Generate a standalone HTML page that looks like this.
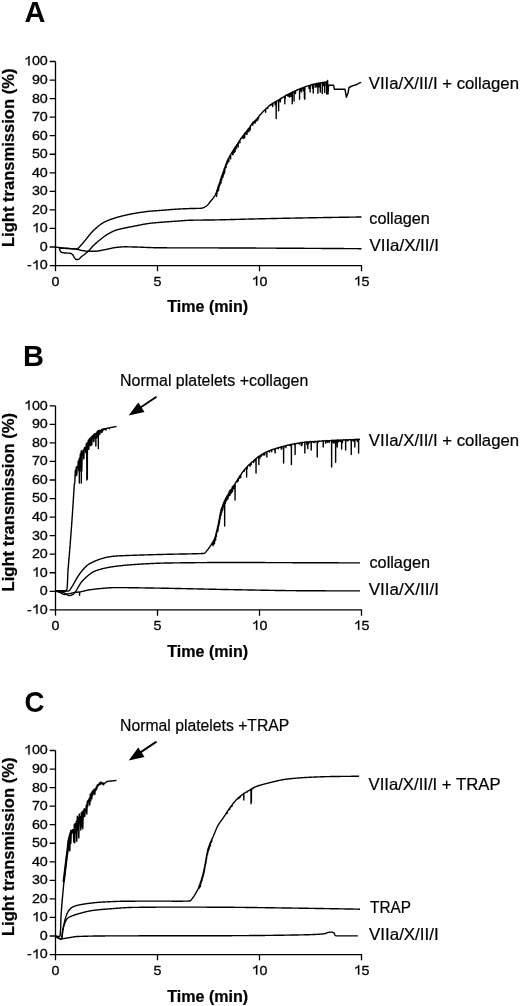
<!DOCTYPE html><html><head><meta charset="utf-8"><style>html,body{margin:0;padding:0;background:#fff;}svg{display:block;will-change:transform;filter:blur(0.35px);}text{font-family:"Liberation Sans",sans-serif;fill:#000;-webkit-font-smoothing:antialiased;}</style></head><body>
<svg width="520" height="1006" viewBox="0 0 520 1006">
<rect width="520" height="1006" fill="#fff"/>
<path d="M55.50 61.50 V271.35M49.70 265.55 H361.50 V271.35M49.70 247.00 H55.50M49.70 228.45 H55.50M49.70 209.90 H55.50M49.70 191.35 H55.50M49.70 172.80 H55.50M49.70 154.25 H55.50M49.70 135.70 H55.50M49.70 117.15 H55.50M49.70 98.60 H55.50M49.70 80.05 H55.50M49.70 61.50 H55.50M157.50 265.55 V271.35M259.50 265.55 V271.35M55.50 405.80 V615.65M49.70 609.85 H361.50 V615.65M49.70 591.30 H55.50M49.70 572.75 H55.50M49.70 554.20 H55.50M49.70 535.65 H55.50M49.70 517.10 H55.50M49.70 498.55 H55.50M49.70 480.00 H55.50M49.70 461.45 H55.50M49.70 442.90 H55.50M49.70 424.35 H55.50M49.70 405.80 H55.50M157.50 609.85 V615.65M259.50 609.85 V615.65M55.50 750.50 V960.35M49.70 954.55 H361.50 V960.35M49.70 936.00 H55.50M49.70 917.45 H55.50M49.70 898.90 H55.50M49.70 880.35 H55.50M49.70 861.80 H55.50M49.70 843.25 H55.50M49.70 824.70 H55.50M49.70 806.15 H55.50M49.70 787.60 H55.50M49.70 769.05 H55.50M49.70 750.50 H55.50M157.50 954.55 V960.35M259.50 954.55 V960.35" stroke="#000" stroke-width="1.3" fill="none"/>
<path d="M59.60 248.20L60.00 248.21L60.40 248.23L60.80 248.24L61.20 248.26L61.60 248.27L62.00 248.29L62.40 248.30L62.80 248.32L63.20 248.33L63.61 248.35L64.01 248.36L64.41 248.38L64.81 248.39L65.21 248.41L65.61 248.42L66.01 248.44L66.41 248.45L66.81 248.47L67.21 248.48L67.61 248.50L68.01 248.51L68.41 248.53L68.81 248.55L69.21 248.56L69.61 248.58L70.01 248.60L70.42 248.62L70.83 248.65L71.24 248.67L71.66 248.70L72.08 248.73L72.50 248.76L72.92 248.79L73.33 248.82L73.75 248.85L74.16 248.88L74.57 248.91L74.97 248.93L75.36 248.95L75.74 248.97L76.12 248.99L76.48 249.00L76.83 249.00L77.16 248.97L77.49 248.85L77.81 248.66L78.12 248.41L78.42 248.12L78.72 247.79L79.01 247.44L79.30 247.09L79.58 246.75L79.87 246.44L80.15 246.15L80.43 245.87L80.70 245.58L80.97 245.28L81.24 244.99L81.51 244.69L81.77 244.39L82.03 244.08L82.29 243.77L82.55 243.47L82.80 243.16L83.06 242.84L83.31 242.53L83.57 242.22L83.82 241.91L84.08 241.60L84.33 241.29L84.59 240.98L84.85 240.68L85.11 240.37L85.37 240.06L85.63 239.76L85.88 239.45L86.14 239.14L86.39 238.82L86.65 238.51L86.90 238.20L87.15 237.88L87.40 237.56L87.65 237.25L87.91 236.93L88.16 236.62L88.41 236.30L88.66 235.98L88.91 235.67L89.16 235.36L89.42 235.04L89.67 234.73L89.93 234.42L90.18 234.11L90.44 233.80L90.70 233.50L90.96 233.19L91.22 232.89L91.49 232.59L91.76 232.30L92.02 232.01L92.30 231.71L92.57 231.43L92.85 231.14L93.13 230.86L93.41 230.59L93.69 230.31L93.98 230.04L94.27 229.77L94.56 229.49L94.86 229.22L95.15 228.94L95.45 228.67L95.75 228.40L96.05 228.13L96.35 227.85L96.66 227.59L96.97 227.32L97.27 227.05L97.59 226.79L97.90 226.52L98.21 226.26L98.53 226.01L98.85 225.75L99.17 225.50L99.49 225.25L99.81 225.01L100.14 224.76L100.46 224.53L100.79 224.29L101.12 224.06L101.45 223.84L101.78 223.62L102.12 223.40L102.45 223.19L102.79 222.99L103.13 222.79L103.47 222.59L103.81 222.40L104.15 222.22L104.50 222.04L104.84 221.87L105.20 221.69L105.55 221.52L105.91 221.35L106.27 221.19L106.63 221.03L107.00 220.87L107.36 220.71L107.73 220.55L108.10 220.40L108.48 220.25L108.85 220.10L109.23 219.95L109.61 219.81L109.99 219.67L110.37 219.53L110.75 219.39L111.13 219.25L111.51 219.12L111.90 218.98L112.28 218.85L112.67 218.72L113.05 218.59L113.44 218.47L113.82 218.34L114.21 218.22L114.59 218.09L114.98 217.97L115.36 217.85L115.75 217.73L116.13 217.61L116.51 217.50L116.89 217.38L117.28 217.27L117.66 217.15L118.04 217.04L118.43 216.94L118.82 216.83L119.20 216.72L119.59 216.62L119.98 216.52L120.37 216.41L120.75 216.31L121.14 216.22L121.53 216.12L121.92 216.02L122.31 215.93L122.70 215.83L123.09 215.74L123.48 215.65L123.88 215.56L124.27 215.47L124.66 215.38L125.05 215.29L125.44 215.20L125.83 215.11L126.22 215.03L126.61 214.94L127.00 214.85L127.39 214.77L127.79 214.69L128.18 214.60L128.57 214.52L128.96 214.44L129.36 214.36L129.75 214.28L130.14 214.20L130.54 214.12L130.93 214.04L131.32 213.96L131.72 213.89L132.11 213.81L132.51 213.74L132.90 213.67L133.29 213.60L133.69 213.53L134.08 213.46L134.48 213.39L134.87 213.32L135.27 213.26L135.66 213.19L136.06 213.12L136.45 213.06L136.85 212.99L137.24 212.93L137.64 212.87L138.03 212.80L138.43 212.74L138.83 212.67L139.22 212.61L139.62 212.55L140.02 212.49L140.41 212.43L140.81 212.37L141.21 212.31L141.60 212.25L142.00 212.19L142.40 212.13L142.79 212.07L143.19 212.02L143.59 211.96L143.99 211.91L144.38 211.85L144.78 211.80L145.18 211.75L145.58 211.70L145.97 211.65L146.37 211.60L146.77 211.55L147.17 211.50L147.57 211.46L147.96 211.41L148.36 211.37L148.76 211.32L149.16 211.28L149.56 211.24L149.95 211.20L150.35 211.17L150.75 211.13L151.15 211.10L151.55 211.06L151.95 211.03L152.35 211.00L152.75 210.97L153.15 210.93L153.55 210.91L153.95 210.88L154.35 210.85L154.75 210.82L155.15 210.79L155.55 210.76L155.95 210.74L156.35 210.71L156.75 210.68L157.15 210.66L157.55 210.63L157.95 210.60L158.35 210.58L158.75 210.55L159.15 210.52L159.55 210.49L159.95 210.46L160.35 210.43L160.75 210.40L161.15 210.37L161.55 210.34L161.94 210.31L162.34 210.28L162.74 210.25L163.14 210.21L163.54 210.18L163.94 210.15L164.34 210.11L164.74 210.08L165.14 210.04L165.54 210.01L165.94 209.98L166.34 209.94L166.74 209.91L167.14 209.87L167.54 209.84L167.94 209.80L168.34 209.77L168.74 209.74L169.13 209.70L169.53 209.67L169.93 209.64L170.33 209.60L170.73 209.57L171.13 209.54L171.53 209.51L171.93 209.48L172.33 209.45L172.73 209.42L173.13 209.39L173.53 209.36L173.93 209.33L174.33 209.30L174.73 209.28L175.13 209.25L175.53 209.23L175.93 209.20L176.33 209.18L176.73 209.16L177.13 209.14L177.53 209.11L177.93 209.09L178.33 209.07L178.73 209.05L179.13 209.03L179.53 209.00L179.93 208.98L180.33 208.96L180.73 208.94L181.13 208.92L181.53 208.90L181.93 208.88L182.33 208.86L182.73 208.84L183.13 208.82L183.53 208.80L183.93 208.78L184.33 208.77L184.73 208.75L185.14 208.73L185.54 208.71L185.94 208.70L186.34 208.68L186.74 208.66L187.14 208.65L187.54 208.63L187.94 208.62L188.34 208.60L188.74 208.59L189.14 208.57L189.54 208.56L189.94 208.55L190.34 208.53L190.74 208.52L191.14 208.51L191.54 208.50L191.94 208.49L192.35 208.48L192.75 208.47L193.15 208.46L193.55 208.46L193.96 208.45L194.36 208.44L194.76 208.44L195.17 208.43L195.57 208.43L195.98 208.42L196.38 208.42L196.78 208.41L197.18 208.41L197.58 208.40L197.98 208.39L198.38 208.38L198.78 208.37L199.18 208.36L199.58 208.35L199.97 208.33L200.37 208.32L200.76 208.30L201.15 208.27L201.55 208.21L201.94 208.12L202.34 208.01L202.72 207.88L203.11 207.75L203.49 207.60L203.86 207.46L204.22 207.31L204.58 207.14L204.93 206.95L205.29 206.75L205.63 206.53L205.97 206.30L206.30 206.06L206.62 205.81L206.92 205.56L207.22 205.31L207.50 205.04L207.78 204.76L208.05 204.47L208.31 204.17L208.57 203.86L208.82 203.54L209.07 203.22L209.32 202.90L209.57 202.57L209.82 202.25L210.06 201.93L210.31 201.61L210.56 201.30L210.82 200.99L211.08 200.68L211.34 200.37L211.60 200.06L211.86 199.74L212.12 199.43L212.38 199.12L212.64 198.81L212.90 198.49L213.15 198.17L213.40 197.86L213.64 197.53L213.87 197.21L214.10 196.88L214.32 196.55L214.53 196.22L214.73 195.88L214.92 195.54L215.10 195.20L215.28 194.85L215.44 194.49L215.61 194.13L215.76 193.77L215.92 193.40L216.07 193.03L216.21 192.66L216.35 192.28L216.49 191.90L216.57 196.37L216.65 191.90L216.63 191.52L216.71 195.66L216.79 191.52L216.76 191.14L216.84 192.92L216.92 191.14L216.89 190.75L216.97 193.62L217.05 190.75L217.02 190.37L217.15 189.99L217.28 189.60L217.41 189.22L217.54 188.83L217.67 188.45L217.75 187.60L217.83 188.45L217.80 188.07L217.88 187.30L217.96 188.07L217.93 187.69L218.01 191.07L218.09 187.69L218.07 187.31L218.20 186.93L218.28 186.62L218.36 186.93L218.33 186.55L218.41 187.91L218.49 186.55L218.46 186.18L218.54 185.13L218.62 186.18L218.59 185.80L218.67 190.20L218.75 185.80L218.72 185.42L218.85 185.04L218.97 184.66L219.10 184.28L219.23 183.90L219.31 186.71L219.39 183.90L219.35 183.52L219.48 183.13L219.56 183.64L219.64 183.13L219.60 182.75L219.68 183.81L219.76 182.75L219.72 182.37L219.85 181.99L219.93 185.14L220.01 181.99L219.97 181.61L220.10 181.23L220.22 180.85L220.35 180.47L220.43 181.99L220.51 180.47L220.47 180.09L220.55 178.91L220.63 180.09L220.60 179.70L220.68 181.53L220.76 179.70L220.72 179.32L220.85 178.94L220.98 178.56L221.06 183.11L221.14 178.56L221.11 178.18L221.24 177.81L221.36 177.43L221.44 176.29L221.52 177.43L221.49 177.05L221.62 176.67L221.70 179.97L221.78 176.67L221.75 176.29L221.88 175.91L221.96 177.41L222.04 175.91L222.00 175.53L222.08 178.09L222.16 175.53L222.13 175.15L222.26 174.77L222.34 175.01L222.42 174.77L222.39 174.39L222.47 173.98L222.55 174.39L222.52 174.01L222.65 173.63L222.78 173.25L222.86 177.43L222.94 173.25L222.91 172.87L222.99 176.30L223.07 172.87L223.04 172.49L223.12 176.24L223.20 172.49L223.17 172.11L223.30 171.73L223.38 171.80L223.46 171.73L223.43 171.36L223.57 170.98L223.70 170.60L223.78 174.52L223.86 170.60L223.83 170.22L223.91 174.05L223.99 170.22L223.97 169.84L224.10 169.47L224.24 169.09L224.32 168.46L224.40 169.09L224.37 168.71L224.45 173.10L224.53 168.71L224.51 168.34L224.64 167.96L224.72 172.35L224.80 167.96L224.78 167.58L224.86 170.26L224.94 167.58L224.91 167.20L225.05 166.82L225.18 166.44L225.32 166.06L225.45 165.69L225.53 167.91L225.61 165.69L225.59 165.31L225.73 164.93L225.81 167.60L225.89 164.93L225.87 164.55L226.01 164.18L226.09 167.47L226.17 164.18L226.15 163.80L226.29 163.43L226.44 163.06L226.59 162.68L226.67 163.93L226.75 162.68L226.74 162.31L226.82 161.19L226.90 162.31L226.89 161.94L227.05 161.58L227.13 164.05L227.21 161.58L227.21 161.21L227.37 160.85L227.53 160.49L227.61 162.89L227.69 160.49L227.70 160.12L227.87 159.76L228.05 159.40L228.13 158.73L228.21 159.40L228.22 159.04L228.40 158.69L228.59 158.33L228.77 157.97L228.85 161.63L228.93 157.97L228.96 157.62L229.15 157.26L229.34 156.91L229.53 156.56L229.61 156.24L229.69 156.56L229.73 156.21L229.81 155.74L229.89 156.21L229.92 155.85L230.12 155.50L230.20 156.53L230.28 155.50L230.32 155.15L230.52 154.81L230.60 158.87L230.68 154.81L230.72 154.46L230.93 154.11L231.13 153.77L231.33 153.42L231.54 153.07L231.62 153.39L231.70 153.07L231.74 152.73L231.95 152.39L232.15 152.04L232.36 151.70L232.44 153.38L232.52 151.70L232.58 151.37L232.66 154.85L232.74 151.37L232.79 151.03L232.87 154.50L232.95 151.03L233.01 150.69L233.09 154.45L233.17 150.69L233.23 150.36L233.31 153.25L233.39 150.36L233.45 150.02L233.67 149.69L233.75 152.54L233.83 149.69L233.90 149.36L234.12 149.02L234.35 148.69L234.43 152.34L234.51 148.69L234.57 148.36L234.80 148.03L234.88 147.14L234.96 148.03L235.03 147.70L235.11 151.57L235.19 147.70L235.25 147.37L235.33 149.52L235.41 147.37L235.48 147.04L235.70 146.70L235.78 147.51L235.86 146.70L235.93 146.37L236.15 146.04L236.37 145.70L236.45 148.43L236.53 145.70L236.59 145.37L236.67 144.97L236.75 145.37L236.80 145.03L236.88 144.50L236.96 145.03L237.02 144.69L237.10 145.26L237.18 144.69L237.23 144.35L237.45 144.01L237.53 143.67L237.61 144.01L237.66 143.67L237.74 145.21L237.82 143.67L237.87 143.33L237.95 146.31L238.03 143.33L238.08 142.99L238.16 146.94L238.24 142.99L238.29 142.65L238.37 143.32L238.45 142.65L238.51 142.31L238.72 141.97L238.93 141.63L239.15 141.29L239.37 140.96L239.45 140.50L239.53 140.96L239.59 140.62L239.81 140.29L239.89 142.86L239.97 140.29L240.03 139.96L240.25 139.62L240.48 139.29L240.56 138.75L240.64 139.29L240.71 138.96L240.93 138.63L241.16 138.30L241.40 137.97L241.63 137.65L241.86 137.32L242.10 137.00L242.18 138.05L242.26 137.00L242.34 136.67L242.58 136.35L242.82 136.04L243.06 135.72L243.14 137.73L243.22 135.72L243.31 135.41L243.39 137.86L243.47 135.41L243.57 135.10L243.65 138.17L243.73 135.10L243.83 134.79L243.91 138.50L243.99 134.79L244.09 134.49L244.17 133.96L244.25 134.49L244.35 134.19L244.62 133.88L244.70 137.24L244.78 133.88L244.88 133.58L245.14 133.28L245.22 132.68L245.30 133.28L245.40 132.97L245.48 132.50L245.56 132.97L245.65 132.66L245.73 133.68L245.81 132.66L245.90 132.35L246.15 132.03L246.23 132.47L246.31 132.03L246.40 131.72L246.48 131.33L246.56 131.72L246.65 131.40L246.73 133.41L246.81 131.40L246.90 131.09L246.98 134.51L247.06 131.09L247.14 130.77L247.39 130.45L247.47 131.59L247.55 130.45L247.63 130.13L247.71 129.68L247.79 130.13L247.87 129.81L247.95 129.26L248.03 129.81L248.11 129.49L248.19 128.99L248.27 129.49L248.35 129.17L248.43 130.50L248.51 129.17L248.59 128.85L248.67 131.06L248.75 128.85L248.82 128.52L248.90 131.78L248.98 128.52L249.06 128.20L249.14 127.87L249.22 128.20L249.29 127.87L249.52 127.54L249.74 127.21L249.82 128.22L249.90 127.21L249.95 126.87L250.03 130.17L250.11 126.87L250.17 126.52L250.25 128.87L250.33 126.52L250.38 126.18L250.46 125.74L250.54 126.18L250.59 125.84L250.81 125.50L251.02 125.16L251.25 124.83L251.47 124.50L251.71 124.18L251.95 123.86L252.20 123.56L252.46 123.26L252.54 122.74L252.62 123.26L252.74 122.97L252.82 125.19L252.90 122.97L253.02 122.69L253.10 123.44L253.18 122.69L253.30 122.40L253.38 121.81L253.46 122.40L253.59 122.13L253.67 123.32L253.75 122.13L253.88 121.85L254.18 121.58L254.48 121.30L254.77 121.02L255.06 120.75L255.14 123.13L255.22 120.75L255.35 120.46L255.63 120.18L255.71 121.08L255.79 120.18L255.91 119.89L255.99 120.24L256.07 119.89L256.18 119.59L256.45 119.30L256.53 120.99L256.61 119.30L256.71 119.00L256.79 120.84L256.87 119.00L256.98 118.70L257.24 118.39L257.32 120.31L257.40 118.39L257.50 118.09L257.76 117.78L257.84 119.87L257.92 117.78L258.02 117.47L258.28 117.17L258.36 118.22L258.44 117.17L258.53 116.86L258.61 117.82L258.69 116.86L258.79 116.55L259.05 116.24L259.30 115.93L259.56 115.62L259.81 115.31L260.07 115.00L260.33 114.69L260.59 114.38L260.85 114.08L261.11 113.77L261.37 113.47L261.63 113.17L261.90 112.87L262.17 112.58L262.44 112.29L262.71 112.00L262.99 111.71L263.27 111.42L263.55 111.14L263.83 110.85L264.11 110.57L264.40 110.28L264.68 110.00L264.97 109.71L265.26 109.43L265.54 109.14L265.62 112.30L265.70 109.14L265.83 108.86L266.12 108.58L266.42 108.30L266.71 108.03L267.01 107.75L267.30 107.48L267.60 107.21L267.68 108.55L267.76 107.21L267.90 106.94L268.21 106.68L268.51 106.42L268.82 106.16L269.12 105.90L269.43 105.65L269.74 105.40L270.06 105.16L270.37 104.92L270.69 104.68L271.01 104.45L271.33 104.22L271.66 104.00L271.99 103.78L272.07 105.20L272.15 103.78L272.33 103.56L272.67 103.35L272.75 106.45L272.83 103.35L273.01 103.14L273.35 102.94L273.70 102.73L274.04 102.53L274.39 102.33L274.74 102.13L275.09 101.93L275.17 104.68L275.25 101.93L275.45 101.74L275.80 101.54L275.88 104.63L275.96 101.54L276.15 101.34L276.20 118.50L276.25 101.34L276.50 101.15L276.58 102.33L276.66 101.15L276.85 100.95L277.21 100.75L277.55 100.55L277.90 100.35L278.25 100.15L278.59 99.94L278.64 110.80L278.69 99.94L278.94 99.74L279.28 99.53L279.36 100.88L279.44 99.53L279.62 99.32L279.97 99.11L280.31 98.90L280.39 101.88L280.47 98.90L280.65 98.70L280.99 98.49L281.07 98.19L281.15 98.49L281.34 98.28L281.68 98.07L282.02 97.86L282.36 97.65L282.70 97.44L283.05 97.23L283.39 97.03L283.73 96.82L284.08 96.62L284.42 96.41L284.77 96.21L284.82 103.80L284.87 96.21L285.12 96.01L285.20 98.60L285.28 96.01L285.47 95.81L285.55 95.51L285.63 95.81L285.81 95.62L286.16 95.42L286.51 95.23L286.59 94.93L286.67 95.23L286.86 95.03L287.22 94.84L287.30 95.71L287.38 94.84L287.57 94.65L287.92 94.46L288.28 94.27L288.36 96.08L288.44 94.27L288.63 94.08L288.98 93.90L289.34 93.71L289.42 97.12L289.50 93.71L289.70 93.53L290.05 93.34L290.13 95.82L290.21 93.34L290.41 93.16L290.77 92.98L290.85 96.37L290.93 92.98L291.13 92.80L291.21 93.04L291.29 92.80L291.48 92.62L291.84 92.44L292.20 92.26L292.25 103.80L292.30 92.26L292.56 92.09L292.93 91.91L293.29 91.74L293.65 91.57L294.01 91.40L294.06 101.00L294.11 91.40L294.37 91.23L294.74 91.07L295.10 90.90L295.47 90.73L295.55 93.55L295.63 90.73L295.83 90.57L296.20 90.41L296.57 90.24L296.93 90.08L297.30 89.92L297.38 89.62L297.46 89.92L297.67 89.76L298.04 89.61L298.41 89.45L298.78 89.29L299.15 89.14L299.52 88.99L299.57 99.20L299.62 88.99L299.89 88.84L300.26 88.69L300.63 88.54L300.71 89.78L300.79 88.54L301.01 88.39L301.09 91.21L301.17 88.39L301.38 88.25L301.46 91.87L301.54 88.25L301.75 88.10L302.13 87.96L302.50 87.82L302.58 88.51L302.66 87.82L302.88 87.67L303.25 87.53L303.33 90.88L303.41 87.53L303.63 87.39L303.71 90.48L303.79 87.39L304.00 87.25L304.38 87.11L304.43 98.00L304.48 87.11L304.76 86.98L304.81 99.20L304.86 86.98L305.14 86.84L305.51 86.71L305.89 86.57L306.27 86.44L306.65 86.31L307.03 86.18L307.41 86.06L307.79 85.93L308.18 85.81L308.56 85.69L308.94 85.58L309.02 88.53L309.10 85.58L309.32 85.46L309.40 86.86L309.48 85.46L309.71 85.35L310.09 85.24L310.14 92.00L310.19 85.24L310.48 85.13L310.86 85.01L311.25 84.90L311.63 84.80L311.71 84.50L311.79 84.80L312.02 84.69L312.10 84.39L312.18 84.69L312.41 84.58L312.49 88.23L312.57 84.58L312.80 84.48L313.18 84.38L313.23 93.00L313.28 84.38L313.57 84.27L313.96 84.18L314.04 83.88L314.12 84.18L314.35 84.08L314.74 83.99L315.13 83.89L315.21 87.38L315.29 83.89L315.52 83.81L315.91 83.72L315.99 85.49L316.07 83.72L316.31 83.64L316.70 83.56L316.78 86.88L316.86 83.56L317.09 83.48L317.48 83.41L317.88 83.33L317.93 93.30L317.98 83.33L318.27 83.26L318.66 83.19L318.74 84.07L318.82 83.19L319.05 83.12L319.13 86.91L319.21 83.12L319.45 83.05L319.84 82.98L320.24 82.91L320.29 92.00L320.34 82.91L320.63 82.85L321.03 82.78L321.42 82.72L321.82 82.65L322.22 82.59L322.27 93.50L322.32 82.59L322.61 82.53L322.69 84.78L322.77 82.53L323.01 82.48L323.09 85.85L323.17 82.48L323.41 82.42L323.49 85.52L323.57 82.42L323.80 82.37L324.20 82.31L324.60 82.26L324.65 92.50L324.70 82.26L325.00 82.21L325.40 82.17L325.80 82.12L326.20 82.08L326.28 85.83L326.36 82.08L326.60 82.04L326.65 94.00L326.70 82.04L326.68 81.74L326.76 82.04L327.00 82.00L327.30 82.00L327.60 80.50L328.00 94.00L328.60 85.20L333.60 85.20L334.30 89.20L345.00 89.20L346.40 97.30L348.00 93.00L349.00 87.50L351.00 86.50L353.80 85.40L357.00 84.50L359.00 83.20L361.20 82.30" stroke="#000" stroke-width="1.40" fill="none" stroke-linejoin="round"/>
<path d="M59.60 248.20L59.62 248.66L59.66 249.10L59.73 249.51L59.82 249.91L59.93 250.28L60.05 250.63L60.18 250.96L60.35 251.27L60.61 251.58L60.92 251.88L61.28 252.14L61.65 252.36L62.00 252.50L62.36 252.60L62.74 252.69L63.13 252.77L63.54 252.84L63.95 252.90L64.36 252.95L64.77 252.98L65.17 253.01L65.57 253.03L65.98 253.05L66.39 253.06L66.80 253.08L67.20 253.08L67.61 253.09L68.02 253.10L68.42 253.12L68.82 253.13L69.21 253.15L69.60 253.17L69.98 253.20L70.36 253.26L70.75 253.38L71.13 253.56L71.51 253.76L71.86 254.00L72.19 254.24L72.48 254.48L72.73 254.74L72.96 255.04L73.16 255.38L73.35 255.74L73.54 256.12L73.72 256.51L73.91 256.88L74.11 257.25L74.33 257.58L74.57 257.89L74.84 258.22L75.13 258.56L75.43 258.90L75.74 259.18L76.07 259.39L76.41 259.50L76.78 259.49L77.18 259.47L77.61 259.43L78.02 259.38L78.41 259.32L78.75 259.23L79.06 259.05L79.36 258.81L79.65 258.51L79.93 258.19L80.21 257.85L80.49 257.51L80.78 257.20L81.08 256.93L81.39 256.68L81.71 256.44L82.03 256.19L82.35 255.96L82.67 255.72L83.00 255.49L83.33 255.25L83.65 255.02L83.98 254.78L84.30 254.54L84.62 254.30L84.93 254.05L85.25 253.80L85.56 253.55L85.87 253.30L86.18 253.04L86.49 252.79L86.80 252.53L87.11 252.27L87.41 252.00L87.71 251.74L88.00 251.47L88.30 251.19L88.58 250.92L88.87 250.64L89.14 250.35L89.41 250.05L89.68 249.76L89.95 249.46L90.21 249.15L90.47 248.85L90.73 248.54L90.99 248.23L91.25 247.92L91.51 247.62L91.78 247.31L92.04 247.01L92.31 246.72L92.59 246.42L92.86 246.14L93.15 245.86L93.43 245.58L93.72 245.30L94.01 245.02L94.30 244.74L94.59 244.47L94.88 244.20L95.18 243.92L95.47 243.65L95.77 243.38L96.07 243.11L96.37 242.85L96.67 242.58L96.98 242.32L97.28 242.06L97.59 241.79L97.89 241.53L98.20 241.27L98.51 241.02L98.82 240.76L99.13 240.50L99.44 240.25L99.75 240.00L100.06 239.75L100.37 239.50L100.69 239.25L101.00 239.00L101.32 238.75L101.63 238.50L101.95 238.26L102.26 238.01L102.58 237.76L102.90 237.51L103.22 237.27L103.54 237.02L103.86 236.78L104.19 236.54L104.51 236.30L104.84 236.07L105.16 235.83L105.49 235.60L105.82 235.37L106.16 235.15L106.49 234.93L106.83 234.71L107.16 234.50L107.50 234.29L107.84 234.09L108.19 233.89L108.53 233.69L108.88 233.50L109.23 233.30L109.58 233.11L109.94 232.91L110.29 232.72L110.65 232.53L111.01 232.35L111.37 232.16L111.73 231.98L112.09 231.80L112.46 231.62L112.82 231.45L113.19 231.28L113.56 231.12L113.93 230.96L114.30 230.80L114.67 230.65L115.04 230.51L115.42 230.37L115.79 230.24L116.17 230.11L116.54 229.99L116.92 229.87L117.30 229.76L117.68 229.65L118.07 229.54L118.45 229.44L118.84 229.34L119.23 229.25L119.62 229.15L120.01 229.06L120.40 228.97L120.80 228.89L121.19 228.80L121.59 228.72L121.98 228.63L122.38 228.55L122.77 228.47L123.17 228.39L123.56 228.30L123.95 228.22L124.35 228.14L124.74 228.06L125.13 227.97L125.52 227.89L125.92 227.80L126.31 227.72L126.70 227.64L127.09 227.56L127.49 227.47L127.88 227.39L128.27 227.31L128.66 227.23L129.06 227.16L129.45 227.08L129.84 227.00L130.24 226.92L130.63 226.84L131.02 226.77L131.42 226.69L131.81 226.61L132.20 226.54L132.60 226.46L132.99 226.38L133.39 226.31L133.78 226.23L134.17 226.16L134.57 226.08L134.96 226.01L135.36 225.93L135.75 225.86L136.14 225.78L136.54 225.70L136.93 225.62L137.32 225.55L137.72 225.47L138.11 225.39L138.50 225.31L138.90 225.23L139.29 225.15L139.69 225.07L140.08 224.99L140.47 224.92L140.87 224.84L141.26 224.76L141.66 224.68L142.05 224.61L142.44 224.53L142.84 224.45L143.23 224.38L143.63 224.30L144.02 224.23L144.42 224.16L144.81 224.09L145.21 224.02L145.60 223.95L146.00 223.88L146.39 223.82L146.79 223.75L147.18 223.69L147.58 223.63L147.97 223.57L148.37 223.51L148.77 223.46L149.16 223.41L149.56 223.35L149.96 223.31L150.35 223.26L150.75 223.21L151.15 223.17L151.55 223.12L151.94 223.08L152.34 223.04L152.74 223.00L153.14 222.96L153.54 222.92L153.94 222.88L154.34 222.84L154.74 222.81L155.14 222.77L155.54 222.74L155.94 222.70L156.34 222.67L156.74 222.63L157.14 222.60L157.54 222.57L157.94 222.53L158.34 222.50L158.74 222.47L159.14 222.44L159.54 222.40L159.94 222.37L160.33 222.34L160.73 222.31L161.13 222.27L161.53 222.24L161.93 222.21L162.33 222.18L162.73 222.15L163.13 222.11L163.53 222.08L163.93 222.05L164.33 222.02L164.73 221.99L165.13 221.96L165.53 221.93L165.93 221.90L166.33 221.87L166.73 221.84L167.13 221.82L167.53 221.79L167.93 221.76L168.33 221.73L168.73 221.70L169.13 221.67L169.53 221.64L169.93 221.62L170.33 221.59L170.73 221.56L171.13 221.53L171.53 221.51L171.93 221.48L172.33 221.45L172.73 221.42L173.13 221.40L173.53 221.37L173.93 221.34L174.33 221.31L174.73 221.29L175.13 221.26L175.53 221.23L175.93 221.20L176.33 221.18L176.73 221.15L177.13 221.12L177.53 221.09L177.93 221.06L178.33 221.03L178.73 221.00L179.13 220.97L179.53 220.94L179.93 220.90L180.33 220.87L180.73 220.84L181.13 220.81L181.53 220.78L181.93 220.75L182.33 220.71L182.73 220.68L183.13 220.65L183.53 220.62L183.93 220.59L184.33 220.56L184.73 220.53L185.13 220.50L185.53 220.48L185.93 220.45L186.33 220.42L186.73 220.40L187.13 220.38L187.53 220.35L187.93 220.33L188.33 220.31L188.73 220.29L189.13 220.27L189.53 220.26L189.93 220.24L190.33 220.23L190.73 220.22L191.13 220.21L191.53 220.20L191.93 220.19L192.34 220.18L192.74 220.18L193.14 220.17L193.54 220.17L193.94 220.16L194.34 220.15L194.74 220.15L195.14 220.14L195.54 220.14L195.94 220.13L196.34 220.13L196.74 220.12L197.14 220.12L197.55 220.12L197.95 220.11L198.35 220.11L198.75 220.11L199.15 220.10L199.55 220.10L199.95 220.10L200.35 220.09L200.75 220.09L201.15 220.09L201.56 220.08L201.96 220.08L202.36 220.08L202.76 220.07L203.16 220.07L203.56 220.07L203.96 220.06L204.36 220.06L204.76 220.06L205.16 220.05L205.57 220.05L205.97 220.05L206.37 220.04L206.77 220.04L207.17 220.03L207.57 220.03L207.97 220.03L208.37 220.02L208.77 220.02L209.17 220.01L209.58 220.01L209.98 220.00L210.38 219.99L210.78 219.99L211.18 219.98L211.58 219.98L211.98 219.97L212.38 219.96L212.78 219.96L213.18 219.95L213.58 219.94L213.99 219.94L214.39 219.93L214.79 219.92L215.19 219.92L215.59 219.91L215.99 219.90L216.39 219.89L216.79 219.89L217.19 219.88L217.59 219.87L217.99 219.86L218.39 219.85L218.80 219.85L219.20 219.84L219.60 219.83L220.00 219.82L220.40 219.81L220.80 219.80L221.20 219.79L221.60 219.78L222.00 219.78L222.40 219.77L222.80 219.76L223.20 219.75L223.61 219.74L224.01 219.73L224.41 219.72L224.81 219.71L225.21 219.70L225.61 219.69L226.01 219.68L226.41 219.67L226.81 219.66L227.21 219.65L227.61 219.64L228.01 219.63L228.42 219.62L228.82 219.61L229.22 219.60L229.62 219.59L230.02 219.58L230.42 219.57L230.82 219.56L231.22 219.55L231.62 219.54L232.02 219.53L232.42 219.52L232.82 219.51L233.22 219.50L233.63 219.49L234.03 219.47L234.43 219.46L234.83 219.45L235.23 219.44L235.63 219.43L236.03 219.42L236.43 219.41L236.83 219.40L237.23 219.39L237.63 219.38L238.03 219.37L238.44 219.35L238.84 219.34L239.24 219.33L239.64 219.32L240.04 219.31L240.44 219.30L240.84 219.29L241.24 219.28L241.64 219.27L242.04 219.26L242.44 219.24L242.84 219.23L243.24 219.22L243.65 219.21L244.05 219.20L244.45 219.19L244.85 219.18L245.25 219.17L245.65 219.16L246.05 219.15L246.45 219.14L246.85 219.13L247.25 219.11L247.65 219.10L248.05 219.09L248.46 219.08L248.86 219.07L249.26 219.06L249.66 219.05L250.06 219.04L250.46 219.03L250.86 219.02L251.26 219.01L251.66 219.00L252.06 218.99L252.46 218.98L252.86 218.97L253.27 218.96L253.67 218.95L254.07 218.94L254.47 218.93L254.87 218.92L255.27 218.91L255.67 218.90L256.07 218.89L256.47 218.88L256.87 218.87L257.27 218.86L257.67 218.85L258.07 218.84L258.48 218.83L258.88 218.82L259.28 218.82L259.68 218.81L260.08 218.80L260.48 218.79L260.88 218.78L261.28 218.77L261.68 218.76L262.08 218.75L262.48 218.75L262.89 218.74L263.29 218.73L263.69 218.72L264.09 218.71L264.49 218.70L264.89 218.69L265.29 218.69L265.69 218.68L266.09 218.67L266.49 218.66L266.89 218.65L267.29 218.64L267.70 218.63L268.10 218.62L268.50 218.62L268.90 218.61L269.30 218.60L269.70 218.59L270.10 218.58L270.50 218.57L270.90 218.57L271.30 218.56L271.70 218.55L272.10 218.54L272.51 218.53L272.91 218.52L273.31 218.51L273.71 218.51L274.11 218.50L274.51 218.49L274.91 218.48L275.31 218.47L275.71 218.46L276.11 218.46L276.51 218.45L276.91 218.44L277.32 218.43L277.72 218.42L278.12 218.41L278.52 218.41L278.92 218.40L279.32 218.39L279.72 218.38L280.12 218.37L280.52 218.36L280.92 218.36L281.32 218.35L281.72 218.34L282.13 218.33L282.53 218.32L282.93 218.31L283.33 218.31L283.73 218.30L284.13 218.29L284.53 218.28L284.93 218.27L285.33 218.27L285.73 218.26L286.13 218.25L286.54 218.24L286.94 218.23L287.34 218.23L287.74 218.22L288.14 218.21L288.54 218.20L288.94 218.19L289.34 218.19L289.74 218.18L290.14 218.17L290.54 218.16L290.94 218.15L291.35 218.15L291.75 218.14L292.15 218.13L292.55 218.12L292.95 218.12L293.35 218.11L293.75 218.10L294.15 218.09L294.55 218.08L294.95 218.08L295.35 218.07L295.76 218.06L296.16 218.05L296.56 218.05L296.96 218.04L297.36 218.03L297.76 218.02L298.16 218.02L298.56 218.01L298.96 218.00L299.36 217.99L299.76 217.99L300.16 217.98L300.57 217.97L300.97 217.96L301.37 217.96L301.77 217.95L302.17 217.94L302.57 217.93L302.97 217.93L303.37 217.92L303.77 217.91L304.17 217.90L304.57 217.90L304.97 217.89L305.38 217.88L305.78 217.88L306.18 217.87L306.58 217.86L306.98 217.85L307.38 217.85L307.78 217.84L308.18 217.83L308.58 217.82L308.98 217.82L309.38 217.81L309.79 217.80L310.19 217.80L310.59 217.79L310.99 217.78L311.39 217.78L311.79 217.77L312.19 217.76L312.59 217.75L312.99 217.75L313.39 217.74L313.79 217.73L314.20 217.73L314.60 217.72L315.00 217.71L315.40 217.71L315.80 217.70L316.20 217.69L316.60 217.69L317.00 217.68L317.40 217.67L317.80 217.67L318.20 217.66L318.60 217.65L319.01 217.65L319.41 217.64L319.81 217.63L320.21 217.62L320.61 217.62L321.01 217.61L321.41 217.60L321.81 217.60L322.21 217.59L322.61 217.58L323.01 217.58L323.42 217.57L323.82 217.56L324.22 217.56L324.62 217.55L325.02 217.54L325.42 217.54L325.82 217.53L326.22 217.53L326.62 217.52L327.02 217.51L327.42 217.51L327.82 217.50L328.23 217.49L328.63 217.49L329.03 217.48L329.43 217.47L329.83 217.47L330.23 217.46L330.63 217.45L331.03 217.45L331.43 217.44L331.83 217.43L332.23 217.43L332.64 217.42L333.04 217.42L333.44 217.41L333.84 217.40L334.24 217.40L334.64 217.39L335.04 217.38L335.44 217.38L335.84 217.37L336.24 217.37L336.64 217.36L337.05 217.35L337.45 217.35L337.85 217.34L338.25 217.33L338.65 217.33L339.05 217.32L339.45 217.32L339.85 217.31L340.25 217.30L340.65 217.30L341.05 217.29L341.46 217.29L341.86 217.28L342.26 217.27L342.66 217.27L343.06 217.26L343.46 217.25L343.86 217.25L344.26 217.24L344.66 217.24L345.06 217.23L345.46 217.23L345.86 217.22L346.27 217.21L346.67 217.21L347.07 217.20L347.47 217.20L347.87 217.19L348.27 217.18L348.67 217.18L349.07 217.17L349.47 217.17L349.87 217.16L350.27 217.16L350.68 217.15L351.08 217.14L351.48 217.14L351.88 217.13L352.28 217.13L352.68 217.12L353.08 217.12L353.48 217.11L353.88 217.10L354.28 217.10L354.68 217.09L355.09 217.09L355.49 217.08L355.89 217.08L356.29 217.07L356.69 217.06L357.09 217.06L357.49 217.05L357.89 217.05L358.29 217.04L358.69 217.04L359.09 217.03L359.50 217.03L359.90 217.02L360.30 217.02L360.70 217.01L361.10 217.01L361.50 217.00" stroke="#000" stroke-width="1.40" fill="none" stroke-linejoin="round"/>
<path d="M55.60 247.00L56.00 247.07L56.39 247.13L56.79 247.19L57.18 247.26L57.58 247.32L57.98 247.38L58.37 247.44L58.77 247.49L59.17 247.55L59.56 247.60L59.96 247.64L60.36 247.69L60.76 247.73L61.16 247.78L61.55 247.82L61.95 247.86L62.35 247.90L62.75 247.94L63.15 247.98L63.55 248.01L63.95 248.05L64.35 248.09L64.75 248.12L65.14 248.16L65.54 248.19L65.94 248.23L66.34 248.26L66.74 248.30L67.14 248.34L67.54 248.37L67.94 248.41L68.34 248.44L68.74 248.48L69.14 248.52L69.54 248.55L69.94 248.59L70.34 248.63L70.73 248.67L71.13 248.71L71.53 248.74L71.93 248.78L72.34 248.81L72.74 248.85L73.14 248.88L73.54 248.92L73.94 248.96L74.33 248.99L74.73 249.03L75.13 249.08L75.53 249.12L75.93 249.17L76.32 249.22L76.72 249.27L77.11 249.33L77.50 249.40L77.89 249.49L78.28 249.58L78.67 249.68L79.06 249.78L79.45 249.89L79.84 250.00L80.23 250.10L80.62 250.20L81.01 250.30L81.40 250.39L81.79 250.46L82.18 250.53L82.58 250.60L82.97 250.66L83.37 250.73L83.77 250.80L84.16 250.86L84.56 250.93L84.96 250.99L85.36 251.05L85.75 251.10L86.15 251.15L86.55 251.19L86.95 251.23L87.35 251.26L87.75 251.28L88.15 251.30L88.55 251.30L88.95 251.30L89.35 251.30L89.75 251.30L90.15 251.30L90.55 251.30L90.95 251.30L91.36 251.30L91.76 251.30L92.16 251.30L92.56 251.30L92.96 251.30L93.36 251.30L93.76 251.30L94.16 251.30L94.56 251.30L94.96 251.30L95.36 251.29L95.76 251.27L96.16 251.24L96.56 251.19L96.95 251.14L97.35 251.08L97.75 251.01L98.14 250.94L98.54 250.86L98.94 250.79L99.33 250.72L99.73 250.65L100.12 250.58L100.52 250.51L100.91 250.44L101.31 250.37L101.70 250.30L102.09 250.22L102.49 250.14L102.88 250.06L103.27 249.98L103.66 249.90L104.06 249.82L104.45 249.74L104.84 249.65L105.23 249.57L105.63 249.49L106.02 249.40L106.41 249.32L106.80 249.24L107.20 249.16L107.59 249.08L107.98 249.00L108.38 248.93L108.77 248.85L109.16 248.76L109.55 248.68L109.95 248.60L110.34 248.51L110.73 248.43L111.13 248.34L111.52 248.26L111.91 248.17L112.31 248.09L112.70 248.01L113.09 247.93L113.49 247.86L113.88 247.78L114.27 247.71L114.67 247.65L115.06 247.58L115.46 247.53L115.86 247.47L116.25 247.43L116.65 247.38L117.05 247.34L117.44 247.30L117.84 247.26L118.24 247.22L118.64 247.18L119.04 247.14L119.44 247.11L119.84 247.07L120.24 247.03L120.64 247.00L121.04 246.97L121.44 246.94L121.84 246.91L122.24 246.89L122.64 246.86L123.04 246.85L123.44 246.83L123.84 246.82L124.24 246.81L124.65 246.80L125.05 246.80L125.45 246.80L125.85 246.80L126.25 246.81L126.65 246.81L127.05 246.81L127.45 246.82L127.85 246.83L128.25 246.83L128.65 246.84L129.05 246.85L129.45 246.86L129.85 246.87L130.25 246.88L130.65 246.89L131.06 246.90L131.46 246.91L131.86 246.92L132.26 246.93L132.66 246.94L133.06 246.95L133.46 246.96L133.86 246.97L134.26 246.98L134.66 246.99L135.06 247.00L135.46 247.01L135.86 247.02L136.27 247.03L136.67 247.04L137.07 247.06L137.47 247.07L137.87 247.08L138.27 247.09L138.67 247.11L139.07 247.12L139.47 247.14L139.87 247.15L140.27 247.17L140.67 247.18L141.07 247.20L141.47 247.21L141.87 247.23L142.27 247.24L142.68 247.26L143.08 247.28L143.48 247.29L143.88 247.31L144.28 247.33L144.68 247.34L145.08 247.36L145.48 247.38L145.88 247.39L146.28 247.41L146.68 247.43L147.08 247.44L147.48 247.46L147.88 247.48L148.28 247.49L148.68 247.51L149.08 247.53L149.48 247.54L149.89 247.56L150.29 247.57L150.69 247.59L151.09 247.60L151.49 247.62L151.89 247.63L152.29 247.64L152.69 247.66L153.09 247.67L153.49 247.68L153.89 247.69L154.29 247.70L154.69 247.71L155.09 247.72L155.49 247.73L155.89 247.74L156.29 247.75L156.70 247.76L157.10 247.77L157.50 247.77L157.90 247.78L158.30 247.79L158.70 247.79L159.10 247.79L159.50 247.80L159.90 247.80L160.30 247.80L160.70 247.80L161.10 247.80L161.50 247.81L161.90 247.81L162.30 247.81L162.71 247.81L163.11 247.81L163.51 247.81L163.91 247.81L164.31 247.82L164.71 247.82L165.11 247.82L165.51 247.82L165.91 247.82L166.31 247.82L166.71 247.82L167.11 247.83L167.51 247.83L167.91 247.83L168.32 247.83L168.72 247.83L169.12 247.83L169.52 247.83L169.92 247.83L170.32 247.83L170.72 247.83L171.12 247.84L171.52 247.84L171.92 247.84L172.32 247.84L172.72 247.84L173.12 247.84L173.53 247.84L173.93 247.84L174.33 247.84L174.73 247.84L175.13 247.84L175.53 247.84L175.93 247.85L176.33 247.85L176.73 247.85L177.13 247.85L177.53 247.85L177.93 247.85L178.34 247.85L178.74 247.85L179.14 247.85L179.54 247.85L179.94 247.85L180.34 247.85L180.74 247.85L181.14 247.85L181.54 247.85L181.94 247.86L182.34 247.86L182.74 247.86L183.14 247.86L183.55 247.86L183.95 247.86L184.35 247.86L184.75 247.86L185.15 247.86L185.55 247.86L185.95 247.86L186.35 247.86L186.75 247.86L187.15 247.86L187.55 247.86L187.95 247.86L188.36 247.86L188.76 247.86L189.16 247.86L189.56 247.87L189.96 247.87L190.36 247.87L190.76 247.87L191.16 247.87L191.56 247.87L191.96 247.87L192.36 247.87L192.76 247.87L193.17 247.87L193.57 247.87L193.97 247.87L194.37 247.87L194.77 247.87L195.17 247.87L195.57 247.87L195.97 247.87L196.37 247.87L196.77 247.87L197.17 247.87L197.57 247.88L197.98 247.88L198.38 247.88L198.78 247.88L199.18 247.88L199.58 247.88L199.98 247.88L200.38 247.88L200.78 247.88L201.18 247.88L201.58 247.88L201.98 247.88L202.38 247.88L202.79 247.88L203.19 247.88L203.59 247.89L203.99 247.89L204.39 247.89L204.79 247.89L205.19 247.89L205.59 247.89L205.99 247.89L206.39 247.89L206.79 247.89L207.19 247.89L207.60 247.89L208.00 247.89L208.40 247.90L208.80 247.90L209.20 247.90L209.60 247.90L210.00 247.90L210.40 247.90L210.80 247.90L211.20 247.90L211.60 247.90L212.00 247.91L212.40 247.91L212.81 247.91L213.21 247.91L213.61 247.91L214.01 247.91L214.41 247.91L214.81 247.91L215.21 247.91L215.61 247.92L216.01 247.92L216.41 247.92L216.81 247.92L217.21 247.92L217.62 247.92L218.02 247.92L218.42 247.92L218.82 247.93L219.22 247.93L219.62 247.93L220.02 247.93L220.42 247.93L220.82 247.93L221.22 247.93L221.62 247.93L222.02 247.94L222.42 247.94L222.83 247.94L223.23 247.94L223.63 247.94L224.03 247.94L224.43 247.94L224.83 247.95L225.23 247.95L225.63 247.95L226.03 247.95L226.43 247.95L226.83 247.95L227.23 247.95L227.64 247.96L228.04 247.96L228.44 247.96L228.84 247.96L229.24 247.96L229.64 247.96L230.04 247.96L230.44 247.97L230.84 247.97L231.24 247.97L231.64 247.97L232.04 247.97L232.44 247.97L232.85 247.97L233.25 247.98L233.65 247.98L234.05 247.98L234.45 247.98L234.85 247.98L235.25 247.98L235.65 247.99L236.05 247.99L236.45 247.99L236.85 247.99L237.25 247.99L237.66 247.99L238.06 248.00L238.46 248.00L238.86 248.00L239.26 248.00L239.66 248.00L240.06 248.00L240.46 248.01L240.86 248.01L241.26 248.01L241.66 248.01L242.06 248.01L242.46 248.01L242.87 248.02L243.27 248.02L243.67 248.02L244.07 248.02L244.47 248.02L244.87 248.02L245.27 248.03L245.67 248.03L246.07 248.03L246.47 248.03L246.87 248.03L247.27 248.03L247.68 248.04L248.08 248.04L248.48 248.04L248.88 248.04L249.28 248.04L249.68 248.05L250.08 248.05L250.48 248.05L250.88 248.05L251.28 248.05L251.68 248.05L252.08 248.06L252.48 248.06L252.89 248.06L253.29 248.06L253.69 248.06L254.09 248.07L254.49 248.07L254.89 248.07L255.29 248.07L255.69 248.07L256.09 248.07L256.49 248.08L256.89 248.08L257.29 248.08L257.69 248.08L258.10 248.08L258.50 248.09L258.90 248.09L259.30 248.09L259.70 248.09L260.10 248.09L260.50 248.10L260.90 248.10L261.30 248.10L261.70 248.10L262.10 248.10L262.50 248.11L262.91 248.11L263.31 248.11L263.71 248.11L264.11 248.11L264.51 248.12L264.91 248.12L265.31 248.12L265.71 248.12L266.11 248.12L266.51 248.13L266.91 248.13L267.31 248.13L267.71 248.13L268.12 248.13L268.52 248.14L268.92 248.14L269.32 248.14L269.72 248.14L270.12 248.14L270.52 248.15L270.92 248.15L271.32 248.15L271.72 248.15L272.12 248.15L272.52 248.16L272.93 248.16L273.33 248.16L273.73 248.16L274.13 248.16L274.53 248.17L274.93 248.17L275.33 248.17L275.73 248.17L276.13 248.17L276.53 248.18L276.93 248.18L277.33 248.18L277.73 248.18L278.14 248.18L278.54 248.19L278.94 248.19L279.34 248.19L279.74 248.19L280.14 248.19L280.54 248.20L280.94 248.20L281.34 248.20L281.74 248.20L282.14 248.21L282.54 248.21L282.94 248.21L283.35 248.21L283.75 248.21L284.15 248.22L284.55 248.22L284.95 248.22L285.35 248.22L285.75 248.22L286.15 248.23L286.55 248.23L286.95 248.23L287.35 248.23L287.75 248.23L288.16 248.24L288.56 248.24L288.96 248.24L289.36 248.24L289.76 248.25L290.16 248.25L290.56 248.25L290.96 248.25L291.36 248.25L291.76 248.26L292.16 248.26L292.56 248.26L292.96 248.26L293.37 248.26L293.77 248.27L294.17 248.27L294.57 248.27L294.97 248.27L295.37 248.28L295.77 248.28L296.17 248.28L296.57 248.28L296.97 248.28L297.37 248.29L297.77 248.29L298.18 248.29L298.58 248.29L298.98 248.29L299.38 248.30L299.78 248.30L300.18 248.30L300.58 248.30L300.98 248.31L301.38 248.31L301.78 248.31L302.18 248.31L302.58 248.31L302.98 248.32L303.39 248.32L303.79 248.32L304.19 248.32L304.59 248.33L304.99 248.33L305.39 248.33L305.79 248.33L306.19 248.33L306.59 248.34L306.99 248.34L307.39 248.34L307.79 248.34L308.19 248.35L308.60 248.35L309.00 248.35L309.40 248.35L309.80 248.35L310.20 248.36L310.60 248.36L311.00 248.36L311.40 248.36L311.80 248.37L312.20 248.37L312.60 248.37L313.00 248.37L313.41 248.38L313.81 248.38L314.21 248.38L314.61 248.38L315.01 248.39L315.41 248.39L315.81 248.39L316.21 248.39L316.61 248.40L317.01 248.40L317.41 248.40L317.81 248.40L318.21 248.40L318.62 248.41L319.02 248.41L319.42 248.41L319.82 248.41L320.22 248.42L320.62 248.42L321.02 248.42L321.42 248.42L321.82 248.43L322.22 248.43L322.62 248.43L323.02 248.43L323.42 248.44L323.83 248.44L324.23 248.44L324.63 248.44L325.03 248.45L325.43 248.45L325.83 248.45L326.23 248.46L326.63 248.46L327.03 248.46L327.43 248.46L327.83 248.47L328.23 248.47L328.64 248.47L329.04 248.47L329.44 248.48L329.84 248.48L330.24 248.48L330.64 248.48L331.04 248.49L331.44 248.49L331.84 248.49L332.24 248.49L332.64 248.50L333.04 248.50L333.44 248.50L333.85 248.51L334.25 248.51L334.65 248.51L335.05 248.51L335.45 248.52L335.85 248.52L336.25 248.52L336.65 248.52L337.05 248.53L337.45 248.53L337.85 248.53L338.25 248.53L338.66 248.54L339.06 248.54L339.46 248.54L339.86 248.55L340.26 248.55L340.66 248.55L341.06 248.55L341.46 248.56L341.86 248.56L342.26 248.56L342.66 248.57L343.06 248.57L343.46 248.57L343.87 248.57L344.27 248.58L344.67 248.58L345.07 248.58L345.47 248.58L345.87 248.59L346.27 248.59L346.67 248.59L347.07 248.60L347.47 248.60L347.87 248.60L348.27 248.60L348.67 248.61L349.08 248.61L349.48 248.61L349.88 248.62L350.28 248.62L350.68 248.62L351.08 248.62L351.48 248.63L351.88 248.63L352.28 248.63L352.68 248.64L353.08 248.64L353.48 248.64L353.89 248.64L354.29 248.65L354.69 248.65L355.09 248.65L355.49 248.66L355.89 248.66L356.29 248.66L356.69 248.66L357.09 248.67L357.49 248.67L357.89 248.67L358.29 248.68L358.69 248.68L359.10 248.68L359.50 248.69L359.90 248.69L360.30 248.69L360.70 248.69L361.10 248.70L361.50 248.70" stroke="#000" stroke-width="1.40" fill="none" stroke-linejoin="round"/>
<path d="M55.60 591.00L55.90 590.96L56.20 590.92L56.50 590.88L56.80 590.84L57.10 590.80L57.40 590.77L57.70 590.73L58.00 590.70L58.30 590.68L58.60 590.65L58.90 590.63L59.20 590.62L59.50 590.61L59.80 590.60L60.10 590.60L60.40 590.60L60.70 590.60L61.00 590.60L61.30 590.60L61.60 590.60L61.90 590.60L62.21 590.60L62.51 590.60L62.81 590.60L63.11 590.60L63.41 590.60L63.71 590.60L64.01 590.60L64.34 590.59L64.71 590.58L65.09 590.56L65.45 590.53L65.79 590.50L66.05 590.46L66.24 590.42L66.32 590.38L66.38 590.33L66.44 590.27L66.49 590.19L66.55 590.09L66.60 589.99L66.65 589.87L66.69 589.73L66.74 589.59L66.78 589.43L66.83 589.26L66.87 589.08L66.91 588.89L66.95 588.69L66.98 588.48L67.02 588.25L67.05 588.02L67.09 587.78L67.12 587.53L67.15 587.27L67.18 587.00L67.21 586.72L67.23 586.44L67.26 586.14L67.28 585.84L67.31 585.53L67.33 585.22L67.35 584.90L67.38 584.57L67.40 584.24L67.42 583.90L67.44 583.55L67.46 583.20L67.47 582.85L67.49 582.49L67.51 582.13L67.52 581.76L67.54 581.39L67.56 581.02L67.57 580.65L67.59 580.27L67.60 579.89L67.61 579.51L67.63 579.12L67.64 578.74L67.66 578.35L67.67 577.97L67.68 577.58L67.70 577.19L67.71 576.80L67.72 576.42L67.74 576.03L67.75 575.65L67.77 575.27L67.78 574.89L67.79 574.51L67.81 574.13L67.83 573.76L67.84 573.39L67.86 573.02L67.87 572.66L67.89 572.30L67.91 571.94L67.93 571.59L67.95 571.24L67.97 570.90L67.99 570.57L68.01 570.24L68.03 569.91L68.05 569.60L68.08 569.29L68.10 568.98L68.13 568.68L68.15 568.38L68.18 568.08L68.20 567.78L68.23 567.48L68.25 567.18L68.28 566.88L68.30 566.58L68.33 566.28L68.35 565.98L68.38 565.68L68.41 565.38L68.43 565.08L68.46 564.78L68.48 564.48L68.51 564.18L68.53 563.88L68.56 563.58L68.58 563.28L68.61 562.98L68.63 562.68L68.66 562.38L68.69 562.08L68.71 561.78L68.74 561.48L68.76 561.18L68.79 560.88L68.81 560.58L68.84 560.28L68.86 559.98L68.89 559.68L68.91 559.38L68.94 559.08L68.97 558.78L68.99 558.48L69.02 558.18L69.04 557.88L69.07 557.58L69.09 557.28L69.12 556.98L69.14 556.68L69.17 556.38L69.19 556.08L69.22 555.78L69.24 555.48L69.27 555.18L69.29 554.88L69.32 554.58L69.34 554.28L69.37 553.98L69.39 553.68L69.42 553.38L69.44 553.08L69.47 552.78L69.49 552.48L69.52 552.18L69.54 551.88L69.57 551.58L69.59 551.28L69.62 550.98L69.64 550.68L69.67 550.38L69.69 550.08L69.72 549.78L69.74 549.48L69.76 549.18L69.79 548.88L69.81 548.58L69.84 548.28L69.86 547.98L69.89 547.68L69.91 547.38L69.93 547.08L69.96 546.78L69.98 546.48L70.01 546.18L70.03 545.88L70.05 545.58L70.08 545.28L70.10 544.98L70.12 544.68L70.15 544.38L70.17 544.08L70.20 543.78L70.22 543.48L70.24 543.18L70.27 542.88L70.29 542.58L70.32 542.28L70.34 541.98L70.36 541.68L70.39 541.38L70.41 541.08L70.43 540.78L70.46 540.48L70.48 540.18L70.50 539.88L70.53 539.58L70.55 539.28L70.57 538.98L70.60 538.68L70.62 538.37L70.64 538.07L70.67 537.77L70.69 537.47L70.71 537.17L70.74 536.87L70.76 536.57L70.78 536.27L70.81 535.97L70.83 535.67L70.85 535.37L70.88 535.07L70.90 534.77L70.92 534.47L70.94 534.17L70.97 533.87L70.99 533.57L71.01 533.27L71.04 532.97L71.06 532.67L71.08 532.37L71.10 532.07L71.13 531.77L71.15 531.47L71.17 531.17L71.19 530.87L71.22 530.57L71.24 530.27L71.26 529.97L71.28 529.67L71.31 529.37L71.33 529.07L71.35 528.77L71.37 528.47L71.40 528.17L71.42 527.87L71.44 527.57L71.46 527.27L71.48 526.97L71.51 526.67L71.53 526.36L71.55 526.06L71.57 525.76L71.59 525.46L71.62 525.16L71.64 524.86L71.66 524.56L71.68 524.26L71.70 523.96L71.72 523.66L71.75 523.36L71.77 523.06L71.79 522.76L71.81 522.46L71.83 522.16L71.85 521.86L71.87 521.56L71.90 521.26L71.92 520.96L71.94 520.66L71.96 520.36L71.98 520.06L72.00 519.76L72.02 519.46L72.04 519.16L72.07 518.86L72.09 518.56L72.11 518.26L72.13 517.96L72.15 517.66L72.17 517.35L72.19 517.05L72.21 516.75L72.23 516.45L72.25 516.15L72.28 515.85L72.30 515.55L72.32 515.25L72.34 514.95L72.36 514.65L72.38 514.35L72.40 514.05L72.42 513.75L72.44 513.45L72.46 513.15L72.48 512.85L72.50 512.55L72.52 512.25L72.54 511.95L72.56 511.65L72.58 511.35L72.60 511.05L72.62 510.75L72.64 510.45L72.66 510.15L72.68 509.84L72.70 509.54L72.72 509.24L72.74 508.94L72.77 508.64L72.79 508.34L72.80 508.04L72.82 507.74L72.84 507.44L72.86 507.14L72.88 506.84L72.90 506.54L72.92 506.24L72.94 505.94L72.96 505.64L72.98 505.34L73.00 505.04L73.02 504.74L73.04 504.44L73.06 504.14L73.08 503.84L73.10 503.54L73.12 503.23L73.14 502.93L73.16 502.63L73.18 502.33L73.20 502.03L73.22 501.73L73.24 501.43L73.26 501.13L73.27 500.83L73.29 500.53L73.31 500.23L73.33 499.93L73.35 499.63L73.37 499.33L73.39 499.03L73.41 498.73L73.43 498.43L73.45 498.13L73.47 497.83L73.48 497.53L73.50 497.22L73.52 496.92L73.54 496.62L73.56 496.32L73.58 496.02L73.60 495.72L73.62 495.42L73.63 495.12L73.65 494.82L73.67 494.52L73.69 494.22L73.71 493.92L73.73 493.62L73.74 493.32L73.76 493.02L73.78 492.72L73.80 492.42L73.82 492.12L73.84 491.82L73.85 491.51L73.87 491.21L73.89 490.91L73.91 490.61L73.93 490.31L73.95 490.01L73.96 489.71L73.98 489.41L74.00 489.11L74.02 488.81L74.04 488.51L74.05 488.21L74.07 487.91L74.09 487.61L74.11 487.31L74.12 487.01L74.14 486.71L74.16 486.40L74.18 486.10L74.19 485.80L74.21 485.50L74.23 485.20L74.25 484.90L74.27 484.60L74.28 484.30L74.30 484.00L74.30 484.00L74.80 482.80L75.30 470.45L75.80 475.84L76.30 466.98L76.80 475.06L77.30 466.58L77.80 466.48L78.30 461.02L78.80 470.71L79.30 458.45L79.35 483.00L79.40 458.45L79.80 471.55L80.30 453.99L80.80 459.45L81.30 450.89L81.35 483.00L81.40 450.89L81.80 471.08L82.30 451.08L82.80 455.39L83.30 449.95L83.80 458.89L84.30 448.32L84.80 447.41L85.30 447.62L85.80 452.67L86.30 443.73L86.80 460.21L86.85 480.00L86.90 460.21L87.30 442.61L87.35 479.00L87.40 442.61L87.80 449.31L88.30 440.32L88.80 449.18L89.30 439.03L89.80 445.07L90.30 437.88L90.80 445.77L91.30 437.01L91.80 444.81L92.30 435.84L92.80 437.01L93.30 434.89L93.80 441.75L94.30 433.87L94.80 438.10L95.30 433.68L95.80 436.77L95.85 446.00L95.90 436.77L96.30 433.03L96.80 437.92L97.30 431.28L97.80 436.47L98.30 430.58L98.35 448.50L98.40 430.58L98.80 432.65L99.30 430.27L99.80 434.49L100.30 430.64L100.80 431.58L101.30 429.86L101.80 432.63L102.00 429.20L102.08 430.70L102.16 429.20L102.30 429.15L102.38 429.47L102.46 429.15L102.61 429.11L102.69 430.94L102.77 429.11L102.91 429.06L102.99 430.33L103.07 429.06L103.22 429.01L103.30 430.00L103.38 429.01L103.52 428.97L103.82 428.92L104.13 428.87L104.43 428.82L104.73 428.76L104.81 429.58L104.89 428.76L105.04 428.71L105.34 428.66L105.64 428.61L105.94 428.55L106.02 429.99L106.10 428.55L106.25 428.50L106.55 428.44L106.85 428.38L107.15 428.33L107.45 428.27L107.75 428.21L108.06 428.15L108.36 428.09L108.66 428.02L108.96 427.96L109.26 427.89L109.34 428.76L109.42 427.89L109.56 427.82L109.86 427.76L110.16 427.69L110.46 427.62L110.76 427.56L111.06 427.49L111.36 427.43L111.66 427.37L111.96 427.31L112.26 427.25L112.56 427.19L112.87 427.13L113.17 427.08L113.47 427.02L113.77 426.97L114.08 426.91L114.38 426.86L114.68 426.81L114.98 426.75L115.29 426.70L115.59 426.65L115.89 426.60L116.20 426.55L116.50 426.50" stroke="#000" stroke-width="1.40" fill="none" stroke-linejoin="round"/>
<path d="M55.60 591.00L56.00 591.06L56.40 591.12L56.80 591.18L57.20 591.23L57.60 591.27L58.00 591.31L58.40 591.35L58.80 591.38L59.20 591.41L59.60 591.43L59.99 591.45L60.39 591.47L60.79 591.48L61.19 591.49L61.59 591.50L61.99 591.50L62.39 591.50L62.81 591.49L63.23 591.48L63.65 591.46L64.08 591.43L64.50 591.40L64.93 591.37L65.35 591.33L65.77 591.29L66.17 591.24L66.57 591.19L66.96 591.14L67.34 591.08L67.69 591.02L68.04 590.95L68.36 590.89L68.67 590.78L68.97 590.61L69.26 590.40L69.54 590.15L69.81 589.86L70.08 589.54L70.34 589.19L70.60 588.83L70.85 588.45L71.09 588.07L71.33 587.69L71.57 587.31L71.80 586.95L72.03 586.61L72.25 586.28L72.47 585.95L72.67 585.61L72.88 585.26L73.07 584.91L73.27 584.56L73.46 584.21L73.65 583.85L73.84 583.50L74.04 583.15L74.23 582.79L74.43 582.45L74.63 582.10L74.83 581.75L75.03 581.40L75.23 581.05L75.42 580.70L75.62 580.35L75.82 580.01L76.02 579.66L76.22 579.31L76.42 578.96L76.62 578.61L76.82 578.27L77.02 577.92L77.23 577.58L77.44 577.24L77.65 576.90L77.86 576.56L78.08 576.22L78.30 575.89L78.52 575.55L78.74 575.22L78.96 574.89L79.19 574.56L79.42 574.23L79.65 573.90L79.88 573.57L80.12 573.25L80.35 572.93L80.59 572.60L80.84 572.29L81.08 571.97L81.32 571.65L81.57 571.33L81.82 571.02L82.07 570.71L82.33 570.39L82.58 570.08L82.84 569.78L83.11 569.48L83.37 569.18L83.64 568.88L83.91 568.59L84.19 568.30L84.47 568.02L84.75 567.73L85.04 567.44L85.32 567.15L85.61 566.87L85.91 566.59L86.20 566.31L86.50 566.04L86.81 565.77L87.11 565.51L87.42 565.26L87.74 565.02L88.05 564.78L88.38 564.55L88.70 564.33L89.03 564.12L89.36 563.91L89.70 563.71L90.04 563.51L90.38 563.31L90.73 563.12L91.08 562.92L91.44 562.74L91.80 562.55L92.16 562.37L92.52 562.19L92.89 562.01L93.25 561.84L93.62 561.67L93.99 561.50L94.37 561.34L94.74 561.18L95.11 561.02L95.49 560.87L95.86 560.71L96.23 560.56L96.61 560.42L96.98 560.27L97.36 560.13L97.73 559.99L98.10 559.85L98.48 559.71L98.85 559.58L99.23 559.44L99.61 559.31L99.99 559.18L100.37 559.05L100.75 558.92L101.13 558.79L101.51 558.67L101.90 558.55L102.28 558.43L102.67 558.31L103.05 558.20L103.44 558.08L103.83 557.98L104.22 557.87L104.61 557.77L104.99 557.68L105.38 557.58L105.77 557.49L106.16 557.41L106.55 557.33L106.94 557.25L107.34 557.18L107.73 557.10L108.12 557.03L108.51 556.96L108.91 556.89L109.30 556.82L109.70 556.76L110.10 556.69L110.49 556.63L110.89 556.57L111.29 556.51L111.69 556.45L112.09 556.40L112.49 556.35L112.88 556.30L113.28 556.26L113.68 556.21L114.08 556.18L114.48 556.14L114.88 556.11L115.28 556.08L115.67 556.05L116.07 556.02L116.47 556.00L116.87 555.97L117.27 555.95L117.67 555.92L118.07 555.90L118.47 555.88L118.87 555.85L119.27 555.83L119.67 555.81L120.07 555.79L120.47 555.77L120.87 555.75L121.27 555.73L121.67 555.72L122.07 555.70L122.47 555.68L122.87 555.66L123.27 555.65L123.67 555.63L124.07 555.61L124.47 555.60L124.87 555.58L125.27 555.57L125.67 555.55L126.08 555.54L126.48 555.52L126.88 555.51L127.28 555.50L127.68 555.48L128.08 555.47L128.48 555.45L128.88 555.44L129.28 555.43L129.68 555.41L130.08 555.40L130.49 555.39L130.89 555.37L131.29 555.36L131.69 555.35L132.09 555.33L132.49 555.32L132.89 555.30L133.29 555.29L133.69 555.28L134.09 555.26L134.49 555.25L134.89 555.23L135.29 555.22L135.69 555.21L136.09 555.19L136.49 555.18L136.89 555.16L137.29 555.15L137.69 555.14L138.09 555.12L138.49 555.11L138.90 555.10L139.30 555.09L139.70 555.07L140.10 555.06L140.50 555.05L140.90 555.03L141.30 555.02L141.70 555.01L142.10 555.00L142.50 554.98L142.90 554.97L143.30 554.96L143.70 554.95L144.10 554.93L144.50 554.92L144.90 554.91L145.30 554.90L145.70 554.89L146.10 554.87L146.50 554.86L146.90 554.85L147.30 554.84L147.71 554.83L148.11 554.82L148.51 554.80L148.91 554.79L149.31 554.78L149.71 554.77L150.11 554.76L150.51 554.75L150.91 554.74L151.31 554.73L151.71 554.71L152.11 554.70L152.51 554.69L152.91 554.68L153.31 554.67L153.71 554.66L154.11 554.65L154.51 554.64L154.91 554.63L155.32 554.62L155.72 554.61L156.12 554.59L156.52 554.58L156.92 554.57L157.32 554.56L157.72 554.55L158.12 554.54L158.52 554.53L158.92 554.52L159.32 554.51L159.72 554.50L160.12 554.49L160.52 554.48L160.92 554.47L161.32 554.46L161.72 554.45L162.12 554.44L162.53 554.43L162.93 554.42L163.33 554.41L163.73 554.40L164.13 554.39L164.53 554.38L164.93 554.37L165.33 554.36L165.73 554.35L166.13 554.34L166.53 554.33L166.93 554.32L167.33 554.31L167.73 554.30L168.13 554.29L168.53 554.28L168.93 554.27L169.33 554.26L169.73 554.25L170.14 554.24L170.54 554.23L170.94 554.23L171.34 554.22L171.74 554.21L172.14 554.20L172.54 554.19L172.94 554.18L173.34 554.18L173.74 554.17L174.14 554.16L174.54 554.15L174.94 554.15L175.34 554.14L175.74 554.13L176.14 554.12L176.55 554.12L176.95 554.11L177.35 554.10L177.75 554.10L178.15 554.09L178.55 554.08L178.95 554.07L179.35 554.07L179.75 554.06L180.15 554.05L180.55 554.05L180.95 554.04L181.35 554.03L181.75 554.03L182.15 554.02L182.56 554.01L182.96 554.01L183.36 554.00L183.76 553.99L184.16 553.98L184.56 553.98L184.96 553.97L185.36 553.96L185.76 553.95L186.16 553.95L186.56 553.94L186.96 553.93L187.36 553.92L187.76 553.92L188.16 553.91L188.56 553.90L188.97 553.89L189.37 553.88L189.77 553.88L190.17 553.87L190.57 553.86L190.97 553.85L191.37 553.84L191.77 553.83L192.17 553.82L192.57 553.81L192.97 553.80L193.37 553.79L193.77 553.78L194.17 553.77L194.57 553.76L194.97 553.75L195.37 553.74L195.77 553.73L196.17 553.72L196.57 553.71L196.97 553.70L197.38 553.68L197.78 553.67L198.18 553.66L198.58 553.65L198.98 553.63L199.38 553.62L199.78 553.61L200.18 553.59L200.59 553.58L201.01 553.57L201.42 553.55L201.84 553.53L202.26 553.52L202.66 553.49L203.05 553.47L203.43 553.44L203.78 553.40L204.12 553.33L204.45 553.18L204.76 552.98L205.07 552.72L205.37 552.43L205.66 552.11L205.95 551.77L206.23 551.42L206.51 551.08L206.78 550.75L207.04 550.45L207.31 550.15L207.57 549.85L207.82 549.54L208.07 549.23L208.31 548.91L208.55 548.59L208.79 548.26L209.03 547.93L209.26 547.60L209.48 547.27L209.71 546.94L209.93 546.60L210.15 546.27L210.37 545.94L210.60 545.60L210.82 545.27L211.04 544.93L211.27 544.59L211.49 544.25L211.71 543.91L211.93 543.57L212.15 543.23L212.36 542.88L212.44 542.25L212.52 542.88L212.57 542.54L212.65 544.80L212.73 542.54L212.78 542.19L212.86 543.48L212.94 542.19L212.98 541.84L213.06 545.80L213.14 541.84L213.18 541.49L213.26 541.82L213.34 541.49L213.37 541.14L213.45 542.78L213.53 541.14L213.56 540.78L213.64 544.01L213.72 540.78L213.74 540.43L213.82 541.08L213.90 540.43L213.92 540.07L214.09 539.71L214.17 541.07L214.25 539.71L214.25 539.35L214.41 538.99L214.49 543.84L214.57 538.99L214.55 538.63L214.69 538.26L214.77 541.50L214.85 538.26L214.82 537.89L214.96 537.52L215.04 537.58L215.12 537.52L215.08 537.15L215.16 537.76L215.24 537.15L215.21 536.77L215.29 537.35L215.37 536.77L215.33 536.39L215.41 538.88L215.49 536.39L215.45 536.02L215.53 536.13L215.61 536.02L215.56 535.63L215.64 540.06L215.72 535.63L215.68 535.25L215.76 534.57L215.84 535.25L215.79 534.87L215.87 534.54L215.95 534.87L215.90 534.48L215.98 535.25L216.06 534.48L216.00 534.09L216.08 536.10L216.16 534.09L216.11 533.70L216.19 532.45L216.27 533.70L216.21 533.31L216.29 536.58L216.37 533.31L216.31 532.92L216.39 536.04L216.47 532.92L216.41 532.53L216.51 532.14L216.60 531.75L216.68 531.91L216.76 531.75L216.70 531.35L216.79 530.96L216.87 529.83L216.95 530.96L216.88 530.56L216.97 530.17L217.06 529.78L217.14 529.43L217.22 529.78L217.16 529.38L217.24 528.99L217.33 528.59L217.41 530.89L217.49 528.59L217.42 528.20L217.50 528.30L217.58 528.20L217.51 527.81L217.59 526.65L217.67 527.81L217.60 527.42L217.68 531.76L217.76 527.42L217.69 527.03L217.77 531.53L217.85 527.03L217.78 526.64L217.86 526.28L217.94 526.64L217.87 526.25L217.95 525.86L218.03 524.94L218.11 525.86L218.04 525.46L218.12 529.99L218.20 525.46L218.12 525.07L218.20 524.68L218.28 523.89L218.36 524.68L218.28 524.28L218.35 523.89L218.43 526.91L218.51 523.89L218.43 523.50L218.51 523.65L218.59 523.50L218.50 523.10L218.58 522.24L218.66 523.10L218.58 522.71L218.65 522.31L218.73 521.50L218.81 522.31L218.72 521.91L218.80 521.31L218.88 521.91L218.79 521.52L218.87 523.68L218.95 521.52L218.86 521.12L218.94 524.46L219.02 521.12L218.93 520.73L219.01 525.25L219.09 520.73L219.00 520.33L219.08 524.46L219.16 520.33L219.07 519.93L219.15 521.65L219.23 519.93L219.14 519.54L219.21 519.14L219.29 523.52L219.37 519.14L219.28 518.75L219.36 521.60L219.44 518.75L219.35 518.35L219.43 518.90L219.51 518.35L219.42 517.96L219.50 518.68L219.58 517.96L219.50 517.56L219.58 522.13L219.66 517.56L219.57 517.17L219.64 516.77L219.72 516.38L219.80 517.67L219.88 516.38L219.79 515.98L219.87 515.59L219.95 515.20L220.03 516.48L220.11 515.20L220.03 514.81L220.11 515.69L220.19 514.81L220.11 514.42L220.19 518.74L220.27 514.42L220.20 514.03L220.28 513.41L220.36 514.03L220.28 513.64L220.36 512.64L220.44 513.64L220.37 513.25L220.45 514.55L220.53 513.25L220.46 512.86L220.54 515.06L220.62 512.86L220.55 512.47L220.63 513.97L220.71 512.47L220.65 512.09L220.75 511.70L220.83 513.88L220.91 511.70L220.85 511.32L220.93 514.65L221.01 511.32L220.95 510.93L221.03 509.44L221.11 510.93L221.06 510.55L221.14 514.97L221.22 510.55L221.17 510.16L221.25 509.61L221.33 510.16L221.28 509.78L221.36 512.78L221.44 509.78L221.39 509.40L221.47 508.12L221.55 509.40L221.51 509.01L221.63 508.63L221.71 507.68L221.79 508.63L221.75 508.24L221.83 512.28L221.91 508.24L221.87 507.86L221.95 508.66L222.03 507.86L222.00 507.48L222.08 511.00L222.16 507.48L222.12 507.10L222.20 510.57L222.28 507.10L222.25 506.71L222.33 510.41L222.41 506.71L222.39 506.33L222.47 509.79L222.55 506.33L222.52 505.95L222.60 508.41L222.68 505.95L222.66 505.57L222.74 509.77L222.82 505.57L222.80 505.19L222.88 507.39L222.96 505.19L222.94 504.81L223.08 504.44L223.23 504.06L223.31 507.05L223.39 504.06L223.37 503.68L223.45 504.09L223.53 503.68L223.52 503.31L223.60 502.57L223.68 503.31L223.67 502.94L223.75 506.74L223.83 502.94L223.82 502.56L223.98 502.19L224.06 502.26L224.14 502.19L224.13 501.82L224.21 502.63L224.29 501.82L224.29 501.45L224.45 501.09L224.53 504.69L224.61 501.09L224.66 526.00L224.71 501.09L224.61 500.72L224.69 501.32L224.77 500.72L224.77 500.36L224.85 502.67L224.93 500.36L224.94 499.99L225.02 501.65L225.10 499.99L225.10 499.63L225.18 503.50L225.26 499.63L225.27 499.27L225.35 503.59L225.43 499.27L225.44 498.92L225.52 499.59L225.60 498.92L225.61 498.56L225.79 498.21L225.87 501.80L225.95 498.21L225.98 497.86L226.17 497.51L226.25 498.69L226.33 497.51L226.37 497.16L226.45 500.00L226.53 497.16L226.57 496.82L226.65 496.95L226.73 496.82L226.78 496.48L226.86 500.13L226.94 496.48L226.99 496.13L227.07 499.58L227.15 496.13L227.20 495.79L227.28 496.40L227.36 495.79L227.42 495.45L227.50 498.28L227.58 495.45L227.63 495.12L227.71 497.10L227.79 495.12L227.85 494.78L227.93 498.86L228.01 494.78L228.07 494.44L228.15 497.31L228.23 494.44L228.30 494.10L228.52 493.77L228.74 493.43L228.82 495.79L228.90 493.43L228.97 493.10L229.19 492.76L229.27 491.46L229.35 492.76L229.41 492.42L229.49 495.23L229.57 492.42L229.63 492.08L229.71 490.84L229.79 492.08L229.84 491.75L229.92 495.48L230.00 491.75L230.06 491.41L230.14 490.04L230.22 491.41L230.27 491.07L230.35 490.17L230.43 491.07L230.49 490.73L230.57 493.61L230.65 490.73L230.70 490.39L230.92 490.06L231.13 489.72L231.21 492.04L231.29 489.72L231.35 489.38L231.57 489.05L231.65 492.83L231.73 489.05L231.79 488.71L231.87 491.25L231.95 488.71L232.01 488.37L232.09 488.94L232.17 488.37L232.22 488.04L232.30 486.88L232.38 488.04L232.44 487.70L232.52 491.38L232.60 487.70L232.66 487.37L232.88 487.03L232.96 486.27L233.04 487.03L233.10 486.70L233.32 486.36L233.54 486.02L233.62 488.82L233.70 486.02L233.76 485.69L233.98 485.35L234.20 485.02L234.41 484.68L234.63 484.35L234.85 484.01L234.93 484.62L235.01 484.01L235.06 500.00L235.11 484.01L235.07 483.67L235.28 483.34L235.50 483.00L235.72 482.66L235.93 482.32L236.14 481.98L236.35 481.64L236.56 481.30L236.77 480.96L236.98 480.61L237.19 480.27L237.27 481.03L237.35 480.27L237.40 479.93L237.48 481.87L237.56 479.93L237.61 479.58L237.82 479.24L238.03 478.90L238.11 478.60L238.19 478.90L238.23 478.55L238.31 480.84L238.39 478.55L238.44 478.21L238.65 477.87L238.87 477.53L238.95 477.23L239.03 477.53L239.08 477.19L239.16 477.45L239.24 477.19L239.29 476.85L239.51 476.51L239.59 478.30L239.67 476.51L239.72 476.18L239.94 475.84L240.16 475.51L240.38 475.17L240.61 474.84L240.69 477.67L240.77 474.84L240.83 474.52L240.91 475.24L240.99 474.52L241.06 474.19L241.30 473.87L241.53 473.54L241.77 473.22L242.00 472.90L242.24 472.58L242.48 472.25L242.73 471.93L242.97 471.62L243.22 471.30L243.46 470.98L243.71 470.66L243.96 470.35L244.22 470.04L244.30 471.10L244.38 470.04L244.47 469.72L244.73 469.41L244.98 469.11L245.24 468.80L245.51 468.49L245.77 468.19L246.03 467.89L246.30 467.59L246.57 467.29L246.62 477.00L246.67 467.29L246.83 467.00L247.11 466.71L247.19 468.72L247.27 466.71L247.38 466.42L247.65 466.13L247.93 465.85L248.21 465.56L248.50 465.28L248.79 465.01L249.08 464.73L249.37 464.46L249.66 464.18L249.96 463.91L250.04 466.23L250.12 463.91L250.26 463.65L250.56 463.38L250.86 463.11L251.16 462.84L251.24 464.60L251.32 462.84L251.46 462.58L251.77 462.31L252.07 462.05L252.37 461.79L252.67 461.52L252.98 461.26L253.28 460.99L253.58 460.73L253.66 462.57L253.74 460.73L253.88 460.46L254.18 460.20L254.48 459.93L254.56 460.85L254.64 459.93L254.78 459.66L255.08 459.39L255.38 459.13L255.68 458.86L255.99 458.60L256.04 473.00L256.09 458.60L256.29 458.34L256.60 458.08L256.91 457.83L257.23 457.58L257.54 457.34L257.86 457.10L258.18 456.87L258.51 456.64L258.83 456.41L258.88 464.60L258.93 456.41L259.16 456.18L259.24 456.96L259.32 456.18L259.50 455.96L259.83 455.74L259.91 458.11L259.99 455.74L260.16 455.51L260.50 455.30L260.58 455.79L260.66 455.30L260.84 455.08L261.18 454.86L261.26 456.33L261.34 454.86L261.53 454.65L261.61 455.57L261.69 454.65L261.87 454.44L262.22 454.24L262.56 454.03L262.91 453.83L263.26 453.63L263.34 454.93L263.42 453.63L263.61 453.43L263.97 453.24L264.32 453.05L264.67 452.87L264.75 455.02L264.83 452.87L265.03 452.68L265.38 452.50L265.74 452.33L266.10 452.16L266.46 451.99L266.82 451.82L266.87 457.00L266.92 451.82L267.18 451.65L267.55 451.49L267.92 451.33L268.29 451.17L268.66 451.02L269.03 450.86L269.40 450.71L269.48 451.99L269.56 450.71L269.77 450.56L270.15 450.42L270.52 450.27L270.90 450.13L271.28 449.99L271.65 449.85L271.73 451.76L271.81 449.85L272.03 449.71L272.11 449.41L272.19 449.71L272.41 449.58L272.79 449.44L273.17 449.31L273.54 449.18L273.92 449.06L274.30 448.93L274.68 448.81L274.76 450.66L274.84 448.81L275.07 448.69L275.12 453.00L275.17 448.69L275.45 448.57L275.83 448.46L276.22 448.34L276.60 448.23L276.98 448.12L277.37 448.00L277.76 447.89L278.14 447.79L278.22 448.83L278.30 447.79L278.53 447.68L278.92 447.57L279.30 447.46L279.69 447.36L280.08 447.25L280.46 447.15L280.85 447.04L281.24 446.94L281.32 449.12L281.40 446.94L281.62 446.83L281.70 448.86L281.78 446.83L282.01 446.72L282.40 446.62L282.78 446.51L283.17 446.41L283.56 446.30L283.61 463.00L283.66 446.30L283.94 446.20L284.02 447.07L284.10 446.20L284.33 446.10L284.72 446.00L285.11 445.90L285.49 445.79L285.88 445.70L285.96 447.64L286.04 445.70L286.27 445.60L286.66 445.50L287.05 445.41L287.13 445.11L287.21 445.41L287.44 445.31L287.83 445.22L288.22 445.13L288.61 445.04L289.00 444.96L289.39 444.87L289.78 444.79L289.86 445.28L289.94 444.79L290.17 444.70L290.25 445.60L290.33 444.70L290.57 444.62L290.65 444.32L290.73 444.62L290.96 444.54L291.35 444.46L291.40 464.60L291.45 444.46L291.43 445.18L291.51 444.46L291.74 444.38L292.14 444.30L292.53 444.23L292.92 444.15L293.32 444.08L293.71 444.00L294.11 443.93L294.50 443.86L294.58 444.51L294.66 443.86L294.90 443.78L294.98 443.48L295.06 443.78L295.11 454.60L295.16 443.78L295.29 443.71L295.68 443.64L296.08 443.57L296.47 443.50L296.87 443.44L297.26 443.37L297.66 443.30L298.05 443.23L298.45 443.16L298.84 443.09L299.24 443.02L299.32 444.14L299.40 443.02L299.63 442.95L300.03 442.89L300.42 442.82L300.82 442.76L300.90 442.46L300.98 442.76L301.22 442.69L301.30 445.68L301.38 442.69L301.61 442.63L302.01 442.57L302.09 445.09L302.17 442.57L302.41 442.52L302.80 442.46L303.20 442.41L303.60 442.37L303.99 442.32L304.39 442.28L304.79 442.24L304.84 453.00L304.89 442.24L305.19 442.20L305.27 441.90L305.35 442.20L305.59 442.17L305.98 442.13L306.38 442.10L306.78 442.06L306.86 444.56L306.94 442.06L307.18 442.03L307.58 442.00L307.66 444.09L307.74 442.00L307.79 448.50L307.84 442.00L307.98 441.97L308.38 441.94L308.78 441.91L308.86 443.54L308.94 441.91L309.18 441.88L309.58 441.85L309.98 441.83L310.06 441.53L310.14 441.83L310.38 441.80L310.46 441.50L310.54 441.80L310.78 441.77L311.18 441.75L311.23 450.00L311.28 441.75L311.58 441.72L311.98 441.69L312.06 441.39L312.14 441.69L312.38 441.67L312.78 441.64L313.18 441.62L313.26 442.52L313.34 441.62L313.58 441.59L313.98 441.57L314.38 441.54L314.78 441.51L314.86 442.66L314.94 441.51L315.18 441.49L315.58 441.46L315.98 441.43L316.38 441.41L316.78 441.38L317.18 441.36L317.23 457.00L317.28 441.36L317.58 441.33L317.98 441.30L318.06 442.55L318.14 441.30L318.38 441.28L318.78 441.25L319.18 441.22L319.26 440.92L319.34 441.22L319.58 441.20L319.98 441.17L320.38 441.15L320.78 441.12L321.18 441.10L321.58 441.07L321.98 441.05L322.06 441.07L322.14 441.05L322.38 441.02L322.78 441.00L322.86 440.70L322.94 441.00L323.18 440.97L323.23 447.00L323.28 440.97L323.58 440.95L323.98 440.93L324.06 440.63L324.14 440.93L324.38 440.90L324.78 440.88L325.18 440.86L325.58 440.83L325.66 443.24L325.74 440.83L325.98 440.81L326.38 440.79L326.46 440.49L326.54 440.79L326.78 440.77L327.18 440.74L327.26 442.32L327.34 440.74L327.58 440.72L327.66 441.97L327.74 440.72L327.98 440.70L328.38 440.68L328.78 440.66L329.18 440.64L329.26 442.40L329.34 440.64L329.58 440.62L329.98 440.60L330.38 440.58L330.78 440.56L331.18 440.55L331.58 440.53L331.63 467.00L331.68 440.53L331.98 440.51L332.38 440.49L332.46 441.50L332.54 440.49L332.78 440.48L332.86 440.18L332.94 440.48L333.18 440.46L333.26 442.84L333.34 440.46L333.58 440.44L333.98 440.43L334.06 443.03L334.14 440.43L334.38 440.41L334.46 440.11L334.54 440.41L334.78 440.39L335.18 440.38L335.26 441.66L335.34 440.38L335.58 440.36L335.63 462.30L335.68 440.36L335.98 440.35L336.38 440.33L336.78 440.32L336.86 442.66L336.94 440.32L337.18 440.30L337.23 447.00L337.28 440.30L337.58 440.29L337.66 442.22L337.74 440.29L337.99 440.27L338.07 442.04L338.15 440.27L338.39 440.26L338.79 440.24L338.87 441.58L338.95 440.24L339.19 440.23L339.59 440.21L339.99 440.20L340.07 441.03L340.15 440.20L340.39 440.18L340.47 441.31L340.55 440.18L340.79 440.17L341.19 440.15L341.59 440.14L341.64 449.00L341.69 440.14L341.67 442.98L341.75 440.14L341.99 440.12L342.07 441.49L342.15 440.12L342.39 440.11L342.47 442.57L342.55 440.11L342.79 440.09L343.19 440.08L343.59 440.06L343.67 439.76L343.75 440.06L343.99 440.04L344.39 440.03L344.79 440.01L345.19 439.99L345.59 439.97L345.64 450.00L345.69 439.97L345.67 441.09L345.75 439.97L345.99 439.96L346.39 439.94L346.47 439.64L346.55 439.94L346.79 439.92L347.19 439.90L347.27 440.72L347.35 439.90L347.59 439.89L347.99 439.87L348.07 440.70L348.15 439.87L348.39 439.85L348.79 439.83L349.19 439.81L349.27 439.51L349.35 439.81L349.59 439.80L349.99 439.78L350.40 439.76L350.80 439.74L351.20 439.72L351.25 454.60L351.30 439.72L351.60 439.71L352.00 439.69L352.40 439.67L352.80 439.65L352.88 440.69L352.96 439.65L353.20 439.63L353.28 440.16L353.36 439.63L353.60 439.61L353.68 440.79L353.76 439.61L354.00 439.59L354.08 441.32L354.16 439.59L354.40 439.57L354.80 439.55L354.85 447.00L354.90 439.55L355.20 439.54L355.60 439.52L356.00 439.50L356.40 439.48L356.80 439.46L356.88 439.81L356.96 439.46L357.20 439.44L357.28 441.40L357.36 439.44L357.60 439.42L357.68 440.89L357.76 439.42L358.00 439.40L358.40 439.38L358.48 439.87L358.56 439.38L358.61 453.00L358.66 439.38L358.80 439.36L359.20 439.34L359.60 439.32L360.00 439.30" stroke="#000" stroke-width="1.40" fill="none" stroke-linejoin="round"/>
<path d="M55.60 591.00L56.02 591.01L56.43 591.02L56.84 591.05L57.25 591.08L57.66 591.13L58.06 591.18L58.46 591.24L58.86 591.30L59.25 591.37L59.64 591.45L60.03 591.53L60.42 591.62L60.80 591.71L61.19 591.80L61.57 591.89L61.94 591.99L62.32 592.09L62.68 592.22L63.05 592.38L63.41 592.55L63.76 592.74L64.12 592.94L64.47 593.14L64.83 593.35L65.18 593.55L65.53 593.75L65.89 593.94L66.25 594.13L66.60 594.35L66.96 594.58L67.31 594.82L67.67 595.05L68.03 595.26L68.39 595.43L68.75 595.54L69.12 595.60L69.49 595.59L69.88 595.54L70.28 595.47L70.68 595.36L71.09 595.24L71.49 595.10L71.88 594.94L72.26 594.77L72.61 594.60L72.95 594.43L73.26 594.24L73.56 594.02L73.85 593.77L74.13 593.48L74.40 593.18L74.67 592.86L74.93 592.52L75.18 592.18L75.42 591.83L75.66 591.49L75.89 591.15L76.12 590.83L76.34 590.50L76.54 590.16L76.75 589.81L76.94 589.46L77.14 589.11L77.33 588.76L77.52 588.40L77.71 588.04L77.90 587.69L78.10 587.34L78.30 586.99L78.51 586.65L78.72 586.30L78.92 585.96L79.13 585.61L79.34 585.27L79.54 584.92L79.75 584.58L79.96 584.23L80.18 583.89L80.40 583.56L80.62 583.22L80.84 582.89L81.07 582.57L81.31 582.25L81.55 581.93L81.80 581.62L82.06 581.32L82.32 581.02L82.59 580.72L82.86 580.43L83.14 580.14L83.43 579.85L83.71 579.56L84.00 579.28L84.29 579.00L84.57 578.72L84.86 578.44L85.15 578.16L85.44 577.89L85.74 577.61L86.03 577.34L86.33 577.07L86.63 576.80L86.93 576.53L87.23 576.27L87.53 576.00L87.84 575.74L88.15 575.49L88.46 575.23L88.77 574.98L89.09 574.74L89.40 574.50L89.72 574.26L90.05 574.01L90.37 573.77L90.70 573.53L91.02 573.29L91.36 573.05L91.69 572.82L92.03 572.60L92.37 572.38L92.71 572.17L93.05 571.98L93.40 571.79L93.76 571.62L94.11 571.46L94.47 571.30L94.83 571.15L95.20 571.00L95.57 570.85L95.94 570.71L96.31 570.57L96.69 570.43L97.07 570.30L97.45 570.16L97.83 570.04L98.21 569.91L98.60 569.79L98.99 569.67L99.38 569.55L99.77 569.44L100.16 569.32L100.55 569.21L100.94 569.11L101.33 569.00L101.72 568.90L102.11 568.80L102.51 568.70L102.90 568.61L103.29 568.51L103.68 568.42L104.07 568.33L104.46 568.24L104.85 568.16L105.24 568.07L105.63 567.99L106.02 567.90L106.41 567.82L106.80 567.74L107.20 567.67L107.59 567.59L107.99 567.51L108.38 567.44L108.78 567.37L109.17 567.30L109.57 567.23L109.96 567.16L110.36 567.09L110.76 567.02L111.15 566.96L111.55 566.90L111.95 566.83L112.35 566.77L112.74 566.71L113.14 566.66L113.54 566.60L113.93 566.54L114.33 566.49L114.73 566.44L115.13 566.38L115.52 566.33L115.92 566.28L116.32 566.23L116.71 566.18L117.11 566.13L117.51 566.08L117.91 566.03L118.30 565.99L118.70 565.94L119.10 565.89L119.50 565.84L119.90 565.80L120.30 565.75L120.69 565.71L121.09 565.66L121.49 565.62L121.89 565.57L122.29 565.53L122.69 565.49L123.09 565.45L123.49 565.41L123.89 565.37L124.29 565.33L124.69 565.29L125.09 565.25L125.49 565.21L125.88 565.17L126.28 565.13L126.68 565.10L127.08 565.06L127.48 565.02L127.88 564.99L128.28 564.96L128.68 564.92L129.08 564.89L129.48 564.86L129.88 564.83L130.28 564.79L130.68 564.76L131.08 564.73L131.48 564.70L131.88 564.68L132.28 564.65L132.68 564.62L133.08 564.59L133.48 564.57L133.88 564.54L134.28 564.52L134.68 564.49L135.08 564.46L135.48 564.44L135.88 564.41L136.28 564.39L136.68 564.36L137.08 564.34L137.48 564.31L137.88 564.29L138.28 564.26L138.68 564.24L139.08 564.21L139.48 564.19L139.88 564.16L140.28 564.14L140.68 564.11L141.08 564.09L141.48 564.06L141.88 564.04L142.28 564.02L142.68 563.99L143.08 563.97L143.48 563.95L143.88 563.92L144.28 563.90L144.68 563.88L145.09 563.86L145.49 563.83L145.89 563.81L146.29 563.79L146.69 563.77L147.09 563.75L147.49 563.72L147.89 563.70L148.29 563.68L148.69 563.66L149.09 563.64L149.49 563.62L149.89 563.60L150.29 563.58L150.69 563.56L151.10 563.54L151.50 563.52L151.90 563.50L152.30 563.49L152.70 563.47L153.10 563.45L153.50 563.43L153.90 563.41L154.30 563.40L154.70 563.38L155.10 563.36L155.50 563.35L155.90 563.33L156.31 563.31L156.71 563.30L157.11 563.28L157.51 563.27L157.91 563.25L158.31 563.24L158.71 563.23L159.11 563.21L159.51 563.20L159.91 563.19L160.31 563.17L160.72 563.16L161.12 563.15L161.52 563.14L161.92 563.12L162.32 563.11L162.72 563.10L163.12 563.09L163.52 563.08L163.92 563.07L164.32 563.06L164.72 563.05L165.12 563.05L165.53 563.04L165.93 563.03L166.33 563.02L166.73 563.02L167.13 563.01L167.53 563.00L167.93 563.00L168.33 562.99L168.73 562.98L169.13 562.98L169.53 562.97L169.93 562.97L170.33 562.96L170.74 562.96L171.14 562.95L171.54 562.95L171.94 562.94L172.34 562.93L172.74 562.93L173.14 562.92L173.54 562.92L173.94 562.91L174.34 562.91L174.74 562.90L175.14 562.90L175.55 562.89L175.95 562.89L176.35 562.88L176.75 562.87L177.15 562.87L177.55 562.86L177.95 562.86L178.35 562.85L178.75 562.85L179.15 562.84L179.55 562.84L179.95 562.83L180.36 562.83L180.76 562.82L181.16 562.82L181.56 562.81L181.96 562.81L182.36 562.80L182.76 562.80L183.16 562.79L183.56 562.79L183.96 562.79L184.36 562.78L184.77 562.78L185.17 562.77L185.57 562.77L185.97 562.76L186.37 562.76L186.77 562.75L187.17 562.75L187.57 562.74L187.97 562.74L188.37 562.74L188.78 562.73L189.18 562.73L189.58 562.72L189.98 562.72L190.38 562.72L190.78 562.71L191.18 562.71L191.58 562.70L191.98 562.70L192.38 562.69L192.79 562.69L193.19 562.69L193.59 562.68L193.99 562.68L194.39 562.68L194.79 562.67L195.19 562.67L195.59 562.66L195.99 562.66L196.39 562.66L196.80 562.65L197.20 562.65L197.60 562.65L198.00 562.64L198.40 562.64L198.80 562.64L199.20 562.63L199.60 562.63L200.00 562.63L200.40 562.62L200.81 562.62L201.21 562.62L201.61 562.61L202.01 562.61L202.41 562.61L202.81 562.60L203.21 562.60L203.61 562.60L204.01 562.60L204.42 562.59L204.82 562.59L205.22 562.59L205.62 562.58L206.02 562.58L206.42 562.58L206.82 562.58L207.22 562.57L207.62 562.57L208.02 562.57L208.43 562.57L208.83 562.56L209.23 562.56L209.63 562.56L210.03 562.56L210.43 562.56L210.83 562.55L211.23 562.55L211.63 562.55L212.03 562.55L212.44 562.54L212.84 562.54L213.24 562.54L213.64 562.54L214.04 562.54L214.44 562.54L214.84 562.53L215.24 562.53L215.64 562.53L216.05 562.53L216.45 562.53L216.85 562.53L217.25 562.52L217.65 562.52L218.05 562.52L218.45 562.52L218.85 562.52L219.25 562.52L219.65 562.52L220.06 562.51L220.46 562.51L220.86 562.51L221.26 562.51L221.66 562.51L222.06 562.51L222.46 562.51L222.86 562.51L223.26 562.51L223.66 562.51L224.07 562.51L224.47 562.50L224.87 562.50L225.27 562.50L225.67 562.50L226.07 562.50L226.47 562.50L226.87 562.50L227.27 562.50L227.68 562.50L228.08 562.50L228.48 562.50L228.88 562.50L229.28 562.50L229.68 562.50L230.08 562.50L230.48 562.50L230.88 562.50L231.28 562.50L231.68 562.50L232.09 562.50L232.49 562.50L232.89 562.50L233.29 562.50L233.69 562.50L234.09 562.50L234.49 562.50L234.89 562.50L235.29 562.50L235.69 562.50L236.10 562.50L236.50 562.50L236.90 562.50L237.30 562.50L237.70 562.50L238.10 562.50L238.50 562.51L238.90 562.51L239.30 562.51L239.70 562.51L240.11 562.51L240.51 562.51L240.91 562.51L241.31 562.51L241.71 562.51L242.11 562.51L242.51 562.51L242.91 562.51L243.31 562.51L243.71 562.51L244.12 562.51L244.52 562.51L244.92 562.52L245.32 562.52L245.72 562.52L246.12 562.52L246.52 562.52L246.92 562.52L247.32 562.52L247.72 562.52L248.13 562.52L248.53 562.52L248.93 562.52L249.33 562.53L249.73 562.53L250.13 562.53L250.53 562.53L250.93 562.53L251.33 562.53L251.73 562.53L252.13 562.53L252.54 562.53L252.94 562.53L253.34 562.54L253.74 562.54L254.14 562.54L254.54 562.54L254.94 562.54L255.34 562.54L255.74 562.54L256.14 562.54L256.55 562.55L256.95 562.55L257.35 562.55L257.75 562.55L258.15 562.55L258.55 562.55L258.95 562.55L259.35 562.55L259.75 562.56L260.15 562.56L260.56 562.56L260.96 562.56L261.36 562.56L261.76 562.56L262.16 562.56L262.56 562.56L262.96 562.57L263.36 562.57L263.76 562.57L264.16 562.57L264.57 562.57L264.97 562.57L265.37 562.57L265.77 562.58L266.17 562.58L266.57 562.58L266.97 562.58L267.37 562.58L267.77 562.58L268.17 562.58L268.58 562.59L268.98 562.59L269.38 562.59L269.78 562.59L270.18 562.59L270.58 562.59L270.98 562.59L271.38 562.60L271.78 562.60L272.18 562.60L272.59 562.60L272.99 562.60L273.39 562.60L273.79 562.61L274.19 562.61L274.59 562.61L274.99 562.61L275.39 562.61L275.79 562.61L276.19 562.61L276.60 562.62L277.00 562.62L277.40 562.62L277.80 562.62L278.20 562.62L278.60 562.62L279.00 562.63L279.40 562.63L279.80 562.63L280.20 562.63L280.61 562.63L281.01 562.63L281.41 562.63L281.81 562.64L282.21 562.64L282.61 562.64L283.01 562.64L283.41 562.64L283.81 562.64L284.21 562.64L284.61 562.65L285.02 562.65L285.42 562.65L285.82 562.65L286.22 562.65L286.62 562.65L287.02 562.66L287.42 562.66L287.82 562.66L288.22 562.66L288.62 562.66L289.03 562.66L289.43 562.66L289.83 562.67L290.23 562.67L290.63 562.67L291.03 562.67L291.43 562.67L291.83 562.67L292.23 562.67L292.63 562.68L293.04 562.68L293.44 562.68L293.84 562.68L294.24 562.68L294.64 562.68L295.04 562.68L295.44 562.69L295.84 562.69L296.24 562.69L296.64 562.69L297.05 562.69L297.45 562.69L297.85 562.69L298.25 562.69L298.65 562.70L299.05 562.70L299.45 562.70L299.85 562.70L300.25 562.70L300.65 562.70L301.06 562.70L301.46 562.70L301.86 562.71L302.26 562.71L302.66 562.71L303.06 562.71L303.46 562.71L303.86 562.71L304.26 562.71L304.66 562.71L305.07 562.72L305.47 562.72L305.87 562.72L306.27 562.72L306.67 562.72L307.07 562.72L307.47 562.72L307.87 562.72L308.27 562.73L308.67 562.73L309.07 562.73L309.48 562.73L309.88 562.73L310.28 562.73L310.68 562.73L311.08 562.73L311.48 562.74L311.88 562.74L312.28 562.74L312.68 562.74L313.08 562.74L313.49 562.74L313.89 562.74L314.29 562.74L314.69 562.75L315.09 562.75L315.49 562.75L315.89 562.75L316.29 562.75L316.69 562.75L317.09 562.75L317.50 562.76L317.90 562.76L318.30 562.76L318.70 562.76L319.10 562.76L319.50 562.76L319.90 562.76L320.30 562.76L320.70 562.77L321.10 562.77L321.51 562.77L321.91 562.77L322.31 562.77L322.71 562.77L323.11 562.77L323.51 562.77L323.91 562.78L324.31 562.78L324.71 562.78L325.11 562.78L325.52 562.78L325.92 562.78L326.32 562.78L326.72 562.79L327.12 562.79L327.52 562.79L327.92 562.79L328.32 562.79L328.72 562.79L329.12 562.79L329.53 562.79L329.93 562.80L330.33 562.80L330.73 562.80L331.13 562.80L331.53 562.80L331.93 562.80L332.33 562.80L332.73 562.81L333.13 562.81L333.54 562.81L333.94 562.81L334.34 562.81L334.74 562.81L335.14 562.81L335.54 562.82L335.94 562.82L336.34 562.82L336.74 562.82L337.14 562.82L337.54 562.82L337.95 562.82L338.35 562.82L338.75 562.83L339.15 562.83L339.55 562.83L339.95 562.83L340.35 562.83L340.75 562.83L341.15 562.83L341.55 562.84L341.96 562.84L342.36 562.84L342.76 562.84L343.16 562.84L343.56 562.84L343.96 562.84L344.36 562.85L344.76 562.85L345.16 562.85L345.56 562.85L345.97 562.85L346.37 562.85L346.77 562.85L347.17 562.85L347.57 562.86L347.97 562.86L348.37 562.86L348.77 562.86L349.17 562.86L349.57 562.86L349.98 562.86L350.38 562.87L350.78 562.87L351.18 562.87L351.58 562.87L351.98 562.87L352.38 562.87L352.78 562.87L353.18 562.88L353.58 562.88L353.99 562.88L354.39 562.88L354.79 562.88L355.19 562.88L355.59 562.88L355.99 562.89L356.39 562.89L356.79 562.89L357.19 562.89L357.59 562.89L358.00 562.89L358.40 562.89L358.80 562.90L359.20 562.90L359.60 562.90L360.00 562.90" stroke="#000" stroke-width="1.40" fill="none" stroke-linejoin="round"/>
<path d="M55.60 591.00L55.99 591.11L56.37 591.23L56.75 591.35L57.14 591.47L57.52 591.60L57.90 591.73L58.27 591.86L58.65 591.99L59.03 592.13L59.40 592.27L59.78 592.41L60.15 592.56L60.52 592.73L60.88 592.93L61.24 593.14L61.60 593.36L61.96 593.58L62.32 593.80L62.68 593.99L63.04 594.17L63.41 594.32L63.78 594.42L64.15 594.49L64.53 594.50L64.91 594.48L65.29 594.45L65.68 594.41L66.08 594.35L66.47 594.28L66.87 594.20L67.27 594.12L67.67 594.03L68.07 593.94L68.47 593.84L68.86 593.75L69.26 593.66L69.66 593.57L70.05 593.49L70.44 593.41L70.84 593.32L71.23 593.23L71.62 593.13L72.01 593.03L72.40 592.93L72.79 592.84L73.18 592.74L73.57 592.66L73.96 592.57L74.35 592.50L74.74 592.44L75.14 592.38L75.54 592.34L75.93 592.30L76.33 592.26L76.73 592.23L77.13 592.20L77.54 592.17L77.94 592.14L78.34 592.10L78.73 592.06L79.13 592.02L79.53 591.97L79.58 595.20L79.63 591.97L79.92 591.91L80.31 591.85L80.71 591.78L81.10 591.70L81.49 591.62L81.88 591.53L82.27 591.44L82.66 591.35L83.05 591.25L83.44 591.16L83.83 591.06L84.22 590.96L84.61 590.86L85.00 590.76L85.39 590.66L85.78 590.56L86.17 590.47L86.56 590.38L86.96 590.29L87.35 590.21L87.74 590.13L88.13 590.06L88.53 590.00L88.92 589.93L89.32 589.87L89.71 589.81L90.11 589.75L90.51 589.70L90.90 589.64L91.30 589.58L91.69 589.53L92.09 589.47L92.49 589.42L92.89 589.37L93.28 589.32L93.68 589.27L94.08 589.22L94.48 589.17L94.88 589.12L95.28 589.08L95.67 589.03L96.07 588.99L96.47 588.94L96.87 588.90L97.27 588.86L97.67 588.82L98.07 588.78L98.47 588.74L98.87 588.70L99.26 588.67L99.66 588.63L100.06 588.59L100.46 588.56L100.86 588.52L101.26 588.49L101.66 588.45L102.06 588.42L102.45 588.38L102.85 588.34L103.25 588.30L103.65 588.27L104.05 588.23L104.45 588.20L104.85 588.16L105.25 588.12L105.65 588.09L106.05 588.05L106.45 588.02L106.85 587.99L107.25 587.96L107.65 587.92L108.05 587.89L108.45 587.86L108.85 587.84L109.25 587.81L109.65 587.78L110.05 587.76L110.45 587.74L110.85 587.71L111.25 587.69L111.65 587.68L112.05 587.66L112.45 587.65L112.85 587.63L113.25 587.62L113.65 587.61L114.05 587.61L114.45 587.60L114.85 587.60L115.25 587.60L115.65 587.60L116.05 587.60L116.45 587.60L116.85 587.60L117.25 587.60L117.65 587.60L118.05 587.60L118.45 587.61L118.85 587.61L119.25 587.61L119.65 587.61L120.05 587.61L120.45 587.61L120.85 587.62L121.25 587.62L121.66 587.62L122.06 587.62L122.46 587.63L122.86 587.63L123.26 587.63L123.66 587.64L124.06 587.64L124.46 587.64L124.86 587.65L125.26 587.65L125.66 587.65L126.06 587.66L126.46 587.66L126.86 587.67L127.26 587.67L127.66 587.67L128.06 587.68L128.46 587.68L128.86 587.69L129.26 587.69L129.67 587.70L130.07 587.70L130.47 587.71L130.87 587.71L131.27 587.72L131.67 587.72L132.07 587.73L132.47 587.73L132.87 587.74L133.27 587.74L133.67 587.75L134.07 587.75L134.47 587.76L134.87 587.76L135.27 587.77L135.68 587.78L136.08 587.78L136.48 587.79L136.88 587.79L137.28 587.80L137.68 587.81L138.08 587.81L138.48 587.82L138.88 587.82L139.28 587.83L139.68 587.84L140.08 587.84L140.48 587.85L140.89 587.86L141.29 587.86L141.69 587.87L142.09 587.88L142.49 587.88L142.89 587.89L143.29 587.90L143.69 587.90L144.09 587.91L144.49 587.92L144.89 587.92L145.29 587.93L145.69 587.94L146.09 587.94L146.50 587.95L146.90 587.96L147.30 587.96L147.70 587.97L148.10 587.97L148.50 587.98L148.90 587.99L149.30 587.99L149.70 588.00L150.10 588.01L150.50 588.01L150.90 588.02L151.30 588.03L151.70 588.03L152.11 588.04L152.51 588.05L152.91 588.05L153.31 588.06L153.71 588.07L154.11 588.07L154.51 588.08L154.91 588.08L155.31 588.09L155.71 588.10L156.11 588.10L156.51 588.11L156.91 588.11L157.31 588.12L157.71 588.13L158.11 588.13L158.51 588.14L158.92 588.14L159.32 588.15L159.72 588.16L160.12 588.16L160.52 588.17L160.92 588.18L161.32 588.18L161.72 588.19L162.12 588.20L162.52 588.20L162.92 588.21L163.32 588.22L163.72 588.22L164.12 588.23L164.52 588.24L164.92 588.25L165.32 588.25L165.72 588.26L166.13 588.27L166.53 588.27L166.93 588.28L167.33 588.29L167.73 588.30L168.13 588.30L168.53 588.31L168.93 588.32L169.33 588.33L169.73 588.33L170.13 588.34L170.53 588.35L170.93 588.36L171.33 588.37L171.73 588.37L172.13 588.38L172.53 588.39L172.93 588.40L173.33 588.40L173.74 588.41L174.14 588.42L174.54 588.43L174.94 588.44L175.34 588.44L175.74 588.45L176.14 588.46L176.54 588.47L176.94 588.48L177.34 588.49L177.74 588.49L178.14 588.50L178.54 588.51L178.94 588.52L179.34 588.53L179.74 588.54L180.14 588.54L180.54 588.55L180.94 588.56L181.35 588.57L181.75 588.58L182.15 588.59L182.55 588.60L182.95 588.60L183.35 588.61L183.75 588.62L184.15 588.63L184.55 588.64L184.95 588.65L185.35 588.66L185.75 588.66L186.15 588.67L186.55 588.68L186.95 588.69L187.35 588.70L187.75 588.71L188.15 588.72L188.55 588.73L188.96 588.73L189.36 588.74L189.76 588.75L190.16 588.76L190.56 588.77L190.96 588.78L191.36 588.79L191.76 588.80L192.16 588.81L192.56 588.81L192.96 588.82L193.36 588.83L193.76 588.84L194.16 588.85L194.56 588.86L194.96 588.87L195.36 588.88L195.76 588.89L196.16 588.89L196.57 588.90L196.97 588.91L197.37 588.92L197.77 588.93L198.17 588.94L198.57 588.95L198.97 588.96L199.37 588.97L199.77 588.98L200.17 588.98L200.57 588.99L200.97 589.00L201.37 589.01L201.77 589.02L202.17 589.03L202.57 589.04L202.97 589.05L203.37 589.06L203.77 589.06L204.18 589.07L204.58 589.08L204.98 589.09L205.38 589.10L205.78 589.11L206.18 589.12L206.58 589.13L206.98 589.13L207.38 589.14L207.78 589.15L208.18 589.16L208.58 589.17L208.98 589.18L209.38 589.19L209.78 589.20L210.18 589.20L210.58 589.21L210.98 589.22L211.38 589.23L211.79 589.24L212.19 589.25L212.59 589.26L212.99 589.26L213.39 589.27L213.79 589.28L214.19 589.29L214.59 589.30L214.99 589.31L215.39 589.32L215.79 589.32L216.19 589.33L216.59 589.34L216.99 589.35L217.39 589.36L217.79 589.37L218.19 589.37L218.59 589.38L218.99 589.39L219.40 589.40L219.80 589.41L220.20 589.41L220.60 589.42L221.00 589.43L221.40 589.44L221.80 589.45L222.20 589.45L222.60 589.46L223.00 589.47L223.40 589.48L223.80 589.49L224.20 589.49L224.60 589.50L225.00 589.51L225.40 589.52L225.80 589.52L226.20 589.53L226.60 589.54L227.01 589.55L227.41 589.55L227.81 589.56L228.21 589.57L228.61 589.58L229.01 589.58L229.41 589.59L229.81 589.60L230.21 589.60L230.61 589.61L231.01 589.62L231.41 589.63L231.81 589.63L232.21 589.64L232.61 589.65L233.01 589.65L233.41 589.66L233.81 589.67L234.22 589.68L234.62 589.68L235.02 589.69L235.42 589.70L235.82 589.71L236.22 589.71L236.62 589.72L237.02 589.73L237.42 589.74L237.82 589.74L238.22 589.75L238.62 589.76L239.02 589.77L239.42 589.77L239.82 589.78L240.22 589.79L240.62 589.80L241.02 589.80L241.43 589.81L241.83 589.82L242.23 589.83L242.63 589.83L243.03 589.84L243.43 589.85L243.83 589.86L244.23 589.87L244.63 589.87L245.03 589.88L245.43 589.89L245.83 589.90L246.23 589.90L246.63 589.91L247.03 589.92L247.43 589.93L247.83 589.93L248.23 589.94L248.64 589.95L249.04 589.96L249.44 589.97L249.84 589.97L250.24 589.98L250.64 589.99L251.04 590.00L251.44 590.00L251.84 590.01L252.24 590.02L252.64 590.03L253.04 590.03L253.44 590.04L253.84 590.05L254.24 590.06L254.64 590.07L255.04 590.07L255.44 590.08L255.85 590.09L256.25 590.10L256.65 590.10L257.05 590.11L257.45 590.12L257.85 590.13L258.25 590.13L258.65 590.14L259.05 590.15L259.45 590.16L259.85 590.16L260.25 590.17L260.65 590.18L261.05 590.19L261.45 590.19L261.85 590.20L262.25 590.21L262.65 590.22L263.06 590.22L263.46 590.23L263.86 590.24L264.26 590.24L264.66 590.25L265.06 590.26L265.46 590.27L265.86 590.27L266.26 590.28L266.66 590.29L267.06 590.29L267.46 590.30L267.86 590.31L268.26 590.31L268.66 590.32L269.06 590.33L269.46 590.33L269.86 590.34L270.27 590.35L270.67 590.36L271.07 590.36L271.47 590.37L271.87 590.37L272.27 590.38L272.67 590.39L273.07 590.39L273.47 590.40L273.87 590.41L274.27 590.41L274.67 590.42L275.07 590.43L275.47 590.43L275.87 590.44L276.27 590.44L276.67 590.45L277.08 590.46L277.48 590.46L277.88 590.47L278.28 590.47L278.68 590.48L279.08 590.49L279.48 590.49L279.88 590.50L280.28 590.50L280.68 590.51L281.08 590.51L281.48 590.52L281.88 590.52L282.28 590.53L282.68 590.54L283.08 590.54L283.48 590.55L283.88 590.55L284.29 590.56L284.69 590.56L285.09 590.57L285.49 590.57L285.89 590.58L286.29 590.58L286.69 590.58L287.09 590.59L287.49 590.59L287.89 590.60L288.29 590.60L288.69 590.61L289.09 590.61L289.49 590.62L289.89 590.62L290.29 590.62L290.69 590.63L291.10 590.63L291.50 590.64L291.90 590.64L292.30 590.64L292.70 590.65L293.10 590.65L293.50 590.65L293.90 590.66L294.30 590.66L294.70 590.66L295.10 590.67L295.50 590.67L295.90 590.67L296.30 590.68L296.70 590.68L297.10 590.68L297.50 590.68L297.91 590.69L298.31 590.69L298.71 590.69L299.11 590.69L299.51 590.70L299.91 590.70L300.31 590.70L300.71 590.70L301.11 590.71L301.51 590.71L301.91 590.71L302.31 590.71L302.71 590.71L303.11 590.72L303.51 590.72L303.91 590.72L304.31 590.72L304.72 590.73L305.12 590.73L305.52 590.73L305.92 590.73L306.32 590.73L306.72 590.74L307.12 590.74L307.52 590.74L307.92 590.74L308.32 590.74L308.72 590.75L309.12 590.75L309.52 590.75L309.92 590.75L310.32 590.75L310.72 590.76L311.12 590.76L311.53 590.76L311.93 590.76L312.33 590.76L312.73 590.77L313.13 590.77L313.53 590.77L313.93 590.77L314.33 590.77L314.73 590.78L315.13 590.78L315.53 590.78L315.93 590.78L316.33 590.78L316.73 590.79L317.13 590.79L317.53 590.79L317.93 590.79L318.34 590.79L318.74 590.79L319.14 590.80L319.54 590.80L319.94 590.80L320.34 590.80L320.74 590.80L321.14 590.80L321.54 590.81L321.94 590.81L322.34 590.81L322.74 590.81L323.14 590.81L323.54 590.82L323.94 590.82L324.34 590.82L324.75 590.82L325.15 590.82L325.55 590.82L325.95 590.83L326.35 590.83L326.75 590.83L327.15 590.83L327.55 590.83L327.95 590.83L328.35 590.83L328.75 590.84L329.15 590.84L329.55 590.84L329.95 590.84L330.35 590.84L330.75 590.84L331.16 590.84L331.56 590.85L331.96 590.85L332.36 590.85L332.76 590.85L333.16 590.85L333.56 590.85L333.96 590.85L334.36 590.86L334.76 590.86L335.16 590.86L335.56 590.86L335.96 590.86L336.36 590.86L336.76 590.86L337.16 590.86L337.56 590.87L337.97 590.87L338.37 590.87L338.77 590.87L339.17 590.87L339.57 590.87L339.97 590.87L340.37 590.87L340.77 590.87L341.17 590.88L341.57 590.88L341.97 590.88L342.37 590.88L342.77 590.88L343.17 590.88L343.57 590.88L343.97 590.88L344.38 590.88L344.78 590.88L345.18 590.88L345.58 590.89L345.98 590.89L346.38 590.89L346.78 590.89L347.18 590.89L347.58 590.89L347.98 590.89L348.38 590.89L348.78 590.89L349.18 590.89L349.58 590.89L349.98 590.89L350.38 590.89L350.79 590.89L351.19 590.89L351.59 590.89L351.99 590.90L352.39 590.90L352.79 590.90L353.19 590.90L353.59 590.90L353.99 590.90L354.39 590.90L354.79 590.90L355.19 590.90L355.59 590.90L355.99 590.90L356.39 590.90L356.79 590.90L357.20 590.90L357.60 590.90L358.00 590.90L358.40 590.90L358.80 590.90L359.20 590.90L359.60 590.90L360.00 590.90" stroke="#000" stroke-width="1.40" fill="none" stroke-linejoin="round"/>
<path d="M55.60 936.00L55.95 936.08L56.32 936.15L56.69 936.22L57.08 936.27L57.46 936.32L57.83 936.37L58.18 936.40L58.50 936.43L58.80 936.46L59.05 936.48L59.26 936.49L59.41 936.50L59.50 936.50L59.55 936.49L59.60 936.47L59.64 936.44L59.69 936.39L59.74 936.33L59.78 936.25L59.82 936.17L59.86 936.07L59.90 935.95L59.94 935.83L59.98 935.69L60.01 935.54L60.05 935.38L60.08 935.21L60.12 935.03L60.15 934.84L60.18 934.63L60.21 934.42L60.24 934.20L60.26 933.97L60.29 933.73L60.32 933.48L60.34 933.22L60.37 932.95L60.39 932.67L60.41 932.39L60.43 932.10L60.46 931.80L60.48 931.49L60.50 931.18L60.52 930.86L60.53 930.53L60.55 930.20L60.57 929.86L60.59 929.52L60.60 929.17L60.62 928.82L60.63 928.46L60.65 928.10L60.66 927.73L60.68 927.36L60.69 926.98L60.70 926.60L60.72 926.22L60.73 925.84L60.74 925.45L60.76 925.06L60.77 924.67L60.78 924.27L60.79 923.88L60.80 923.48L60.82 923.08L60.83 922.68L60.84 922.28L60.85 921.88L60.86 921.48L60.88 921.08L60.89 920.68L60.90 920.28L60.91 919.88L60.92 919.49L60.94 919.09L60.95 918.70L60.96 918.31L60.98 917.92L60.99 917.53L61.00 917.15L61.02 916.77L61.03 916.39L61.05 916.01L61.07 915.64L61.08 915.28L61.10 914.92L61.12 914.56L61.13 914.21L61.15 913.86L61.17 913.52L61.19 913.18L61.21 912.85L61.23 912.53L61.25 912.21L61.28 911.90L61.30 911.60L61.32 911.30L61.35 911.00L61.37 910.70L61.40 910.40L61.42 910.10L61.44 909.80L61.47 909.50L61.49 909.20L61.52 908.90L61.54 908.60L61.57 908.30L61.59 908.00L61.61 907.70L61.64 907.40L61.66 907.10L61.69 906.80L61.71 906.50L61.74 906.20L61.76 905.90L61.79 905.60L61.81 905.30L61.84 905.00L61.86 904.70L61.89 904.40L61.91 904.10L61.94 903.80L61.96 903.50L61.99 903.20L62.01 902.90L62.04 902.60L62.06 902.30L62.09 902.00L62.12 901.70L62.14 901.40L62.17 901.10L62.19 900.80L62.22 900.50L62.24 900.20L62.27 899.90L62.30 899.60L62.32 899.30L62.35 899.00L62.37 898.70L62.40 898.40L62.43 898.10L62.45 897.80L62.48 897.50L62.50 897.20L62.53 896.90L62.56 896.60L62.58 896.30L62.61 896.00L62.64 895.70L62.66 895.40L62.69 895.10L62.72 894.80L62.74 894.50L62.77 894.20L62.80 893.90L62.82 893.60L62.85 893.30L62.88 893.00L62.91 892.70L62.93 892.40L62.96 892.10L62.99 891.80L63.01 891.50L63.04 891.20L63.07 890.90L63.10 890.60L63.12 890.30L63.15 890.00L63.18 889.70L63.21 889.40L63.24 889.10L63.26 888.80L63.29 888.50L63.32 888.20L63.35 887.90L63.37 887.60L63.40 887.30L63.43 887.01L63.46 886.71L63.49 886.41L63.51 886.11L63.54 885.81L63.57 885.51L63.60 885.21L63.63 884.91L63.66 884.61L63.69 884.31L63.71 884.01L63.74 883.71L63.77 883.41L63.80 883.11L63.83 882.81L63.86 882.51L63.89 882.21L63.91 881.91L63.94 881.61L63.97 881.31L64.00 881.01L64.03 880.71L64.06 880.41L64.09 880.11L64.12 879.81L64.15 879.51L64.18 879.21L64.21 878.91L64.24 878.62L64.27 878.32L64.30 878.02L64.33 877.72L64.36 877.42L64.39 877.12L64.42 876.82L64.45 876.52L64.48 876.22L64.51 875.92L64.54 875.62L64.57 875.32L64.60 875.02L64.63 874.72L64.66 874.42L64.69 874.12L64.72 873.82L64.76 873.52L64.79 873.22L64.82 872.93L64.85 872.63L64.88 872.33L64.91 872.03L64.95 871.73L64.98 871.43L65.01 871.13L65.04 870.83L65.07 870.53L65.11 870.23L65.14 869.93L65.17 869.63L65.21 869.33L65.24 869.03L65.27 868.73L65.30 868.44L65.34 868.14L65.37 867.84L65.40 867.54L65.44 867.24L65.47 866.94L65.50 866.64L65.54 866.34L65.57 866.04L65.61 865.74L65.64 865.44L65.67 865.15L65.71 864.85L65.74 864.55L65.78 864.25L65.81 863.95L65.85 863.65L65.88 863.35L65.92 863.05L65.95 862.75L65.99 862.45L66.02 862.16L66.06 861.86L66.10 861.56L66.13 861.26L66.17 860.96L66.20 860.66L66.24 860.36L66.28 860.06L66.31 859.76L66.35 859.47L66.39 859.17L66.42 858.87L66.46 858.57L66.50 858.27L66.53 857.97L66.57 857.67L66.61 857.37L66.65 857.08L66.68 856.78L66.72 856.48L66.76 856.18L66.80 855.88L66.84 855.58L66.87 855.28L66.91 854.99L66.95 854.69L66.99 854.39L67.03 854.09L67.07 853.79L67.10 853.49L67.14 853.19L67.18 852.90L67.22 852.60L67.26 852.30L67.30 852.00L67.30 852.00L67.80 850.58L68.30 846.64L68.80 849.14L69.30 841.46L69.80 850.87L70.30 836.46L70.80 843.35L71.30 832.17L71.80 832.31L72.30 829.65L72.80 832.94L73.30 829.70L73.80 842.14L74.30 824.31L74.80 842.70L75.30 823.58L75.80 833.04L76.30 821.19L76.80 841.33L77.30 816.20L77.80 829.45L78.30 817.35L78.80 837.87L79.30 813.94L79.80 820.19L80.30 816.71L80.80 830.09L81.30 812.78L81.80 826.78L82.30 811.61L82.80 828.64L83.30 810.44L83.80 817.02L84.30 808.65L84.80 816.19L85.30 809.39L85.80 811.14L86.30 805.15L86.80 813.94L87.30 801.30L87.80 806.26L88.30 800.11L88.80 800.98L89.30 798.19L89.80 805.04L90.30 794.28L90.80 800.58L91.30 793.06L91.80 798.59L92.30 791.26L92.80 795.13L93.30 790.13L93.80 793.23L94.30 789.12L94.80 794.50L95.30 788.86L95.80 790.66L96.30 786.85L96.80 788.94L97.30 784.84L97.80 786.36L98.30 784.37L98.80 785.05L99.30 783.19L99.80 784.88L100.30 782.52L100.80 783.92L101.00 782.30L101.08 783.98L101.16 782.30L101.31 782.50L101.62 782.67L101.92 782.82L102.22 782.95L102.52 783.05L102.60 783.57L102.68 783.05L102.82 783.14L102.90 784.47L102.98 783.14L103.12 783.20L103.41 783.25L103.49 783.79L103.57 783.25L103.70 783.28L103.78 784.76L103.86 783.28L103.98 783.30L104.27 783.30L104.54 783.25L104.81 783.15L105.08 783.00L105.35 782.81L105.61 782.61L105.87 782.39L106.13 782.17L106.40 781.96L106.67 781.78L106.94 781.63L107.22 781.52L107.51 781.45L107.80 781.40L108.10 781.34L108.40 781.29L108.71 781.25L109.02 781.21L109.33 781.17L109.64 781.13L109.96 781.10L110.27 781.07L110.59 781.04L110.91 781.01L111.22 780.98L111.54 780.95L111.85 780.92L112.16 780.88L112.47 780.85L112.78 780.82L113.09 780.79L113.40 780.76L113.71 780.73L114.02 780.70L114.33 780.67L114.64 780.65L114.95 780.62L115.26 780.59L115.57 780.57L115.88 780.55L116.19 780.52L116.50 780.50" stroke="#000" stroke-width="1.40" fill="none" stroke-linejoin="round"/>
<path d="M63.6 882 L64.4 876 L65.6 866 L66.6 857.5 L67.5 851 L68.5 841 L70 835 L71.5 830" stroke="#000" stroke-width="2.30" fill="none" stroke-linejoin="round"/>
<path d="M55.60 936.00L56.04 936.40L56.47 936.77L56.90 937.10L57.33 937.42L57.74 937.70L58.15 937.95L58.54 938.18L58.90 938.38L59.25 938.55L59.58 938.69L59.87 938.81L60.14 938.90L60.38 938.96L60.57 938.99L60.73 939.00L60.88 938.96L61.01 938.86L61.14 938.72L61.25 938.53L61.37 938.29L61.47 938.02L61.57 937.70L61.66 937.35L61.75 936.98L61.84 936.57L61.92 936.13L62.00 935.68L62.07 935.21L62.14 934.72L62.21 934.22L62.28 933.70L62.35 933.19L62.42 932.67L62.48 932.15L62.55 931.63L62.62 931.12L62.69 930.61L62.76 930.12L62.84 929.65L62.92 929.20L63.00 928.76L63.09 928.35L63.18 927.96L63.26 927.57L63.35 927.18L63.43 926.79L63.52 926.39L63.60 926.00L63.69 925.61L63.77 925.21L63.85 924.82L63.93 924.43L64.02 924.03L64.10 923.64L64.19 923.25L64.27 922.86L64.36 922.46L64.45 922.07L64.54 921.68L64.63 921.29L64.72 920.90L64.81 920.51L64.91 920.12L65.01 919.74L65.11 919.35L65.22 918.97L65.33 918.59L65.44 918.20L65.55 917.82L65.67 917.44L65.79 917.06L65.92 916.67L66.05 916.29L66.18 915.91L66.32 915.53L66.46 915.15L66.61 914.77L66.76 914.39L66.92 914.02L67.08 913.65L67.25 913.29L67.42 912.93L67.59 912.57L67.78 912.23L67.96 911.89L68.16 911.54L68.37 911.20L68.59 910.85L68.83 910.50L69.07 910.16L69.32 909.83L69.58 909.51L69.84 909.20L70.12 908.91L70.40 908.63L70.68 908.38L70.97 908.14L71.28 907.92L71.60 907.70L71.93 907.49L72.27 907.29L72.63 907.09L72.99 906.90L73.36 906.72L73.74 906.54L74.12 906.38L74.50 906.22L74.88 906.07L75.27 905.93L75.65 905.80L76.03 905.68L76.41 905.57L76.79 905.46L77.17 905.36L77.55 905.27L77.93 905.17L78.32 905.08L78.71 905.00L79.10 904.91L79.49 904.83L79.89 904.75L80.28 904.68L80.68 904.61L81.08 904.53L81.48 904.47L81.88 904.40L82.27 904.33L82.67 904.27L83.07 904.21L83.47 904.14L83.87 904.08L84.27 904.02L84.67 903.97L85.07 903.91L85.47 903.85L85.86 903.79L86.26 903.73L86.65 903.68L87.05 903.62L87.45 903.56L87.84 903.51L88.24 903.45L88.64 903.40L89.03 903.34L89.43 903.29L89.83 903.24L90.23 903.19L90.63 903.14L91.02 903.09L91.42 903.04L91.82 902.99L92.22 902.94L92.62 902.89L93.01 902.85L93.41 902.80L93.81 902.76L94.21 902.72L94.61 902.68L95.01 902.64L95.41 902.60L95.81 902.56L96.20 902.52L96.60 902.49L97.00 902.46L97.40 902.42L97.80 902.39L98.20 902.36L98.60 902.33L99.00 902.30L99.40 902.28L99.80 902.25L100.20 902.22L100.60 902.19L101.00 902.17L101.40 902.14L101.80 902.12L102.20 902.09L102.60 902.07L103.00 902.05L103.40 902.02L103.80 902.00L104.20 901.98L104.60 901.96L105.00 901.94L105.40 901.92L105.80 901.90L106.20 901.88L106.60 901.86L107.00 901.84L107.40 901.82L107.80 901.80L108.20 901.78L108.60 901.76L109.00 901.74L109.40 901.73L109.80 901.71L110.20 901.69L110.60 901.67L111.00 901.66L111.40 901.64L111.80 901.62L112.20 901.60L112.60 901.59L113.00 901.57L113.40 901.55L113.80 901.53L114.20 901.52L114.60 901.50L115.00 901.48L115.40 901.47L115.81 901.45L116.21 901.44L116.61 901.42L117.01 901.41L117.41 901.39L117.81 901.38L118.21 901.37L118.61 901.36L119.01 901.35L119.41 901.34L119.81 901.33L120.21 901.32L120.61 901.31L121.01 901.31L121.41 901.30L121.81 901.30L122.21 901.29L122.61 901.29L123.01 901.28L123.41 901.28L123.82 901.27L124.22 901.27L124.62 901.27L125.02 901.26L125.42 901.26L125.82 901.25L126.22 901.25L126.62 901.25L127.02 901.24L127.42 901.24L127.82 901.23L128.22 901.23L128.62 901.23L129.02 901.22L129.42 901.22L129.82 901.22L130.22 901.21L130.62 901.21L131.03 901.21L131.43 901.20L131.83 901.20L132.23 901.20L132.63 901.19L133.03 901.19L133.43 901.19L133.83 901.18L134.23 901.18L134.63 901.18L135.03 901.18L135.43 901.17L135.83 901.17L136.23 901.17L136.63 901.16L137.04 901.16L137.44 901.16L137.84 901.16L138.24 901.15L138.64 901.15L139.04 901.15L139.44 901.15L139.84 901.15L140.24 901.14L140.64 901.14L141.04 901.14L141.44 901.14L141.84 901.13L142.24 901.13L142.64 901.13L143.05 901.13L143.45 901.13L143.85 901.13L144.25 901.12L144.65 901.12L145.05 901.12L145.45 901.12L145.85 901.12L146.25 901.12L146.65 901.12L147.05 901.11L147.45 901.11L147.85 901.11L148.25 901.11L148.66 901.11L149.06 901.11L149.46 901.11L149.86 901.11L150.26 901.11L150.66 901.11L151.06 901.10L151.46 901.10L151.86 901.10L152.26 901.10L152.66 901.10L153.06 901.10L153.46 901.10L153.86 901.10L154.26 901.10L154.67 901.10L155.07 901.10L155.47 901.10L155.87 901.10L156.27 901.10L156.67 901.10L157.07 901.10L157.47 901.10L157.87 901.10L158.27 901.10L158.67 901.10L159.07 901.10L159.47 901.11L159.87 901.11L160.27 901.11L160.67 901.11L161.08 901.11L161.48 901.11L161.88 901.12L162.28 901.12L162.68 901.12L163.08 901.12L163.48 901.12L163.88 901.13L164.28 901.13L164.68 901.13L165.08 901.13L165.48 901.14L165.88 901.14L166.28 901.14L166.68 901.14L167.09 901.15L167.49 901.15L167.89 901.15L168.29 901.16L168.69 901.16L169.09 901.16L169.49 901.16L169.89 901.17L170.29 901.17L170.69 901.17L171.09 901.17L171.49 901.17L171.89 901.18L172.29 901.18L172.69 901.18L173.09 901.18L173.50 901.19L173.90 901.19L174.30 901.19L174.70 901.19L175.10 901.19L175.50 901.19L175.90 901.20L176.30 901.20L176.70 901.20L177.10 901.20L177.50 901.20L177.90 901.20L178.30 901.20L178.70 901.20L179.10 901.20L179.51 901.20L179.92 901.20L180.33 901.20L180.75 901.20L181.17 901.19L181.60 901.19L182.02 901.19L182.45 901.18L182.88 901.18L183.30 901.17L183.73 901.17L184.15 901.16L184.57 901.15L184.99 901.15L185.41 901.14L185.82 901.13L186.22 901.12L186.62 901.11L187.02 901.10L187.40 901.09L187.78 901.08L188.15 901.06L188.51 901.05L188.86 901.03L189.20 901.02L189.53 901.00L189.85 900.96L190.17 900.84L190.47 900.66L190.77 900.41L191.05 900.12L191.34 899.80L191.61 899.44L191.88 899.07L192.15 898.69L192.40 898.32L192.66 897.96L192.91 897.62L193.15 897.31L193.39 896.99L193.62 896.67L193.85 896.34L194.07 896.00L194.29 895.67L194.51 895.32L194.72 894.98L194.93 894.64L195.13 894.29L195.34 893.94L195.54 893.60L195.74 893.25L195.95 892.91L196.15 892.56L196.35 892.21L196.54 891.86L196.74 891.51L196.94 891.16L197.13 890.81L197.32 890.45L197.50 890.10L197.68 889.74L197.86 889.38L198.04 889.02L198.21 888.66L198.37 888.29L198.53 887.93L198.69 887.56L198.84 887.19L198.99 886.82L199.13 886.45L199.21 885.26L199.29 886.45L199.28 886.08L199.42 885.70L199.50 888.10L199.58 885.70L199.56 885.33L199.64 887.35L199.72 885.33L199.69 884.95L199.83 884.57L199.96 884.19L200.04 883.15L200.12 884.19L200.09 883.81L200.22 883.43L200.34 883.05L200.42 886.54L200.50 883.05L200.47 882.67L200.55 884.28L200.63 882.67L200.59 882.28L200.67 881.68L200.75 882.28L200.71 881.90L200.79 883.86L200.87 881.90L200.84 881.52L200.92 883.22L201.00 881.52L200.96 881.14L201.08 880.76L201.16 882.68L201.24 880.76L201.20 880.37L201.28 881.71L201.36 880.37L201.31 879.99L201.39 880.53L201.47 879.99L201.43 879.61L201.55 879.22L201.63 878.24L201.71 879.22L201.66 878.84L201.78 878.46L201.89 878.07L202.00 877.69L202.08 880.66L202.16 877.69L202.11 877.30L202.22 876.92L202.33 876.53L202.44 876.14L202.52 878.47L202.60 876.14L202.55 875.76L202.65 875.37L202.76 874.98L202.86 874.59L202.96 874.21L203.04 876.20L203.12 874.21L203.06 873.82L203.15 873.43L203.23 876.58L203.31 873.43L203.25 873.04L203.33 875.11L203.41 873.04L203.35 872.65L203.44 872.26L203.52 873.45L203.60 872.26L203.53 871.87L203.61 874.47L203.69 871.87L203.62 871.48L203.71 871.09L203.79 870.70L203.87 873.23L203.95 870.70L203.88 870.31L203.96 873.64L204.04 870.31L203.96 869.92L204.04 870.62L204.12 869.92L204.04 869.53L204.12 870.93L204.20 869.53L204.13 869.14L204.21 869.91L204.29 869.14L204.21 868.74L204.29 868.35L204.36 867.96L204.44 870.96L204.52 867.96L204.44 867.56L204.52 867.17L204.59 866.78L204.67 868.65L204.75 866.78L204.67 866.38L204.75 867.49L204.83 866.38L204.74 865.99L204.82 866.38L204.90 865.99L204.82 865.60L204.90 868.12L204.98 865.60L204.89 865.20L204.97 864.81L205.04 864.41L205.12 864.02L205.19 863.63L205.27 864.91L205.35 863.63L205.27 863.23L205.35 865.57L205.43 863.23L205.34 862.84L205.42 864.22L205.50 862.84L205.41 862.44L205.49 862.05L205.57 861.59L205.65 862.05L205.57 861.66L205.65 861.83L205.73 861.66L205.64 861.26L205.72 863.90L205.80 861.26L205.71 860.87L205.78 860.47L205.86 859.41L205.94 860.47L205.85 860.08L205.93 859.57L206.01 860.08L205.92 859.68L206.00 862.38L206.08 859.68L205.99 859.29L206.07 861.87L206.15 859.29L206.06 858.89L206.13 858.50L206.21 858.02L206.29 858.50L206.19 858.10L206.26 857.71L206.33 857.31L206.40 856.92L206.48 858.51L206.56 856.92L206.47 856.52L206.54 856.13L206.62 859.04L206.70 856.13L206.61 855.73L206.68 855.34L206.76 854.94L206.84 856.44L206.92 854.94L206.83 854.55L206.91 853.82L206.99 854.55L206.91 854.16L206.99 854.79L207.07 854.16L206.99 853.77L207.07 855.10L207.15 853.77L207.07 853.37L207.15 852.89L207.23 853.37L207.15 852.98L207.23 853.24L207.31 852.98L207.23 852.59L207.32 852.20L207.41 851.81L207.49 852.86L207.57 851.81L207.50 851.42L207.58 854.37L207.66 851.42L207.60 851.03L207.68 853.45L207.76 851.03L207.69 850.65L207.77 849.68L207.85 850.65L207.79 850.26L207.89 849.87L207.97 850.82L208.05 849.87L208.00 849.48L208.08 848.60L208.16 849.48L208.10 849.09L208.18 848.10L208.26 849.09L208.21 848.70L208.29 851.27L208.37 848.70L208.32 848.31L208.43 847.93L208.51 848.51L208.59 847.93L208.54 847.54L208.62 848.12L208.70 847.54L208.66 847.16L208.74 849.72L208.82 847.16L208.78 846.77L208.86 847.70L208.94 846.77L208.90 846.39L208.98 849.46L209.06 846.39L209.02 846.01L209.10 849.22L209.18 846.01L209.15 845.63L209.23 848.39L209.31 845.63L209.27 845.25L209.40 844.88L209.48 847.76L209.56 844.88L209.53 844.50L209.61 844.66L209.69 844.50L209.67 844.13L209.82 843.76L209.97 843.39L210.05 845.74L210.13 843.39L210.12 843.02L210.20 845.36L210.28 843.02L210.28 842.66L210.36 845.73L210.44 842.66L210.45 842.29L210.62 841.93L210.70 841.52L210.78 841.93L210.79 841.57L210.96 841.21L211.14 840.84L211.32 840.48L211.40 842.32L211.48 840.48L211.50 840.12L211.68 839.76L211.76 841.42L211.84 839.76L211.85 839.40L212.03 839.04L212.21 838.68L212.29 838.38L212.37 838.68L212.39 838.32L212.56 837.96L212.73 837.59L212.90 837.23L213.06 836.86L213.22 836.50L213.38 836.13L213.54 835.76L213.69 835.38L213.84 835.01L213.99 834.64L214.14 834.27L214.29 833.89L214.44 833.52L214.59 833.14L214.74 832.77L214.89 832.39L215.03 832.02L215.18 831.64L215.33 831.27L215.48 830.90L215.63 830.52L215.78 830.15L215.94 829.78L216.09 829.41L216.25 829.04L216.41 828.68L216.57 828.31L216.74 827.95L216.91 827.59L217.08 827.23L217.25 826.87L217.43 826.52L217.61 826.17L217.80 825.82L217.99 825.47L218.19 825.13L218.39 824.79L218.59 824.45L218.80 824.11L219.02 823.77L219.24 823.44L219.46 823.11L219.69 822.78L219.91 822.45L220.14 822.12L220.38 821.79L220.61 821.46L220.85 821.13L220.93 820.83L221.01 821.13L221.08 820.81L221.32 820.48L221.56 820.16L221.79 819.83L222.03 819.50L222.27 819.18L222.51 818.85L222.74 818.52L222.97 818.20L223.21 817.87L223.43 817.54L223.66 817.21L223.89 816.87L224.11 816.54L224.33 816.21L224.55 815.87L224.77 815.54L224.99 815.20L225.21 814.86L225.43 814.53L225.64 814.19L225.86 813.85L226.08 813.52L226.30 813.18L226.51 812.84L226.73 812.50L226.81 813.60L226.89 812.50L226.95 812.17L227.03 813.07L227.11 812.17L227.17 811.83L227.25 813.07L227.33 811.83L227.39 811.50L227.61 811.16L227.83 810.83L228.05 810.49L228.28 810.16L228.50 809.83L228.73 809.50L228.95 809.17L229.18 808.84L229.41 808.52L229.64 808.19L229.72 809.49L229.80 808.19L229.88 807.87L230.11 807.54L230.35 807.22L230.59 806.90L230.83 806.58L231.07 806.25L231.31 805.93L231.55 805.61L231.79 805.29L231.87 806.53L231.95 805.29L232.03 804.97L232.11 806.03L232.19 804.97L232.28 804.65L232.52 804.33L232.77 804.01L233.02 803.69L233.27 803.38L233.52 803.06L233.77 802.75L234.03 802.44L234.29 802.14L234.55 801.83L234.81 801.53L235.07 801.23L235.34 800.93L235.60 800.63L235.88 800.34L236.15 800.05L236.42 799.77L236.70 799.48L236.98 799.20L237.27 798.92L237.55 798.64L237.84 798.36L238.13 798.08L238.21 798.41L238.29 798.08L238.43 797.81L238.73 797.53L238.81 798.61L238.89 797.53L239.03 797.26L239.33 796.99L239.63 796.73L239.94 796.47L240.02 797.42L240.10 796.47L240.25 796.21L240.56 795.95L240.87 795.70L240.95 795.40L241.03 795.70L241.18 795.45L241.50 795.20L241.81 794.96L241.89 795.14L241.97 794.96L242.13 794.72L242.45 794.49L242.78 794.26L243.10 794.04L243.18 794.22L243.26 794.04L243.44 793.82L243.77 793.60L243.82 800.00L243.87 793.60L244.11 793.39L244.45 793.18L244.79 792.97L245.14 792.76L245.49 792.56L245.83 792.35L246.18 792.15L246.53 791.95L246.88 791.75L247.23 791.55L247.31 791.97L247.39 791.55L247.58 791.35L247.92 791.14L248.27 790.94L248.35 790.64L248.43 790.94L248.61 790.73L248.95 790.52L249.29 790.31L249.64 790.09L249.98 789.88L250.31 789.66L250.65 789.44L250.99 789.22L251.04 803.80L251.09 789.22L251.33 789.00L251.38 802.00L251.43 789.00L251.68 788.79L252.02 788.58L252.36 788.37L252.44 788.63L252.52 788.37L252.71 788.17L252.79 788.91L252.87 788.17L253.06 787.97L253.41 787.78L253.76 787.60L254.11 787.42L254.47 787.26L254.83 787.10L255.20 786.95L255.57 786.80L255.94 786.65L256.31 786.51L256.68 786.37L257.06 786.24L257.44 786.10L257.82 785.97L258.20 785.85L258.28 785.55L258.36 785.85L258.59 785.72L258.97 785.60L259.35 785.48L259.74 785.36L260.13 785.24L260.51 785.13L260.90 785.01L261.28 784.90L261.67 784.79L262.05 784.67L262.44 784.56L262.82 784.45L263.21 784.34L263.59 784.23L263.98 784.12L264.36 784.02L264.75 783.91L265.14 783.81L265.53 783.71L265.91 783.60L266.30 783.50L266.69 783.41L267.08 783.31L267.47 783.21L267.86 783.11L268.25 783.02L268.64 782.92L269.03 782.83L269.42 782.74L269.81 782.65L270.20 782.55L270.59 782.46L270.98 782.37L271.37 782.28L271.76 782.18L272.15 782.09L272.54 781.99L272.93 781.90L273.32 781.80L273.71 781.71L274.10 781.61L274.49 781.52L274.88 781.43L275.27 781.33L275.66 781.24L276.05 781.15L276.44 781.05L276.83 780.96L277.23 780.87L277.62 780.78L278.01 780.69L278.40 780.61L278.79 780.52L279.19 780.43L279.58 780.35L279.97 780.27L280.36 780.18L280.76 780.10L281.15 780.03L281.54 779.95L281.94 779.87L282.33 779.80L282.72 779.73L283.12 779.66L283.51 779.59L283.91 779.53L284.30 779.47L284.69 779.41L285.09 779.35L285.48 779.29L285.88 779.24L286.27 779.19L286.67 779.14L287.07 779.09L287.46 779.05L287.86 779.00L288.26 778.95L288.65 778.91L289.05 778.86L289.45 778.82L289.84 778.78L290.24 778.73L290.64 778.69L291.04 778.65L291.44 778.61L291.83 778.57L292.23 778.53L292.63 778.49L293.03 778.45L293.43 778.41L293.83 778.37L294.23 778.33L294.63 778.30L295.03 778.26L295.43 778.23L295.83 778.19L296.23 778.16L296.63 778.12L297.03 778.09L297.43 778.06L297.83 778.02L298.23 777.99L298.63 777.96L299.03 777.93L299.43 777.90L299.83 777.87L300.23 777.84L300.63 777.81L301.03 777.78L301.43 777.76L301.83 777.73L302.23 777.70L302.63 777.67L303.03 777.65L303.43 777.62L303.83 777.60L304.23 777.57L304.63 777.55L305.03 777.53L305.43 777.50L305.83 777.48L306.23 777.46L306.63 777.44L307.03 777.41L307.43 777.39L307.83 777.37L308.23 777.35L308.63 777.33L309.03 777.31L309.43 777.29L309.83 777.27L310.23 777.25L310.63 777.23L311.03 777.21L311.43 777.19L311.83 777.17L312.23 777.15L312.63 777.13L313.03 777.11L313.43 777.10L313.83 777.08L314.23 777.06L314.63 777.04L315.03 777.02L315.44 777.01L315.84 776.99L316.24 776.97L316.64 776.96L317.04 776.94L317.44 776.92L317.84 776.91L318.24 776.89L318.64 776.88L319.04 776.86L319.44 776.85L319.84 776.83L320.24 776.82L320.64 776.80L321.04 776.79L321.44 776.78L321.84 776.76L322.24 776.75L322.64 776.74L323.04 776.73L323.45 776.71L323.85 776.70L324.25 776.69L324.65 776.68L325.05 776.67L325.45 776.66L325.85 776.65L326.25 776.64L326.65 776.63L327.05 776.63L327.45 776.62L327.85 776.61L328.25 776.60L328.65 776.60L329.05 776.59L329.45 776.58L329.85 776.58L330.25 776.57L330.65 776.57L331.06 776.56L331.46 776.55L331.86 776.55L332.26 776.54L332.66 776.53L333.06 776.53L333.46 776.52L333.86 776.52L334.26 776.51L334.66 776.50L335.06 776.50L335.46 776.49L335.86 776.49L336.26 776.48L336.66 776.48L337.06 776.47L337.46 776.47L337.86 776.46L338.26 776.45L338.67 776.45L339.07 776.44L339.47 776.44L339.87 776.43L340.27 776.43L340.67 776.42L341.07 776.42L341.47 776.41L341.87 776.41L342.27 776.41L342.67 776.40L343.07 776.40L343.47 776.39L343.87 776.39L344.27 776.38L344.67 776.38L345.08 776.38L345.48 776.37L345.88 776.37L346.28 776.36L346.68 776.36L347.08 776.36L347.48 776.35L347.88 776.35L348.28 776.35L348.68 776.34L349.08 776.34L349.48 776.34L349.88 776.33L350.28 776.33L350.68 776.33L351.09 776.33L351.49 776.32L351.89 776.32L352.29 776.32L352.69 776.32L353.09 776.31L353.49 776.31L353.89 776.31L354.29 776.31L354.69 776.31L355.09 776.31L355.49 776.31L355.89 776.30L356.29 776.30L356.70 776.30L357.10 776.30L357.50 776.30L357.90 776.30L358.30 776.30L358.70 776.30L359.10 776.30" stroke="#000" stroke-width="1.40" fill="none" stroke-linejoin="round"/>
<path d="M55.60 936.00L56.06 936.39L56.53 936.76L56.99 937.09L57.44 937.39L57.88 937.66L58.31 937.91L58.73 938.12L59.12 938.32L59.50 938.48L59.85 938.62L60.17 938.74L60.47 938.84L60.73 938.91L60.95 938.96L61.14 938.99L61.29 939.00L61.41 938.97L61.52 938.89L61.62 938.75L61.71 938.56L61.80 938.32L61.88 938.04L61.95 937.72L62.02 937.36L62.08 936.97L62.14 936.55L62.20 936.10L62.25 935.64L62.30 935.15L62.35 934.65L62.40 934.13L62.45 933.61L62.51 933.09L62.56 932.56L62.61 932.04L62.67 931.52L62.73 931.02L62.79 930.52L62.86 930.05L62.94 929.60L63.02 929.17L63.11 928.77L63.20 928.38L63.30 927.99L63.40 927.60L63.50 927.21L63.61 926.83L63.72 926.44L63.83 926.05L63.95 925.66L64.07 925.28L64.19 924.89L64.32 924.51L64.46 924.13L64.59 923.75L64.73 923.37L64.87 923.00L65.02 922.63L65.17 922.26L65.33 921.89L65.49 921.53L65.65 921.17L65.82 920.80L66.01 920.42L66.20 920.05L66.41 919.69L66.62 919.35L66.85 919.02L67.09 918.72L67.35 918.45L67.62 918.21L67.93 917.97L68.25 917.75L68.60 917.53L68.96 917.33L69.33 917.14L69.70 916.95L70.08 916.77L70.45 916.60L70.82 916.44L71.18 916.28L71.54 916.12L71.91 915.97L72.28 915.82L72.65 915.67L73.02 915.53L73.40 915.39L73.78 915.25L74.16 915.12L74.54 914.99L74.92 914.86L75.30 914.73L75.69 914.61L76.07 914.49L76.46 914.37L76.84 914.25L77.23 914.14L77.62 914.02L78.00 913.91L78.39 913.80L78.78 913.69L79.16 913.58L79.55 913.47L79.93 913.36L80.32 913.26L80.70 913.15L81.09 913.04L81.48 912.93L81.86 912.83L82.25 912.72L82.64 912.62L83.02 912.51L83.41 912.41L83.80 912.30L84.19 912.20L84.58 912.10L84.97 912.00L85.36 911.90L85.75 911.81L86.14 911.71L86.53 911.62L86.92 911.53L87.32 911.44L87.71 911.35L88.10 911.27L88.49 911.18L88.89 911.10L89.28 911.03L89.67 910.95L90.07 910.88L90.46 910.81L90.85 910.75L91.25 910.68L91.64 910.62L92.03 910.57L92.43 910.51L92.82 910.46L93.22 910.40L93.62 910.35L94.01 910.30L94.41 910.25L94.80 910.20L95.20 910.15L95.60 910.11L96.00 910.06L96.39 910.01L96.79 909.97L97.19 909.92L97.59 909.88L97.99 909.84L98.39 909.80L98.78 909.75L99.18 909.71L99.58 909.67L99.98 909.64L100.38 909.60L100.78 909.56L101.18 909.52L101.58 909.49L101.98 909.45L102.38 909.41L102.78 909.38L103.18 909.34L103.58 909.31L103.98 909.28L104.38 909.24L104.78 909.21L105.18 909.18L105.58 909.14L105.98 909.11L106.38 909.08L106.79 909.05L107.19 909.02L107.59 908.99L107.99 908.95L108.39 908.92L108.79 908.89L109.18 908.86L109.58 908.83L109.98 908.80L110.38 908.77L110.78 908.74L111.18 908.71L111.58 908.68L111.98 908.65L112.38 908.62L112.78 908.58L113.18 908.55L113.58 908.52L113.98 908.49L114.38 908.46L114.78 908.43L115.18 908.39L115.58 908.36L115.98 908.33L116.38 908.30L116.78 908.27L117.18 908.24L117.58 908.21L117.98 908.18L118.38 908.15L118.78 908.12L119.18 908.09L119.58 908.06L119.98 908.03L120.38 908.00L120.78 907.97L121.18 907.94L121.58 907.91L121.98 907.89L122.38 907.86L122.78 907.83L123.18 907.81L123.58 907.78L123.98 907.76L124.38 907.73L124.78 907.71L125.18 907.69L125.58 907.66L125.98 907.64L126.38 907.62L126.78 907.60L127.18 907.58L127.58 907.56L127.98 907.55L128.38 907.53L128.78 907.51L129.18 907.50L129.58 907.48L129.98 907.47L130.38 907.46L130.78 907.45L131.18 907.43L131.58 907.43L131.98 907.42L132.38 907.41L132.78 907.40L133.19 907.40L133.59 907.39L133.99 907.39L134.39 907.38L134.79 907.38L135.19 907.37L135.59 907.37L135.99 907.36L136.39 907.36L136.79 907.35L137.19 907.35L137.59 907.34L137.99 907.34L138.39 907.33L138.79 907.33L139.19 907.33L139.59 907.32L139.99 907.32L140.39 907.31L140.79 907.31L141.19 907.30L141.60 907.30L142.00 907.29L142.40 907.29L142.80 907.29L143.20 907.28L143.60 907.28L144.00 907.27L144.40 907.27L144.80 907.27L145.20 907.26L145.60 907.26L146.00 907.26L146.40 907.25L146.80 907.25L147.20 907.24L147.61 907.24L148.01 907.24L148.41 907.23L148.81 907.23L149.21 907.23L149.61 907.22L150.01 907.22L150.41 907.22L150.81 907.21L151.21 907.21L151.61 907.21L152.01 907.20L152.41 907.20L152.82 907.20L153.22 907.19L153.62 907.19L154.02 907.19L154.42 907.19L154.82 907.18L155.22 907.18L155.62 907.18L156.02 907.18L156.42 907.17L156.82 907.17L157.23 907.17L157.63 907.17L158.03 907.16L158.43 907.16L158.83 907.16L159.23 907.16L159.63 907.15L160.03 907.15L160.43 907.15L160.83 907.15L161.23 907.15L161.63 907.14L162.04 907.14L162.44 907.14L162.84 907.14L163.24 907.14L163.64 907.13L164.04 907.13L164.44 907.13L164.84 907.13L165.24 907.13L165.64 907.13L166.04 907.12L166.45 907.12L166.85 907.12L167.25 907.12L167.65 907.12L168.05 907.12L168.45 907.12L168.85 907.11L169.25 907.11L169.65 907.11L170.05 907.11L170.45 907.11L170.85 907.11L171.26 907.11L171.66 907.11L172.06 907.11L172.46 907.11L172.86 907.11L173.26 907.10L173.66 907.10L174.06 907.10L174.46 907.10L174.86 907.10L175.26 907.10L175.66 907.10L176.07 907.10L176.47 907.10L176.87 907.10L177.27 907.10L177.67 907.10L178.07 907.10L178.47 907.10L178.87 907.10L179.27 907.10L179.67 907.10L180.07 907.10L180.47 907.10L180.87 907.10L181.28 907.10L181.68 907.10L182.08 907.10L182.48 907.10L182.88 907.10L183.28 907.10L183.68 907.10L184.08 907.10L184.48 907.10L184.88 907.10L185.28 907.10L185.68 907.10L186.08 907.11L186.49 907.11L186.89 907.11L187.29 907.11L187.69 907.11L188.09 907.11L188.49 907.11L188.89 907.11L189.29 907.11L189.69 907.11L190.09 907.11L190.49 907.11L190.89 907.12L191.29 907.12L191.70 907.12L192.10 907.12L192.50 907.12L192.90 907.12L193.30 907.12L193.70 907.12L194.10 907.12L194.50 907.13L194.90 907.13L195.30 907.13L195.70 907.13L196.10 907.13L196.50 907.13L196.91 907.13L197.31 907.13L197.71 907.14L198.11 907.14L198.51 907.14L198.91 907.14L199.31 907.14L199.71 907.14L200.11 907.14L200.51 907.15L200.91 907.15L201.31 907.15L201.71 907.15L202.12 907.15L202.52 907.15L202.92 907.16L203.32 907.16L203.72 907.16L204.12 907.16L204.52 907.16L204.92 907.16L205.32 907.17L205.72 907.17L206.12 907.17L206.52 907.17L206.92 907.17L207.33 907.18L207.73 907.18L208.13 907.18L208.53 907.18L208.93 907.18L209.33 907.19L209.73 907.19L210.13 907.19L210.53 907.19L210.93 907.19L211.33 907.20L211.73 907.20L212.13 907.20L212.53 907.20L212.94 907.20L213.34 907.21L213.74 907.21L214.14 907.21L214.54 907.21L214.94 907.21L215.34 907.22L215.74 907.22L216.14 907.22L216.54 907.22L216.94 907.23L217.34 907.23L217.74 907.23L218.15 907.23L218.55 907.23L218.95 907.24L219.35 907.24L219.75 907.24L220.15 907.24L220.55 907.25L220.95 907.25L221.35 907.25L221.75 907.25L222.15 907.25L222.55 907.26L222.95 907.26L223.36 907.26L223.76 907.26L224.16 907.27L224.56 907.27L224.96 907.27L225.36 907.27L225.76 907.28L226.16 907.28L226.56 907.28L226.96 907.28L227.36 907.28L227.76 907.29L228.16 907.29L228.56 907.29L228.97 907.29L229.37 907.30L229.77 907.30L230.17 907.30L230.57 907.30L230.97 907.31L231.37 907.31L231.77 907.31L232.17 907.31L232.57 907.32L232.97 907.32L233.37 907.32L233.77 907.32L234.18 907.33L234.58 907.33L234.98 907.33L235.38 907.34L235.78 907.34L236.18 907.34L236.58 907.35L236.98 907.35L237.38 907.35L237.78 907.36L238.18 907.36L238.58 907.36L238.98 907.37L239.38 907.37L239.79 907.37L240.19 907.38L240.59 907.38L240.99 907.38L241.39 907.39L241.79 907.39L242.19 907.40L242.59 907.40L242.99 907.40L243.39 907.41L243.79 907.41L244.19 907.42L244.59 907.42L245.00 907.42L245.40 907.43L245.80 907.43L246.20 907.44L246.60 907.44L247.00 907.44L247.40 907.45L247.80 907.45L248.20 907.46L248.60 907.46L249.00 907.47L249.40 907.47L249.80 907.48L250.20 907.48L250.61 907.49L251.01 907.49L251.41 907.50L251.81 907.50L252.21 907.50L252.61 907.51L253.01 907.51L253.41 907.52L253.81 907.52L254.21 907.53L254.61 907.53L255.01 907.54L255.41 907.54L255.82 907.55L256.22 907.55L256.62 907.56L257.02 907.57L257.42 907.57L257.82 907.58L258.22 907.58L258.62 907.59L259.02 907.59L259.42 907.60L259.82 907.60L260.22 907.61L260.62 907.61L261.02 907.62L261.43 907.62L261.83 907.63L262.23 907.63L262.63 907.64L263.03 907.65L263.43 907.65L263.83 907.66L264.23 907.66L264.63 907.67L265.03 907.67L265.43 907.68L265.83 907.69L266.23 907.69L266.63 907.70L267.04 907.70L267.44 907.71L267.84 907.71L268.24 907.72L268.64 907.73L269.04 907.73L269.44 907.74L269.84 907.74L270.24 907.75L270.64 907.76L271.04 907.76L271.44 907.77L271.84 907.77L272.24 907.78L272.65 907.79L273.05 907.79L273.45 907.80L273.85 907.80L274.25 907.81L274.65 907.82L275.05 907.82L275.45 907.83L275.85 907.83L276.25 907.84L276.65 907.85L277.05 907.85L277.45 907.86L277.85 907.86L278.26 907.87L278.66 907.88L279.06 907.88L279.46 907.89L279.86 907.89L280.26 907.90L280.66 907.91L281.06 907.91L281.46 907.92L281.86 907.93L282.26 907.93L282.66 907.94L283.06 907.94L283.46 907.95L283.87 907.96L284.27 907.96L284.67 907.97L285.07 907.97L285.47 907.98L285.87 907.99L286.27 907.99L286.67 908.00L287.07 908.01L287.47 908.01L287.87 908.02L288.27 908.02L288.67 908.03L289.08 908.04L289.48 908.04L289.88 908.05L290.28 908.05L290.68 908.06L291.08 908.07L291.48 908.07L291.88 908.08L292.28 908.09L292.68 908.09L293.08 908.10L293.48 908.10L293.88 908.11L294.28 908.12L294.69 908.12L295.09 908.13L295.49 908.13L295.89 908.14L296.29 908.15L296.69 908.15L297.09 908.16L297.49 908.16L297.89 908.17L298.29 908.17L298.69 908.18L299.09 908.19L299.49 908.19L299.89 908.20L300.30 908.20L300.70 908.21L301.10 908.22L301.50 908.22L301.90 908.23L302.30 908.23L302.70 908.24L303.10 908.25L303.50 908.25L303.90 908.26L304.30 908.26L304.70 908.27L305.10 908.28L305.50 908.28L305.91 908.29L306.31 908.29L306.71 908.30L307.11 908.31L307.51 908.31L307.91 908.32L308.31 908.32L308.71 908.33L309.11 908.34L309.51 908.34L309.91 908.35L310.31 908.35L310.71 908.36L311.11 908.37L311.52 908.37L311.92 908.38L312.32 908.39L312.72 908.39L313.12 908.40L313.52 908.40L313.92 908.41L314.32 908.42L314.72 908.42L315.12 908.43L315.52 908.44L315.92 908.44L316.32 908.45L316.72 908.45L317.12 908.46L317.53 908.47L317.93 908.47L318.33 908.48L318.73 908.49L319.13 908.49L319.53 908.50L319.93 908.51L320.33 908.51L320.73 908.52L321.13 908.53L321.53 908.53L321.93 908.54L322.33 908.54L322.73 908.55L323.14 908.56L323.54 908.56L323.94 908.57L324.34 908.58L324.74 908.58L325.14 908.59L325.54 908.60L325.94 908.60L326.34 908.61L326.74 908.62L327.14 908.62L327.54 908.63L327.94 908.64L328.34 908.64L328.75 908.65L329.15 908.66L329.55 908.66L329.95 908.67L330.35 908.68L330.75 908.68L331.15 908.69L331.55 908.70L331.95 908.70L332.35 908.71L332.75 908.72L333.15 908.72L333.55 908.73L333.95 908.74L334.36 908.74L334.76 908.75L335.16 908.76L335.56 908.77L335.96 908.77L336.36 908.78L336.76 908.79L337.16 908.79L337.56 908.80L337.96 908.81L338.36 908.81L338.76 908.82L339.16 908.83L339.56 908.83L339.97 908.84L340.37 908.85L340.77 908.86L341.17 908.86L341.57 908.87L341.97 908.88L342.37 908.88L342.77 908.89L343.17 908.90L343.57 908.90L343.97 908.91L344.37 908.92L344.77 908.93L345.17 908.93L345.57 908.94L345.98 908.95L346.38 908.95L346.78 908.96L347.18 908.97L347.58 908.97L347.98 908.98L348.38 908.99L348.78 909.00L349.18 909.00L349.58 909.01L349.98 909.02L350.38 909.03L350.78 909.03L351.18 909.04L351.59 909.05L351.99 909.05L352.39 909.06L352.79 909.07L353.19 909.08L353.59 909.08L353.99 909.09L354.39 909.10L354.79 909.10L355.19 909.11L355.59 909.12L355.99 909.13L356.39 909.13L356.79 909.14L357.20 909.15L357.60 909.16L358.00 909.16L358.40 909.17L358.80 909.18L359.20 909.19L359.60 909.19L360.00 909.20" stroke="#000" stroke-width="1.40" fill="none" stroke-linejoin="round"/>
<path d="M55.60 936.00L55.94 936.29L56.29 936.56L56.64 936.83L56.99 937.09L57.34 937.34L57.69 937.57L58.05 937.79L58.41 937.99L58.77 938.17L59.13 938.33L59.50 938.47L59.87 938.59L60.24 938.68L60.61 938.75L60.98 938.79L61.36 938.80L61.74 938.79L62.12 938.77L62.51 938.74L62.91 938.70L63.30 938.66L63.70 938.60L64.10 938.54L64.50 938.48L64.90 938.41L65.30 938.34L65.71 938.27L66.11 938.19L66.52 938.12L66.92 938.05L67.32 937.99L67.72 937.93L68.11 937.87L68.51 937.81L68.91 937.75L69.30 937.68L69.70 937.61L70.10 937.54L70.49 937.47L70.89 937.40L71.28 937.32L71.68 937.25L72.08 937.18L72.47 937.11L72.87 937.04L73.26 936.97L73.66 936.91L74.06 936.84L74.45 936.78L74.85 936.73L75.25 936.68L75.64 936.63L76.04 936.59L76.44 936.56L76.84 936.53L77.23 936.51L77.63 936.49L78.03 936.48L78.43 936.46L78.83 936.45L79.23 936.43L79.63 936.42L80.03 936.40L80.42 936.39L80.82 936.38L81.22 936.36L81.62 936.35L82.02 936.34L82.42 936.33L82.82 936.31L83.22 936.30L83.62 936.29L84.02 936.28L84.42 936.27L84.82 936.26L85.22 936.25L85.62 936.23L86.02 936.22L86.42 936.21L86.82 936.20L87.22 936.19L87.62 936.18L88.02 936.17L88.43 936.17L88.83 936.16L89.23 936.15L89.63 936.14L90.03 936.13L90.43 936.12L90.83 936.11L91.23 936.11L91.63 936.10L92.03 936.09L92.44 936.08L92.84 936.07L93.24 936.07L93.64 936.06L94.04 936.05L94.44 936.05L94.84 936.04L95.25 936.03L95.65 936.03L96.05 936.02L96.45 936.02L96.85 936.01L97.25 936.01L97.66 936.00L98.06 935.99L98.46 935.99L98.86 935.98L99.26 935.98L99.66 935.98L100.06 935.97L100.47 935.97L100.87 935.96L101.27 935.96L101.67 935.95L102.07 935.95L102.47 935.95L102.88 935.94L103.28 935.94L103.68 935.94L104.08 935.93L104.48 935.93L104.88 935.93L105.28 935.92L105.69 935.92L106.09 935.92L106.49 935.92L106.89 935.91L107.29 935.91L107.69 935.91L108.09 935.91L108.49 935.91L108.90 935.90L109.30 935.90L109.70 935.90L110.10 935.90L110.50 935.90L110.90 935.90L111.30 935.90L111.70 935.89L112.10 935.89L112.50 935.89L112.90 935.89L113.30 935.89L113.71 935.89L114.11 935.89L114.51 935.88L114.91 935.88L115.31 935.88L115.71 935.88L116.11 935.88L116.51 935.88L116.91 935.88L117.31 935.88L117.71 935.87L118.11 935.87L118.52 935.87L118.92 935.87L119.32 935.87L119.72 935.87L120.12 935.87L120.52 935.87L120.92 935.86L121.32 935.86L121.72 935.86L122.12 935.86L122.52 935.86L122.92 935.86L123.33 935.86L123.73 935.86L124.13 935.86L124.53 935.85L124.93 935.85L125.33 935.85L125.73 935.85L126.13 935.85L126.53 935.85L126.93 935.85L127.33 935.85L127.73 935.85L128.14 935.85L128.54 935.85L128.94 935.84L129.34 935.84L129.74 935.84L130.14 935.84L130.54 935.84L130.94 935.84L131.34 935.84L131.74 935.84L132.14 935.84L132.54 935.84L132.95 935.84L133.35 935.83L133.75 935.83L134.15 935.83L134.55 935.83L134.95 935.83L135.35 935.83L135.75 935.83L136.15 935.83L136.55 935.83L136.95 935.83L137.35 935.83L137.76 935.83L138.16 935.83L138.56 935.83L138.96 935.82L139.36 935.82L139.76 935.82L140.16 935.82L140.56 935.82L140.96 935.82L141.36 935.82L141.76 935.82L142.16 935.82L142.57 935.82L142.97 935.82L143.37 935.82L143.77 935.82L144.17 935.82L144.57 935.82L144.97 935.82L145.37 935.82L145.77 935.81L146.17 935.81L146.57 935.81L146.98 935.81L147.38 935.81L147.78 935.81L148.18 935.81L148.58 935.81L148.98 935.81L149.38 935.81L149.78 935.81L150.18 935.81L150.58 935.81L150.98 935.81L151.38 935.81L151.79 935.81L152.19 935.81L152.59 935.81L152.99 935.81L153.39 935.81L153.79 935.80L154.19 935.80L154.59 935.80L154.99 935.80L155.39 935.80L155.79 935.80L156.19 935.80L156.60 935.80L157.00 935.80L157.40 935.80L157.80 935.80L158.20 935.80L158.60 935.80L159.00 935.80L159.40 935.80L159.80 935.80L160.20 935.80L160.60 935.80L161.01 935.80L161.41 935.80L161.81 935.80L162.21 935.80L162.61 935.80L163.01 935.80L163.41 935.80L163.81 935.79L164.21 935.79L164.61 935.79L165.01 935.79L165.41 935.79L165.82 935.79L166.22 935.79L166.62 935.79L167.02 935.79L167.42 935.79L167.82 935.79L168.22 935.79L168.62 935.79L169.02 935.79L169.42 935.79L169.82 935.79L170.23 935.79L170.63 935.79L171.03 935.79L171.43 935.79L171.83 935.79L172.23 935.79L172.63 935.79L173.03 935.79L173.43 935.79L173.83 935.79L174.23 935.79L174.63 935.79L175.04 935.78L175.44 935.78L175.84 935.78L176.24 935.78L176.64 935.78L177.04 935.78L177.44 935.78L177.84 935.78L178.24 935.78L178.64 935.78L179.04 935.78L179.45 935.78L179.85 935.78L180.25 935.78L180.65 935.78L181.05 935.78L181.45 935.78L181.85 935.78L182.25 935.78L182.65 935.78L183.05 935.78L183.45 935.78L183.85 935.78L184.26 935.78L184.66 935.78L185.06 935.78L185.46 935.78L185.86 935.77L186.26 935.77L186.66 935.77L187.06 935.77L187.46 935.77L187.86 935.77L188.26 935.77L188.67 935.77L189.07 935.77L189.47 935.77L189.87 935.77L190.27 935.77L190.67 935.77L191.07 935.77L191.47 935.77L191.87 935.77L192.27 935.77L192.67 935.77L193.07 935.77L193.48 935.77L193.88 935.77L194.28 935.77L194.68 935.76L195.08 935.76L195.48 935.76L195.88 935.76L196.28 935.76L196.68 935.76L197.08 935.76L197.48 935.76L197.89 935.76L198.29 935.76L198.69 935.76L199.09 935.76L199.49 935.76L199.89 935.76L200.29 935.76L200.69 935.76L201.09 935.76L201.49 935.75L201.89 935.75L202.29 935.75L202.70 935.75L203.10 935.75L203.50 935.75L203.90 935.75L204.30 935.75L204.70 935.75L205.10 935.75L205.50 935.75L205.90 935.75L206.30 935.75L206.70 935.75L207.10 935.75L207.51 935.74L207.91 935.74L208.31 935.74L208.71 935.74L209.11 935.74L209.51 935.74L209.91 935.74L210.31 935.74L210.71 935.74L211.11 935.74L211.51 935.74L211.92 935.74L212.32 935.73L212.72 935.73L213.12 935.73L213.52 935.73L213.92 935.73L214.32 935.73L214.72 935.73L215.12 935.73L215.52 935.73L215.92 935.73L216.32 935.73L216.73 935.72L217.13 935.72L217.53 935.72L217.93 935.72L218.33 935.72L218.73 935.72L219.13 935.72L219.53 935.72L219.93 935.72L220.33 935.71L220.73 935.71L221.13 935.71L221.54 935.71L221.94 935.71L222.34 935.71L222.74 935.71L223.14 935.71L223.54 935.71L223.94 935.70L224.34 935.70L224.74 935.70L225.14 935.70L225.54 935.70L225.94 935.70L226.35 935.70L226.75 935.70L227.15 935.69L227.55 935.69L227.95 935.69L228.35 935.69L228.75 935.69L229.15 935.69L229.55 935.69L229.95 935.68L230.35 935.68L230.76 935.68L231.16 935.68L231.56 935.68L231.96 935.68L232.36 935.67L232.76 935.67L233.16 935.67L233.56 935.67L233.96 935.67L234.36 935.66L234.76 935.66L235.16 935.66L235.57 935.66L235.97 935.66L236.37 935.65L236.77 935.65L237.17 935.65L237.57 935.65L237.97 935.65L238.37 935.64L238.77 935.64L239.17 935.64L239.57 935.64L239.98 935.64L240.38 935.63L240.78 935.63L241.18 935.63L241.58 935.63L241.98 935.62L242.38 935.62L242.78 935.62L243.18 935.62L243.58 935.61L243.98 935.61L244.39 935.61L244.79 935.60L245.19 935.60L245.59 935.60L245.99 935.60L246.39 935.59L246.79 935.59L247.19 935.59L247.59 935.59L247.99 935.58L248.39 935.58L248.80 935.58L249.20 935.57L249.60 935.57L250.00 935.57L250.40 935.56L250.80 935.56L251.20 935.56L251.60 935.55L252.00 935.55L252.40 935.55L252.80 935.54L253.21 935.54L253.61 935.54L254.01 935.53L254.41 935.53L254.81 935.53L255.21 935.52L255.61 935.52L256.01 935.52L256.41 935.51L256.81 935.51L257.21 935.51L257.62 935.50L258.02 935.50L258.42 935.49L258.82 935.49L259.22 935.49L259.62 935.48L260.02 935.48L260.42 935.47L260.82 935.47L261.22 935.47L261.62 935.46L262.03 935.46L262.43 935.45L262.83 935.45L263.23 935.45L263.63 935.44L264.03 935.44L264.43 935.43L264.83 935.43L265.23 935.42L265.63 935.42L266.03 935.42L266.43 935.41L266.84 935.41L267.24 935.40L267.64 935.40L268.04 935.39L268.44 935.39L268.84 935.38L269.24 935.38L269.64 935.37L270.04 935.37L270.44 935.36L270.84 935.36L271.25 935.35L271.65 935.35L272.05 935.34L272.45 935.34L272.85 935.33L273.25 935.33L273.65 935.32L274.05 935.32L274.45 935.31L274.85 935.31L275.25 935.30L275.65 935.30L276.06 935.29L276.46 935.29L276.86 935.28L277.26 935.28L277.66 935.27L278.06 935.26L278.46 935.26L278.86 935.25L279.26 935.25L279.66 935.24L280.06 935.24L280.46 935.23L280.86 935.22L281.27 935.22L281.67 935.21L282.07 935.21L282.47 935.20L282.87 935.19L283.27 935.19L283.67 935.18L284.07 935.18L284.47 935.17L284.87 935.16L285.27 935.16L285.67 935.15L286.07 935.15L286.48 935.14L286.88 935.13L287.28 935.13L287.68 935.12L288.08 935.11L288.48 935.11L288.88 935.10L289.28 935.09L289.68 935.09L290.08 935.08L290.48 935.07L290.88 935.07L291.28 935.06L291.68 935.05L292.09 935.05L292.49 935.04L292.89 935.03L293.29 935.02L293.69 935.02L294.09 935.01L294.49 935.00L294.89 935.00L295.29 934.99L295.69 934.98L296.09 934.97L296.49 934.97L296.89 934.96L297.29 934.95L297.69 934.94L298.10 934.94L298.50 934.93L298.90 934.92L299.30 934.91L299.70 934.91L300.10 934.90L300.50 934.89L300.90 934.88L301.30 934.87L301.70 934.87L302.11 934.86L302.51 934.85L302.91 934.84L303.32 934.83L303.72 934.83L304.12 934.82L304.53 934.81L304.93 934.80L305.34 934.79L305.74 934.78L306.14 934.77L306.55 934.76L306.95 934.75L307.36 934.74L307.76 934.73L308.17 934.72L308.57 934.71L308.98 934.69L309.38 934.68L309.79 934.67L310.19 934.66L310.60 934.64L311.00 934.63L311.41 934.62L311.81 934.60L312.21 934.58L312.62 934.57L313.02 934.55L313.42 934.54L313.83 934.52L314.23 934.50L314.63 934.48L315.03 934.46L315.43 934.44L315.84 934.42L316.24 934.40L316.64 934.38L317.04 934.36L317.44 934.33L317.83 934.31L318.23 934.28L318.63 934.26L319.03 934.23L319.42 934.20L319.82 934.18L320.21 934.15L320.61 934.12L321.00 934.09L321.40 934.05L321.79 934.02L322.18 933.99L322.57 933.95L322.96 933.92L323.35 933.88L323.74 933.85L324.13 933.81L324.51 933.75L324.89 933.66L325.27 933.54L325.65 933.39L326.02 933.23L326.40 933.06L326.78 932.90L327.15 932.75L327.53 932.62L327.92 932.52L328.31 932.44L328.71 932.37L329.10 932.29L329.51 932.23L329.91 932.17L330.31 932.13L330.70 932.11L331.10 932.10L331.51 932.13L331.93 932.20L332.36 932.30L332.78 932.42L333.17 932.57L333.54 932.73L333.85 932.90L334.10 933.09L334.30 933.39L334.47 933.77L334.62 934.20L334.78 934.62L334.97 935.00L335.19 935.29L335.49 935.52L335.86 935.73L336.26 935.87L336.65 935.90L337.02 935.90L337.40 935.90L337.78 935.90L338.16 935.90L338.53 935.90L338.91 935.90L339.30 935.90L339.68 935.90L340.06 935.90L340.44 935.90L340.82 935.90L341.21 935.90L341.59 935.90L341.98 935.90L342.37 935.90L342.75 935.90L343.14 935.90L343.53 935.90L343.92 935.90L344.31 935.90L344.71 935.90L345.10 935.90L345.49 935.90L345.89 935.90L346.29 935.90L346.68 935.90L347.08 935.90L347.48 935.90L347.88 935.90L348.28 935.90L348.69 935.90L349.09 935.90L349.50 935.90L349.90 935.90L350.31 935.90L350.72 935.90L351.13 935.90L351.54 935.90L351.96 935.90L352.37 935.90L352.79 935.90L353.21 935.90L353.63 935.90L354.05 935.90L354.47 935.90L354.89 935.90L355.32 935.90L355.74 935.90L356.17 935.90L356.60 935.90L357.03 935.90L357.47 935.90L357.90 935.90" stroke="#000" stroke-width="1.40" fill="none" stroke-linejoin="round"/>
<path d="M156.5 396.70 L136 410.50" stroke="#000" stroke-width="1.9" fill="none"/><path d="M128.7 415.50 L138.3 402.50 L144.5 412.10 Z" fill="#000"/>
<path d="M156.5 741.60 L136 755.40" stroke="#000" stroke-width="1.9" fill="none"/><path d="M128.7 760.40 L138.3 747.40 L144.5 757.00 Z" fill="#000"/>
<text transform="translate(27.12 269.45) scale(1.060 1)" font-size="13.50" font-weight="normal" text-anchor="start" stroke="#000" stroke-width="0.3">-</text><path d="M36.30 269.45 L37.53 269.45 L37.53 260.16 L36.50 260.16 L36.02 261.09 L34.91 261.97 L33.55 262.48 L33.55 263.69 L34.91 263.13 L36.30 262.16Z" fill="#000" stroke="#000" stroke-width="0.3" stroke-linejoin="round"/><text transform="translate(39.84 269.45) scale(1.060 1)" font-size="13.50" font-weight="normal" text-anchor="start" stroke="#000" stroke-width="0.3">0</text>
<text transform="translate(39.84 250.90) scale(1.060 1)" font-size="13.50" font-weight="normal" text-anchor="start" stroke="#000" stroke-width="0.3">0</text>
<path d="M36.30 232.35 L37.53 232.35 L37.53 223.06 L36.50 223.06 L36.02 223.99 L34.91 224.87 L33.55 225.38 L33.55 226.59 L34.91 226.03 L36.30 225.06Z" fill="#000" stroke="#000" stroke-width="0.3" stroke-linejoin="round"/><text transform="translate(39.84 232.35) scale(1.060 1)" font-size="13.50" font-weight="normal" text-anchor="start" stroke="#000" stroke-width="0.3">0</text>
<text transform="translate(31.88 213.80) scale(1.060 1)" font-size="13.50" font-weight="normal" text-anchor="start" stroke="#000" stroke-width="0.3">2</text><text transform="translate(39.84 213.80) scale(1.060 1)" font-size="13.50" font-weight="normal" text-anchor="start" stroke="#000" stroke-width="0.3">0</text>
<text transform="translate(31.88 195.25) scale(1.060 1)" font-size="13.50" font-weight="normal" text-anchor="start" stroke="#000" stroke-width="0.3">3</text><text transform="translate(39.84 195.25) scale(1.060 1)" font-size="13.50" font-weight="normal" text-anchor="start" stroke="#000" stroke-width="0.3">0</text>
<text transform="translate(31.88 176.70) scale(1.060 1)" font-size="13.50" font-weight="normal" text-anchor="start" stroke="#000" stroke-width="0.3">4</text><text transform="translate(39.84 176.70) scale(1.060 1)" font-size="13.50" font-weight="normal" text-anchor="start" stroke="#000" stroke-width="0.3">0</text>
<text transform="translate(31.88 158.15) scale(1.060 1)" font-size="13.50" font-weight="normal" text-anchor="start" stroke="#000" stroke-width="0.3">5</text><text transform="translate(39.84 158.15) scale(1.060 1)" font-size="13.50" font-weight="normal" text-anchor="start" stroke="#000" stroke-width="0.3">0</text>
<text transform="translate(31.88 139.60) scale(1.060 1)" font-size="13.50" font-weight="normal" text-anchor="start" stroke="#000" stroke-width="0.3">6</text><text transform="translate(39.84 139.60) scale(1.060 1)" font-size="13.50" font-weight="normal" text-anchor="start" stroke="#000" stroke-width="0.3">0</text>
<text transform="translate(31.88 121.05) scale(1.060 1)" font-size="13.50" font-weight="normal" text-anchor="start" stroke="#000" stroke-width="0.3">7</text><text transform="translate(39.84 121.05) scale(1.060 1)" font-size="13.50" font-weight="normal" text-anchor="start" stroke="#000" stroke-width="0.3">0</text>
<text transform="translate(31.88 102.50) scale(1.060 1)" font-size="13.50" font-weight="normal" text-anchor="start" stroke="#000" stroke-width="0.3">8</text><text transform="translate(39.84 102.50) scale(1.060 1)" font-size="13.50" font-weight="normal" text-anchor="start" stroke="#000" stroke-width="0.3">0</text>
<text transform="translate(31.88 83.95) scale(1.060 1)" font-size="13.50" font-weight="normal" text-anchor="start" stroke="#000" stroke-width="0.3">9</text><text transform="translate(39.84 83.95) scale(1.060 1)" font-size="13.50" font-weight="normal" text-anchor="start" stroke="#000" stroke-width="0.3">0</text>
<path d="M28.34 65.40 L29.57 65.40 L29.57 56.11 L28.54 56.11 L28.06 57.04 L26.95 57.92 L25.60 58.43 L25.60 59.64 L26.95 59.08 L28.34 58.11Z" fill="#000" stroke="#000" stroke-width="0.3" stroke-linejoin="round"/><text transform="translate(31.88 65.40) scale(1.060 1)" font-size="13.50" font-weight="normal" text-anchor="start" stroke="#000" stroke-width="0.3">0</text><text transform="translate(39.84 65.40) scale(1.060 1)" font-size="13.50" font-weight="normal" text-anchor="start" stroke="#000" stroke-width="0.3">0</text>
<text transform="translate(51.57 285.55) scale(1.060 1)" font-size="13.50" font-weight="normal" text-anchor="start" stroke="#000" stroke-width="0.3">0</text>
<text transform="translate(153.57 285.55) scale(1.060 1)" font-size="13.50" font-weight="normal" text-anchor="start" stroke="#000" stroke-width="0.3">5</text>
<path d="M256.01 285.55 L257.24 285.55 L257.24 276.26 L256.21 276.26 L255.73 277.19 L254.62 278.07 L253.26 278.58 L253.26 279.79 L254.62 279.23 L256.01 278.26Z" fill="#000" stroke="#000" stroke-width="0.3" stroke-linejoin="round"/><text transform="translate(259.55 285.55) scale(1.060 1)" font-size="13.50" font-weight="normal" text-anchor="start" stroke="#000" stroke-width="0.3">0</text>
<path d="M358.01 285.55 L359.24 285.55 L359.24 276.26 L358.21 276.26 L357.73 277.19 L356.62 278.07 L355.26 278.58 L355.26 279.79 L356.62 279.23 L358.01 278.26Z" fill="#000" stroke="#000" stroke-width="0.3" stroke-linejoin="round"/><text transform="translate(361.55 285.55) scale(1.060 1)" font-size="13.50" font-weight="normal" text-anchor="start" stroke="#000" stroke-width="0.3">5</text>
<text transform="translate(167.30 311.60) scale(0.944 1)" font-size="17.00" font-weight="bold" text-anchor="start" stroke="#000" stroke-width="0.25">Time (min)</text>
<text transform="translate(13.9 247.00) rotate(-90) scale(0.975 1)" font-size="17" font-weight="bold" stroke="#000" stroke-width="0.25">Light transmission (%)</text>
<text transform="translate(27.12 613.75) scale(1.060 1)" font-size="13.50" font-weight="normal" text-anchor="start" stroke="#000" stroke-width="0.3">-</text><path d="M36.30 613.75 L37.53 613.75 L37.53 604.46 L36.50 604.46 L36.02 605.39 L34.91 606.27 L33.55 606.78 L33.55 607.99 L34.91 607.43 L36.30 606.46Z" fill="#000" stroke="#000" stroke-width="0.3" stroke-linejoin="round"/><text transform="translate(39.84 613.75) scale(1.060 1)" font-size="13.50" font-weight="normal" text-anchor="start" stroke="#000" stroke-width="0.3">0</text>
<text transform="translate(39.84 595.20) scale(1.060 1)" font-size="13.50" font-weight="normal" text-anchor="start" stroke="#000" stroke-width="0.3">0</text>
<path d="M36.30 576.65 L37.53 576.65 L37.53 567.36 L36.50 567.36 L36.02 568.29 L34.91 569.17 L33.55 569.68 L33.55 570.89 L34.91 570.33 L36.30 569.36Z" fill="#000" stroke="#000" stroke-width="0.3" stroke-linejoin="round"/><text transform="translate(39.84 576.65) scale(1.060 1)" font-size="13.50" font-weight="normal" text-anchor="start" stroke="#000" stroke-width="0.3">0</text>
<text transform="translate(31.88 558.10) scale(1.060 1)" font-size="13.50" font-weight="normal" text-anchor="start" stroke="#000" stroke-width="0.3">2</text><text transform="translate(39.84 558.10) scale(1.060 1)" font-size="13.50" font-weight="normal" text-anchor="start" stroke="#000" stroke-width="0.3">0</text>
<text transform="translate(31.88 539.55) scale(1.060 1)" font-size="13.50" font-weight="normal" text-anchor="start" stroke="#000" stroke-width="0.3">3</text><text transform="translate(39.84 539.55) scale(1.060 1)" font-size="13.50" font-weight="normal" text-anchor="start" stroke="#000" stroke-width="0.3">0</text>
<text transform="translate(31.88 521.00) scale(1.060 1)" font-size="13.50" font-weight="normal" text-anchor="start" stroke="#000" stroke-width="0.3">4</text><text transform="translate(39.84 521.00) scale(1.060 1)" font-size="13.50" font-weight="normal" text-anchor="start" stroke="#000" stroke-width="0.3">0</text>
<text transform="translate(31.88 502.45) scale(1.060 1)" font-size="13.50" font-weight="normal" text-anchor="start" stroke="#000" stroke-width="0.3">5</text><text transform="translate(39.84 502.45) scale(1.060 1)" font-size="13.50" font-weight="normal" text-anchor="start" stroke="#000" stroke-width="0.3">0</text>
<text transform="translate(31.88 483.90) scale(1.060 1)" font-size="13.50" font-weight="normal" text-anchor="start" stroke="#000" stroke-width="0.3">6</text><text transform="translate(39.84 483.90) scale(1.060 1)" font-size="13.50" font-weight="normal" text-anchor="start" stroke="#000" stroke-width="0.3">0</text>
<text transform="translate(31.88 465.35) scale(1.060 1)" font-size="13.50" font-weight="normal" text-anchor="start" stroke="#000" stroke-width="0.3">7</text><text transform="translate(39.84 465.35) scale(1.060 1)" font-size="13.50" font-weight="normal" text-anchor="start" stroke="#000" stroke-width="0.3">0</text>
<text transform="translate(31.88 446.80) scale(1.060 1)" font-size="13.50" font-weight="normal" text-anchor="start" stroke="#000" stroke-width="0.3">8</text><text transform="translate(39.84 446.80) scale(1.060 1)" font-size="13.50" font-weight="normal" text-anchor="start" stroke="#000" stroke-width="0.3">0</text>
<text transform="translate(31.88 428.25) scale(1.060 1)" font-size="13.50" font-weight="normal" text-anchor="start" stroke="#000" stroke-width="0.3">9</text><text transform="translate(39.84 428.25) scale(1.060 1)" font-size="13.50" font-weight="normal" text-anchor="start" stroke="#000" stroke-width="0.3">0</text>
<path d="M28.34 409.70 L29.57 409.70 L29.57 400.41 L28.54 400.41 L28.06 401.34 L26.95 402.22 L25.60 402.73 L25.60 403.94 L26.95 403.38 L28.34 402.41Z" fill="#000" stroke="#000" stroke-width="0.3" stroke-linejoin="round"/><text transform="translate(31.88 409.70) scale(1.060 1)" font-size="13.50" font-weight="normal" text-anchor="start" stroke="#000" stroke-width="0.3">0</text><text transform="translate(39.84 409.70) scale(1.060 1)" font-size="13.50" font-weight="normal" text-anchor="start" stroke="#000" stroke-width="0.3">0</text>
<text transform="translate(51.57 629.85) scale(1.060 1)" font-size="13.50" font-weight="normal" text-anchor="start" stroke="#000" stroke-width="0.3">0</text>
<text transform="translate(153.57 629.85) scale(1.060 1)" font-size="13.50" font-weight="normal" text-anchor="start" stroke="#000" stroke-width="0.3">5</text>
<path d="M256.01 629.85 L257.24 629.85 L257.24 620.56 L256.21 620.56 L255.73 621.49 L254.62 622.37 L253.26 622.88 L253.26 624.09 L254.62 623.53 L256.01 622.56Z" fill="#000" stroke="#000" stroke-width="0.3" stroke-linejoin="round"/><text transform="translate(259.55 629.85) scale(1.060 1)" font-size="13.50" font-weight="normal" text-anchor="start" stroke="#000" stroke-width="0.3">0</text>
<path d="M358.01 629.85 L359.24 629.85 L359.24 620.56 L358.21 620.56 L357.73 621.49 L356.62 622.37 L355.26 622.88 L355.26 624.09 L356.62 623.53 L358.01 622.56Z" fill="#000" stroke="#000" stroke-width="0.3" stroke-linejoin="round"/><text transform="translate(361.55 629.85) scale(1.060 1)" font-size="13.50" font-weight="normal" text-anchor="start" stroke="#000" stroke-width="0.3">5</text>
<text transform="translate(167.30 656.70) scale(0.944 1)" font-size="17.00" font-weight="bold" text-anchor="start" stroke="#000" stroke-width="0.25">Time (min)</text>
<text transform="translate(13.9 591.40) rotate(-90) scale(0.975 1)" font-size="17" font-weight="bold" stroke="#000" stroke-width="0.25">Light transmission (%)</text>
<text transform="translate(27.12 958.45) scale(1.060 1)" font-size="13.50" font-weight="normal" text-anchor="start" stroke="#000" stroke-width="0.3">-</text><path d="M36.30 958.45 L37.53 958.45 L37.53 949.16 L36.50 949.16 L36.02 950.09 L34.91 950.97 L33.55 951.48 L33.55 952.69 L34.91 952.13 L36.30 951.16Z" fill="#000" stroke="#000" stroke-width="0.3" stroke-linejoin="round"/><text transform="translate(39.84 958.45) scale(1.060 1)" font-size="13.50" font-weight="normal" text-anchor="start" stroke="#000" stroke-width="0.3">0</text>
<text transform="translate(39.84 939.90) scale(1.060 1)" font-size="13.50" font-weight="normal" text-anchor="start" stroke="#000" stroke-width="0.3">0</text>
<path d="M36.30 921.35 L37.53 921.35 L37.53 912.06 L36.50 912.06 L36.02 912.99 L34.91 913.87 L33.55 914.38 L33.55 915.59 L34.91 915.03 L36.30 914.06Z" fill="#000" stroke="#000" stroke-width="0.3" stroke-linejoin="round"/><text transform="translate(39.84 921.35) scale(1.060 1)" font-size="13.50" font-weight="normal" text-anchor="start" stroke="#000" stroke-width="0.3">0</text>
<text transform="translate(31.88 902.80) scale(1.060 1)" font-size="13.50" font-weight="normal" text-anchor="start" stroke="#000" stroke-width="0.3">2</text><text transform="translate(39.84 902.80) scale(1.060 1)" font-size="13.50" font-weight="normal" text-anchor="start" stroke="#000" stroke-width="0.3">0</text>
<text transform="translate(31.88 884.25) scale(1.060 1)" font-size="13.50" font-weight="normal" text-anchor="start" stroke="#000" stroke-width="0.3">3</text><text transform="translate(39.84 884.25) scale(1.060 1)" font-size="13.50" font-weight="normal" text-anchor="start" stroke="#000" stroke-width="0.3">0</text>
<text transform="translate(31.88 865.70) scale(1.060 1)" font-size="13.50" font-weight="normal" text-anchor="start" stroke="#000" stroke-width="0.3">4</text><text transform="translate(39.84 865.70) scale(1.060 1)" font-size="13.50" font-weight="normal" text-anchor="start" stroke="#000" stroke-width="0.3">0</text>
<text transform="translate(31.88 847.15) scale(1.060 1)" font-size="13.50" font-weight="normal" text-anchor="start" stroke="#000" stroke-width="0.3">5</text><text transform="translate(39.84 847.15) scale(1.060 1)" font-size="13.50" font-weight="normal" text-anchor="start" stroke="#000" stroke-width="0.3">0</text>
<text transform="translate(31.88 828.60) scale(1.060 1)" font-size="13.50" font-weight="normal" text-anchor="start" stroke="#000" stroke-width="0.3">6</text><text transform="translate(39.84 828.60) scale(1.060 1)" font-size="13.50" font-weight="normal" text-anchor="start" stroke="#000" stroke-width="0.3">0</text>
<text transform="translate(31.88 810.05) scale(1.060 1)" font-size="13.50" font-weight="normal" text-anchor="start" stroke="#000" stroke-width="0.3">7</text><text transform="translate(39.84 810.05) scale(1.060 1)" font-size="13.50" font-weight="normal" text-anchor="start" stroke="#000" stroke-width="0.3">0</text>
<text transform="translate(31.88 791.50) scale(1.060 1)" font-size="13.50" font-weight="normal" text-anchor="start" stroke="#000" stroke-width="0.3">8</text><text transform="translate(39.84 791.50) scale(1.060 1)" font-size="13.50" font-weight="normal" text-anchor="start" stroke="#000" stroke-width="0.3">0</text>
<text transform="translate(31.88 772.95) scale(1.060 1)" font-size="13.50" font-weight="normal" text-anchor="start" stroke="#000" stroke-width="0.3">9</text><text transform="translate(39.84 772.95) scale(1.060 1)" font-size="13.50" font-weight="normal" text-anchor="start" stroke="#000" stroke-width="0.3">0</text>
<path d="M28.34 754.40 L29.57 754.40 L29.57 745.11 L28.54 745.11 L28.06 746.04 L26.95 746.92 L25.60 747.43 L25.60 748.64 L26.95 748.08 L28.34 747.11Z" fill="#000" stroke="#000" stroke-width="0.3" stroke-linejoin="round"/><text transform="translate(31.88 754.40) scale(1.060 1)" font-size="13.50" font-weight="normal" text-anchor="start" stroke="#000" stroke-width="0.3">0</text><text transform="translate(39.84 754.40) scale(1.060 1)" font-size="13.50" font-weight="normal" text-anchor="start" stroke="#000" stroke-width="0.3">0</text>
<text transform="translate(51.57 974.55) scale(1.060 1)" font-size="13.50" font-weight="normal" text-anchor="start" stroke="#000" stroke-width="0.3">0</text>
<text transform="translate(153.57 974.55) scale(1.060 1)" font-size="13.50" font-weight="normal" text-anchor="start" stroke="#000" stroke-width="0.3">5</text>
<path d="M256.01 974.55 L257.24 974.55 L257.24 965.26 L256.21 965.26 L255.73 966.19 L254.62 967.07 L253.26 967.58 L253.26 968.79 L254.62 968.23 L256.01 967.26Z" fill="#000" stroke="#000" stroke-width="0.3" stroke-linejoin="round"/><text transform="translate(259.55 974.55) scale(1.060 1)" font-size="13.50" font-weight="normal" text-anchor="start" stroke="#000" stroke-width="0.3">0</text>
<path d="M358.01 974.55 L359.24 974.55 L359.24 965.26 L358.21 965.26 L357.73 966.19 L356.62 967.07 L355.26 967.58 L355.26 968.79 L356.62 968.23 L358.01 967.26Z" fill="#000" stroke="#000" stroke-width="0.3" stroke-linejoin="round"/><text transform="translate(361.55 974.55) scale(1.060 1)" font-size="13.50" font-weight="normal" text-anchor="start" stroke="#000" stroke-width="0.3">5</text>
<text transform="translate(167.30 1001.50) scale(0.944 1)" font-size="17.00" font-weight="bold" text-anchor="start" stroke="#000" stroke-width="0.25">Time (min)</text>
<text transform="translate(13.9 936.00) rotate(-90) scale(0.975 1)" font-size="17" font-weight="bold" stroke="#000" stroke-width="0.25">Light transmission (%)</text>
<text transform="translate(24.50 21.90) scale(1.000 1)" font-size="29.00" font-weight="bold" text-anchor="start">A</text>
<text transform="translate(23.00 365.60) scale(1.000 1)" font-size="29.00" font-weight="bold" text-anchor="start">B</text>
<text transform="translate(24.60 712.00) scale(0.955 1)" font-size="29.00" font-weight="bold" text-anchor="start">C</text>
<text transform="translate(368.74 88.50) scale(1.027 1)" font-size="16.30" font-weight="normal" text-anchor="start" stroke="#000" stroke-width="0.2">VIIa/X/II/I + collagen</text>
<text transform="translate(369.35 223.60) scale(0.994 1)" font-size="16.30" font-weight="normal" text-anchor="start" stroke="#000" stroke-width="0.2">collagen</text>
<text transform="translate(369.44 250.60) scale(1.036 1)" font-size="16.30" font-weight="normal" text-anchor="start" stroke="#000" stroke-width="0.2">VIIa/X/II/I</text>
<text transform="translate(120.08 386.00) scale(0.979 1)" font-size="16.30" font-weight="normal" text-anchor="start" stroke="#000" stroke-width="0.2">Normal platelets +collagen</text>
<text transform="translate(368.84 445.50) scale(1.027 1)" font-size="16.30" font-weight="normal" text-anchor="start" stroke="#000" stroke-width="0.2">VIIa/X/II/I + collagen</text>
<text transform="translate(369.45 567.70) scale(0.999 1)" font-size="16.30" font-weight="normal" text-anchor="start" stroke="#000" stroke-width="0.2">collagen</text>
<text transform="translate(368.74 595.40) scale(1.047 1)" font-size="16.30" font-weight="normal" text-anchor="start" stroke="#000" stroke-width="0.2">VIIa/X/II/I</text>
<text transform="translate(120.04 730.60) scale(0.967 1)" font-size="16.30" font-weight="normal" text-anchor="start" stroke="#000" stroke-width="0.2">Normal platelets +TRAP</text>
<text transform="translate(368.49 790.20) scale(1.026 1)" font-size="16.30" font-weight="normal" text-anchor="start" stroke="#000" stroke-width="0.2">VIIa/X/II/I + TRAP</text>
<text transform="translate(370.06 912.80) scale(0.944 1)" font-size="16.30" font-weight="normal" text-anchor="start" stroke="#000" stroke-width="0.2">TRAP</text>
<text transform="translate(369.04 940.30) scale(1.038 1)" font-size="16.30" font-weight="normal" text-anchor="start" stroke="#000" stroke-width="0.2">VIIa/X/II/I</text>
</svg></body></html>
